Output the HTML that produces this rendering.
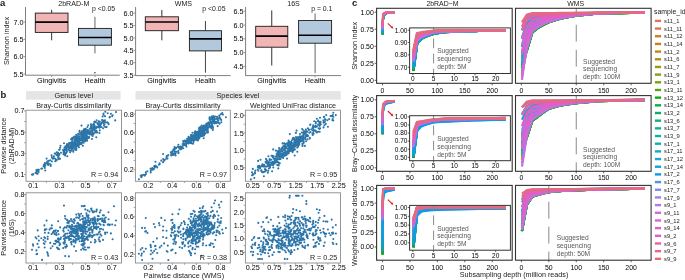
<!DOCTYPE html>
<html><head><meta charset="utf-8"><style>
html,body{margin:0;padding:0;background:#fff;}
.cv{filter:saturate(0.9) brightness(0.94);}
svg{display:block;will-change:transform;font-family:"Liberation Sans", sans-serif;font-size:7.2px;}
</style></head><body>
<svg width="685" height="280" viewBox="0 0 685 280">
<rect width="685" height="280" fill="#fff"/>
<text x="0.00" y="5.60" font-weight="bold" font-size="9.5" fill="#1A1A1A">a</text>
<text x="0" y="0" text-anchor="middle" fill="#1A1A1A" transform="translate(6.70,41.00) rotate(-90)" dominant-baseline="central">Shannon index</text>
<line x1="25.50" y1="7.00" x2="25.50" y2="75.20" stroke="#7F7F7F" stroke-width="1"/>
<line x1="25.00" y1="75.20" x2="119.80" y2="75.20" stroke="#7F7F7F" stroke-width="1"/>
<line x1="23.50" y1="22.00" x2="25.50" y2="22.00" stroke="#7F7F7F" stroke-width="0.8"/>
<text x="23.50" y="24.58" text-anchor="end">7.0</text>
<line x1="23.50" y1="39.33" x2="25.50" y2="39.33" stroke="#7F7F7F" stroke-width="0.8"/>
<text x="23.50" y="41.91" text-anchor="end">6.5</text>
<line x1="23.50" y1="56.67" x2="25.50" y2="56.67" stroke="#7F7F7F" stroke-width="0.8"/>
<text x="23.50" y="59.24" text-anchor="end">6.0</text>
<line x1="23.50" y1="74.00" x2="25.50" y2="74.00" stroke="#7F7F7F" stroke-width="0.8"/>
<text x="23.50" y="76.58" text-anchor="end">5.5</text>
<text x="73.80" y="6.20" text-anchor="middle" font-size="7.1" fill="#1A1A1A">2bRAD-M</text>
<text x="92.00" y="10.98" font-size="6.9" fill="#1A1A1A">p &lt;0.05</text>
<line x1="51.65" y1="9.90" x2="51.65" y2="13.10" stroke="#333" stroke-width="1"/>
<line x1="51.65" y1="32.40" x2="51.65" y2="40.30" stroke="#333" stroke-width="1"/>
<rect x="35.30" y="13.10" width="32.70" height="19.30" fill="#F0B5B4" stroke="#1A1A1A" stroke-width="0.9"/>
<line x1="35.30" y1="22.10" x2="68.00" y2="22.10" stroke="#000" stroke-width="1.6"/>
<line x1="94.95" y1="16.80" x2="94.95" y2="28.40" stroke="#666" stroke-width="1"/>
<line x1="94.95" y1="45.20" x2="94.95" y2="53.40" stroke="#666" stroke-width="1"/>
<rect x="78.50" y="28.40" width="32.90" height="16.80" fill="#B2C8DD" stroke="#1A1A1A" stroke-width="0.9"/>
<line x1="78.50" y1="37.50" x2="111.40" y2="37.50" stroke="#000" stroke-width="1.6"/>
<circle cx="94.95" cy="72.70" r="0.75" fill="#333"/>
<line x1="51.60" y1="75.20" x2="51.60" y2="77.00" stroke="#7F7F7F" stroke-width="0.8"/>
<text x="51.60" y="83.22" text-anchor="middle">Gingivitis</text>
<line x1="95.00" y1="75.20" x2="95.00" y2="77.00" stroke="#7F7F7F" stroke-width="0.8"/>
<text x="95.00" y="83.22" text-anchor="middle">Health</text>
<line x1="135.60" y1="7.00" x2="135.60" y2="75.60" stroke="#7F7F7F" stroke-width="1"/>
<line x1="135.10" y1="75.60" x2="230.70" y2="75.60" stroke="#7F7F7F" stroke-width="1"/>
<line x1="133.60" y1="13.10" x2="135.60" y2="13.10" stroke="#7F7F7F" stroke-width="0.8"/>
<text x="133.60" y="15.68" text-anchor="end">6.0</text>
<line x1="133.60" y1="25.52" x2="135.60" y2="25.52" stroke="#7F7F7F" stroke-width="0.8"/>
<text x="133.60" y="28.10" text-anchor="end">5.5</text>
<line x1="133.60" y1="37.94" x2="135.60" y2="37.94" stroke="#7F7F7F" stroke-width="0.8"/>
<text x="133.60" y="40.52" text-anchor="end">5.0</text>
<line x1="133.60" y1="50.36" x2="135.60" y2="50.36" stroke="#7F7F7F" stroke-width="0.8"/>
<text x="133.60" y="52.94" text-anchor="end">4.5</text>
<line x1="133.60" y1="62.78" x2="135.60" y2="62.78" stroke="#7F7F7F" stroke-width="0.8"/>
<text x="133.60" y="65.36" text-anchor="end">4.0</text>
<line x1="133.60" y1="75.20" x2="135.60" y2="75.20" stroke="#7F7F7F" stroke-width="0.8"/>
<text x="133.60" y="77.78" text-anchor="end">3.5</text>
<text x="183.40" y="6.20" text-anchor="middle" font-size="7.1" fill="#1A1A1A">WMS</text>
<text x="202.30" y="10.98" font-size="6.9" fill="#1A1A1A">p &lt;0.05</text>
<line x1="161.85" y1="10.00" x2="161.85" y2="16.80" stroke="#333" stroke-width="1"/>
<line x1="161.85" y1="30.70" x2="161.85" y2="40.30" stroke="#333" stroke-width="1"/>
<rect x="145.30" y="16.80" width="33.10" height="13.90" fill="#F0B5B4" stroke="#1A1A1A" stroke-width="0.9"/>
<line x1="145.30" y1="22.00" x2="178.40" y2="22.00" stroke="#000" stroke-width="1.6"/>
<line x1="205.45" y1="21.00" x2="205.45" y2="30.70" stroke="#444" stroke-width="1"/>
<line x1="205.45" y1="50.90" x2="205.45" y2="72.70" stroke="#444" stroke-width="1"/>
<rect x="189.40" y="30.70" width="32.10" height="20.20" fill="#B2C8DD" stroke="#1A1A1A" stroke-width="0.9"/>
<line x1="189.40" y1="38.90" x2="221.50" y2="38.90" stroke="#000" stroke-width="1.6"/>
<line x1="161.80" y1="75.60" x2="161.80" y2="77.40" stroke="#7F7F7F" stroke-width="0.8"/>
<text x="161.80" y="83.22" text-anchor="middle">Gingivitis</text>
<line x1="205.40" y1="75.60" x2="205.40" y2="77.40" stroke="#7F7F7F" stroke-width="0.8"/>
<text x="205.40" y="83.22" text-anchor="middle">Health</text>
<line x1="245.60" y1="7.00" x2="245.60" y2="75.60" stroke="#7F7F7F" stroke-width="1"/>
<line x1="245.10" y1="75.60" x2="341.00" y2="75.60" stroke="#7F7F7F" stroke-width="1"/>
<line x1="243.60" y1="11.20" x2="245.60" y2="11.20" stroke="#7F7F7F" stroke-width="0.8"/>
<text x="243.60" y="13.78" text-anchor="end">6.5</text>
<line x1="243.60" y1="25.02" x2="245.60" y2="25.02" stroke="#7F7F7F" stroke-width="0.8"/>
<text x="243.60" y="27.60" text-anchor="end">6.0</text>
<line x1="243.60" y1="38.85" x2="245.60" y2="38.85" stroke="#7F7F7F" stroke-width="0.8"/>
<text x="243.60" y="41.43" text-anchor="end">5.5</text>
<line x1="243.60" y1="52.67" x2="245.60" y2="52.67" stroke="#7F7F7F" stroke-width="0.8"/>
<text x="243.60" y="55.25" text-anchor="end">5.0</text>
<line x1="243.60" y1="66.50" x2="245.60" y2="66.50" stroke="#7F7F7F" stroke-width="0.8"/>
<text x="243.60" y="69.08" text-anchor="end">4.5</text>
<text x="293.50" y="6.20" text-anchor="middle" font-size="7.1" fill="#1A1A1A">16S</text>
<text x="311.20" y="10.68" font-size="6.9" fill="#1A1A1A">p = 0.1</text>
<line x1="271.75" y1="10.40" x2="271.75" y2="26.30" stroke="#333" stroke-width="1"/>
<line x1="271.75" y1="47.20" x2="271.75" y2="65.50" stroke="#333" stroke-width="1"/>
<rect x="255.70" y="26.30" width="32.10" height="20.90" fill="#F0B5B4" stroke="#1A1A1A" stroke-width="0.9"/>
<line x1="255.70" y1="36.10" x2="287.80" y2="36.10" stroke="#000" stroke-width="1.6"/>
<line x1="315.10" y1="13.40" x2="315.10" y2="20.50" stroke="#666" stroke-width="1"/>
<line x1="315.10" y1="43.20" x2="315.10" y2="73.20" stroke="#666" stroke-width="1"/>
<rect x="298.60" y="20.50" width="33.00" height="22.70" fill="#B2C8DD" stroke="#1A1A1A" stroke-width="0.9"/>
<line x1="298.60" y1="35.20" x2="331.60" y2="35.20" stroke="#000" stroke-width="1.6"/>
<line x1="271.80" y1="75.60" x2="271.80" y2="77.40" stroke="#7F7F7F" stroke-width="0.8"/>
<text x="271.80" y="83.22" text-anchor="middle">Gingivitis</text>
<line x1="315.10" y1="75.60" x2="315.10" y2="77.40" stroke="#7F7F7F" stroke-width="0.8"/>
<text x="315.10" y="83.22" text-anchor="middle">Health</text>
<text x="0.50" y="98.00" font-weight="bold" font-size="9.5" fill="#1A1A1A">b</text>
<rect x="26.00" y="91.10" width="94.60" height="8.60" fill="#E4E5E7" stroke="none" stroke-width="1"/>
<rect x="135.50" y="91.10" width="205.20" height="8.60" fill="#E4E5E7" stroke="none" stroke-width="1"/>
<text x="73.80" y="97.98" text-anchor="middle" font-size="7.3" fill="#1A1A1A">Genus level</text>
<text x="238.00" y="97.98" text-anchor="middle" font-size="7.3" fill="#1A1A1A">Species level</text>
<text x="73.80" y="107.92" text-anchor="middle" fill="#1A1A1A">Bray-Curtis dissimilarity</text>
<text x="183.00" y="107.92" text-anchor="middle" fill="#1A1A1A">Bray-Curtis dissimilarity</text>
<text x="293.00" y="107.92" text-anchor="middle" fill="#1A1A1A">Weighted UniFrac distance</text>
<path d="M94.4 126.4h0M99.4 132.9h0M78.2 133.7h0M85.5 129.4h0M76.4 136.0h0M84.0 129.3h0M85.2 135.2h0M74.8 141.8h0M100.3 126.7h0M75.3 138.1h0M33.2 174.0h0M79.6 130.8h0M89.8 134.2h0M85.5 131.1h0M73.0 138.7h0M68.5 146.4h0M95.2 128.2h0M87.8 137.3h0M103.5 114.6h0M67.5 144.4h0M73.2 137.5h0M78.1 141.4h0M71.0 139.2h0M98.8 121.3h0M64.5 147.5h0M37.2 169.7h0M82.0 138.7h0M73.0 144.5h0M69.1 143.0h0M59.4 154.6h0M72.6 143.5h0M103.0 120.5h0M54.0 156.8h0M56.7 152.3h0M89.5 134.4h0M75.1 140.7h0M75.8 143.4h0M61.0 152.8h0M80.1 140.8h0M78.8 145.2h0M85.5 135.9h0M85.2 140.4h0M81.9 131.2h0M96.6 132.3h0M63.6 152.6h0M87.6 131.7h0M89.6 133.1h0M72.5 139.4h0M109.9 116.9h0M56.5 160.5h0M82.9 132.3h0M92.5 130.8h0M81.5 125.6h0M83.0 140.1h0M47.7 164.1h0M66.6 148.6h0M65.0 153.6h0M66.4 146.6h0M87.4 127.1h0M51.6 155.4h0M76.0 139.8h0M85.8 134.7h0M91.0 124.4h0M85.9 129.0h0M82.0 138.0h0M81.8 139.4h0M79.4 142.2h0M84.2 134.7h0M88.5 132.6h0M90.9 127.2h0M102.6 116.5h0M56.3 159.8h0M102.0 120.0h0M92.7 127.5h0M89.9 132.9h0M83.4 135.5h0M59.7 149.7h0M84.4 135.3h0M99.8 124.1h0M78.1 141.5h0M84.8 133.8h0M75.6 143.9h0M88.4 130.2h0M84.1 140.6h0M68.4 149.8h0M110.9 113.7h0M78.9 134.5h0M81.0 140.3h0M70.9 145.4h0M85.2 132.2h0M82.3 138.4h0M68.4 146.7h0M46.4 163.1h0M84.9 140.7h0M50.7 164.8h0M83.1 135.8h0M91.5 134.8h0M105.0 120.3h0M64.8 149.8h0M83.6 139.5h0M75.6 146.0h0M73.6 146.8h0M72.3 140.5h0M82.9 145.7h0M94.2 124.6h0M43.6 166.3h0M104.4 124.4h0M73.7 142.7h0M100.6 124.4h0M108.2 123.1h0M101.1 124.1h0M44.3 165.5h0M74.1 142.1h0M79.2 139.4h0M66.3 149.6h0M96.3 137.3h0M75.2 145.3h0M84.4 133.9h0M92.8 127.0h0M71.7 148.4h0M75.6 145.0h0M93.5 134.1h0M74.1 148.5h0M94.6 126.2h0M58.2 152.9h0M72.8 144.7h0M97.7 124.3h0M83.5 130.8h0M84.5 140.2h0M72.8 144.3h0M69.1 147.4h0M77.0 137.6h0M83.2 142.1h0M74.7 148.8h0M77.3 139.6h0M107.1 122.2h0M83.7 135.3h0M48.5 160.9h0M63.7 149.7h0M81.0 134.6h0M64.9 149.5h0M69.1 147.1h0M78.1 146.3h0M44.9 163.0h0M108.6 124.3h0M71.6 145.6h0M76.2 137.0h0M83.7 142.8h0M68.9 144.8h0M58.6 157.2h0M77.0 141.6h0M60.1 158.7h0M92.0 139.0h0M52.5 158.2h0M79.5 131.4h0M76.4 138.7h0M65.2 149.7h0M89.2 131.4h0M71.6 139.3h0M103.5 113.6h0M79.0 141.9h0M82.7 140.8h0M76.2 134.9h0M74.0 144.7h0M36.4 170.1h0M81.2 133.3h0M83.8 139.2h0M69.9 148.2h0M105.2 127.1h0M67.0 144.9h0M98.7 125.6h0M72.1 141.8h0M103.1 128.2h0M89.8 128.7h0M101.4 127.0h0M73.6 144.4h0M85.1 140.4h0M77.3 141.9h0M71.5 142.9h0M45.4 165.4h0M97.8 126.9h0M82.2 135.4h0M88.9 133.6h0M85.5 132.8h0M94.0 128.1h0M77.3 137.8h0M98.8 126.8h0M93.0 128.5h0M82.9 135.9h0M72.4 139.2h0M78.6 138.4h0M36.5 173.4h0M65.7 153.4h0M88.9 132.4h0M58.7 155.9h0M49.5 163.7h0M80.7 140.4h0M71.6 142.5h0M70.1 152.2h0M85.6 133.5h0M85.8 135.5h0M84.9 129.0h0M87.0 140.6h0M75.8 140.4h0M70.9 146.3h0M73.1 143.5h0M83.9 134.1h0M72.1 138.0h0M83.0 135.0h0M81.2 135.8h0M82.2 142.6h0M71.6 142.9h0M81.5 142.8h0M81.1 138.5h0M88.1 130.9h0M94.3 121.9h0M83.4 132.4h0M57.0 155.3h0M77.1 137.9h0M92.5 130.4h0M71.4 145.0h0M38.9 169.7h0M78.9 136.6h0M78.1 141.1h0M64.6 153.4h0M64.1 154.4h0M64.0 143.3h0M79.0 147.3h0M90.8 131.0h0M64.0 151.4h0M77.9 141.2h0M71.5 148.5h0M77.1 138.9h0M87.1 133.1h0M67.0 151.7h0M66.5 150.2h0M108.5 123.8h0M82.2 135.6h0M60.1 147.8h0M76.8 135.4h0M81.6 133.7h0M87.6 133.2h0M88.5 132.4h0M57.8 154.0h0M105.3 111.8h0M71.3 145.1h0M58.2 155.2h0M89.1 137.1h0M85.6 134.4h0M75.1 141.9h0M100.0 126.9h0M79.0 143.2h0M103.9 120.9h0M77.0 139.7h0M99.2 127.8h0M105.0 116.3h0M103.2 123.0h0M82.1 136.0h0M54.7 153.5h0M55.4 158.7h0M88.7 132.4h0M91.4 131.6h0M78.2 141.5h0M44.9 164.2h0M76.1 147.5h0M50.3 160.2h0M79.9 144.3h0M95.5 130.2h0M71.3 142.6h0M65.2 155.4h0M82.5 131.8h0M74.4 136.5h0M92.5 124.7h0M81.8 134.9h0M52.9 158.8h0M69.8 147.1h0M46.6 158.6h0M38.6 171.9h0M116.0 112.1h0M70.8 143.8h0M86.9 135.8h0M87.9 138.1h0M44.4 164.8h0M71.0 145.4h0M87.0 140.8h0M79.2 141.7h0M95.1 131.0h0M112.2 116.3h0M63.2 149.8h0M104.9 116.2h0M89.1 137.4h0M74.1 143.5h0M71.9 147.1h0M37.7 173.8h0M74.6 140.5h0M92.2 131.9h0M45.0 165.6h0M75.6 149.7h0M99.9 121.7h0M87.1 133.4h0M58.0 153.4h0M90.4 133.4h0M85.4 128.7h0M87.9 131.6h0M89.2 134.1h0M91.0 128.8h0M87.7 130.5h0M100.6 126.2h0M65.4 146.3h0M67.2 146.9h0M79.4 136.4h0M74.9 139.0h0M60.5 145.7h0M81.2 138.3h0M80.2 140.6h0M92.9 127.2h0M109.6 117.4h0M73.3 151.7h0M86.4 132.2h0M81.4 144.1h0M81.5 140.2h0M76.0 140.9h0M92.8 130.7h0M79.7 140.6h0M59.1 153.7h0M70.3 142.8h0M78.5 136.2h0M63.3 150.7h0M86.7 132.3h0M85.3 141.1h0M115.2 120.4h0M89.6 131.8h0M89.9 133.9h0M86.0 133.9h0M85.4 138.3h0M73.5 146.0h0M88.6 133.1h0M76.3 149.9h0M66.1 153.2h0M97.5 123.2h0M82.7 136.9h0M69.4 150.5h0M92.9 128.3h0M59.1 149.7h0M81.9 132.4h0M64.7 154.2h0M51.9 161.5h0M73.4 150.6h0M95.0 130.5h0M88.8 137.9h0M58.1 157.7h0M94.4 127.0h0M79.2 140.7h0M86.2 135.7h0M106.6 126.9h0M57.9 152.9h0M84.3 137.1h0M97.0 132.6h0M38.7 169.7h0M91.0 126.0h0M86.7 139.6h0M83.3 134.8h0M99.8 130.2h0M81.8 134.3h0M65.3 148.0h0M104.5 121.9h0M71.9 148.5h0M71.1 150.6h0M91.7 134.1h0M93.8 125.2h0M81.9 136.4h0M37.5 170.7h0M42.1 168.5h0M93.8 129.3h0M56.5 155.1h0M67.3 156.2h0M41.3 168.8h0M84.1 136.1h0M96.8 131.6h0M84.6 137.8h0M85.5 135.8h0M82.7 141.7h0M44.8 168.0h0M92.6 136.0h0M73.5 147.5h0M64.5 150.9h0M78.9 137.2h0M68.8 148.0h0M82.8 138.4h0M48.2 165.0h0M32.0 174.6h0M44.4 166.6h0M51.9 157.4h0M87.5 133.7h0M47.2 161.5h0M83.1 135.5h0M79.6 139.7h0M53.8 158.2h0M75.5 145.7h0M93.3 126.7h0M90.4 132.4h0M86.4 137.9h0M85.3 135.3h0M83.2 133.6h0M112.6 115.3h0M45.2 170.5h0M77.8 143.2h0M58.0 155.7h0M81.9 136.2h0M63.5 154.2h0M92.1 129.3h0M94.4 125.8h0M63.4 150.3h0M76.4 148.4h0M100.4 127.3h0M85.2 138.5h0M92.4 132.6h0M96.4 127.9h0M68.5 144.4h0M99.5 125.4h0M80.8 143.0h0M55.3 161.3h0M43.8 164.9h0M93.8 133.3h0M32.9 174.7h0M55.5 153.7h0M96.6 120.2h0M94.8 121.7h0M75.5 146.7h0M80.0 132.8h0M36.5 171.6h0M107.7 113.3h0M84.6 135.6h0M95.8 122.2h0M81.0 138.0h0M102.0 122.2h0M95.0 128.4h0M82.6 140.2h0M77.8 140.5h0M91.0 126.9h0M88.1 137.4h0M84.3 135.1h0M77.4 144.5h0M76.6 145.7h0M71.3 150.7h0M88.2 125.2h0M47.8 162.4h0M71.9 145.9h0M93.8 123.9h0M50.7 165.9h0M80.3 138.3h0M71.6 147.1h0M53.9 156.4h0M55.8 160.5h0M98.9 124.0h0M100.6 123.5h0M83.4 130.6h0M35.6 172.9h0M69.4 146.8h0M94.6 125.9h0M47.7 161.9h0M77.1 138.9h0M94.9 127.1h0M44.7 167.4h0M67.3 144.2h0M92.9 128.5h0M64.7 152.2h0M95.7 122.2h0M103.9 125.4h0M97.7 124.3h0M58.4 159.3h0M67.0 144.0h0M92.3 134.6h0M82.1 135.9h0M105.8 122.5h0M58.3 156.4h0M72.0 149.0h0M96.7 126.7h0M95.3 132.4h0M76.2 138.2h0M96.4 130.7h0M72.8 144.5h0M67.9 145.5h0M68.9 144.6h0M69.8 143.4h0M84.8 131.0h0M65.3 148.6h0M87.8 130.0h0M86.6 130.1h0M64.9 154.3h0M88.0 132.8h0M102.9 121.4h0M93.7 129.1h0M98.4 122.3h0" stroke="#2C75A9" stroke-width="2.1" stroke-linecap="round" fill="none"/>
<rect x="26.00" y="110.20" width="95.50" height="71.10" fill="none" stroke="#8C8C8C" stroke-width="0.9"/>
<line x1="24.00" y1="174.50" x2="26.00" y2="174.50" stroke="#8C8C8C" stroke-width="0.8"/>
<text x="24.40" y="177.08" text-anchor="end">0.1</text>
<line x1="24.00" y1="153.30" x2="26.00" y2="153.30" stroke="#8C8C8C" stroke-width="0.8"/>
<text x="24.40" y="155.88" text-anchor="end">0.3</text>
<line x1="24.00" y1="132.10" x2="26.00" y2="132.10" stroke="#8C8C8C" stroke-width="0.8"/>
<text x="24.40" y="134.68" text-anchor="end">0.5</text>
<line x1="24.00" y1="110.90" x2="26.00" y2="110.90" stroke="#8C8C8C" stroke-width="0.8"/>
<text x="24.40" y="113.48" text-anchor="end">0.7</text>
<line x1="24.20" y1="163.90" x2="26.00" y2="163.90" stroke="#8C8C8C" stroke-width="0.8"/>
<line x1="24.20" y1="142.70" x2="26.00" y2="142.70" stroke="#8C8C8C" stroke-width="0.8"/>
<line x1="24.20" y1="121.50" x2="26.00" y2="121.50" stroke="#8C8C8C" stroke-width="0.8"/>
<line x1="46.37" y1="181.30" x2="46.37" y2="183.10" stroke="#8C8C8C" stroke-width="0.8"/>
<line x1="72.50" y1="181.30" x2="72.50" y2="183.10" stroke="#8C8C8C" stroke-width="0.8"/>
<line x1="98.63" y1="181.30" x2="98.63" y2="183.10" stroke="#8C8C8C" stroke-width="0.8"/>
<line x1="33.30" y1="181.30" x2="33.30" y2="183.30" stroke="#8C8C8C" stroke-width="0.8"/>
<text x="33.30" y="188.08" text-anchor="middle">0.1</text>
<line x1="59.43" y1="181.30" x2="59.43" y2="183.30" stroke="#8C8C8C" stroke-width="0.8"/>
<text x="59.43" y="188.08" text-anchor="middle">0.3</text>
<line x1="85.57" y1="181.30" x2="85.57" y2="183.30" stroke="#8C8C8C" stroke-width="0.8"/>
<text x="85.57" y="188.08" text-anchor="middle">0.5</text>
<line x1="111.70" y1="181.30" x2="111.70" y2="183.30" stroke="#8C8C8C" stroke-width="0.8"/>
<text x="111.70" y="188.08" text-anchor="middle">0.7</text>
<text x="118.30" y="176.88" text-anchor="end" fill="#1A1A1A">R = 0.94</text>
<path d="M198.8 134.8h0M183.5 145.4h0M175.2 153.2h0M189.8 141.4h0M140.7 175.8h0M197.2 132.2h0M215.1 121.9h0M212.3 125.8h0M191.9 137.0h0M174.5 147.0h0M209.6 117.4h0M195.5 132.5h0M194.5 136.7h0M168.3 155.0h0M185.8 144.1h0M201.6 133.5h0M205.0 130.7h0M205.5 128.5h0M199.0 131.6h0M203.5 126.1h0M173.9 149.5h0M194.6 135.5h0M193.0 143.3h0M184.6 140.8h0M194.4 135.6h0M199.2 135.0h0M206.5 124.2h0M197.4 136.8h0M198.0 134.9h0M152.5 168.1h0M190.0 140.2h0M155.7 165.8h0M199.3 138.4h0M218.9 122.7h0M207.8 127.1h0M190.0 138.4h0M206.4 128.0h0M203.1 133.5h0M225.9 117.2h0M193.6 140.3h0M207.5 124.0h0M210.7 127.5h0M182.6 144.0h0M198.1 137.1h0M180.6 149.4h0M192.7 139.7h0M175.6 148.2h0M138.9 179.2h0M187.9 142.1h0M171.7 155.0h0M192.3 139.7h0M209.2 123.1h0M188.2 142.9h0M182.1 146.5h0M203.4 133.4h0M188.8 142.7h0M195.2 136.0h0M206.3 123.9h0M188.5 136.9h0M196.8 138.2h0M204.6 129.9h0M219.6 123.7h0M211.6 124.9h0M187.1 142.2h0M150.5 168.7h0M200.2 131.2h0M198.0 136.8h0M174.5 154.2h0M199.2 137.1h0M211.9 119.1h0M198.7 136.9h0M191.0 137.1h0M205.4 127.9h0M214.2 119.3h0M193.6 141.5h0M191.1 138.3h0M206.6 126.6h0M219.2 118.3h0M179.7 146.8h0M173.3 154.9h0M173.4 149.6h0M201.5 134.5h0M192.8 138.4h0M186.4 140.8h0M216.5 118.7h0M213.5 117.9h0M195.9 135.8h0M163.0 162.3h0M195.6 135.0h0M211.4 122.7h0M205.1 133.3h0M212.8 120.5h0M214.2 118.4h0M198.2 136.1h0M201.0 129.5h0M189.8 140.1h0M191.9 136.4h0M218.4 120.5h0M203.0 128.1h0M210.8 122.6h0M190.8 139.4h0M171.9 154.3h0M188.2 141.8h0M208.9 124.0h0M214.1 117.8h0M205.1 129.2h0M174.1 150.2h0M142.3 175.7h0M210.4 119.4h0M191.3 136.2h0M214.2 119.7h0M198.3 132.8h0M172.3 154.4h0M203.8 134.2h0M196.1 133.4h0M172.3 154.8h0M164.1 160.7h0M201.2 128.9h0M222.9 114.6h0M156.9 166.7h0M185.8 140.5h0M205.7 129.2h0M211.1 121.5h0M152.7 169.7h0M195.7 139.7h0M200.5 133.9h0M166.7 156.1h0M208.0 132.4h0M203.6 133.0h0M207.9 124.0h0M155.5 161.8h0M208.9 126.7h0M207.7 129.6h0M203.9 131.0h0M159.0 164.7h0M201.1 127.8h0M197.2 132.9h0M206.6 130.2h0M195.4 133.9h0M204.1 135.5h0M196.3 135.3h0M219.2 118.3h0M208.9 126.6h0M182.1 148.2h0M197.0 136.5h0M150.7 172.4h0M167.8 155.8h0M188.5 143.6h0M210.4 123.2h0M211.3 121.8h0M172.6 154.5h0M199.2 136.4h0M213.7 122.3h0M145.8 172.2h0M190.5 143.0h0M196.6 135.4h0M191.1 141.8h0M187.1 138.8h0M204.6 128.1h0M157.2 167.4h0M202.3 132.5h0M189.4 140.5h0M194.9 137.7h0M207.4 126.9h0M202.6 129.6h0M197.0 134.4h0M190.2 141.0h0M183.4 141.8h0M188.4 139.2h0M198.4 134.7h0M201.5 131.9h0M192.2 140.1h0M207.8 130.9h0M199.0 134.3h0M219.8 117.7h0M201.1 132.9h0M181.1 149.0h0M203.7 138.3h0M205.1 133.8h0M200.4 130.1h0M196.6 140.0h0M200.9 130.5h0M207.7 124.9h0M217.6 119.9h0M198.5 133.8h0M210.4 122.6h0M219.4 118.4h0M199.0 133.6h0M219.3 115.5h0M204.5 129.5h0M199.0 128.1h0M204.1 132.7h0M214.3 123.2h0M189.6 141.1h0M184.7 143.7h0M154.9 167.4h0M210.0 119.7h0M163.2 159.0h0M178.6 152.7h0M206.2 128.1h0M185.5 141.9h0M195.2 133.2h0M188.0 140.7h0M146.0 174.1h0M215.1 119.0h0M153.8 169.3h0M203.4 129.9h0M175.5 153.5h0M198.8 130.0h0M202.6 128.8h0M201.6 125.6h0M207.7 127.7h0M195.0 136.7h0M191.8 140.0h0M175.0 149.0h0M207.4 130.2h0M203.3 128.3h0M194.9 137.4h0M204.3 127.5h0M186.3 142.3h0M191.5 141.0h0M186.2 144.0h0M201.4 136.3h0M194.2 139.4h0M199.9 134.4h0M202.5 128.1h0M195.3 137.3h0M187.6 141.4h0M188.8 141.6h0M200.9 135.5h0M201.1 130.3h0M213.7 116.7h0M171.2 152.9h0M207.5 123.6h0M192.4 136.9h0M201.7 128.8h0M212.5 117.3h0M191.3 143.3h0M176.4 151.7h0M199.0 137.4h0M204.8 129.1h0M203.7 131.0h0M191.2 141.1h0M212.8 121.7h0M178.4 144.7h0M207.5 123.2h0M183.2 141.1h0M203.2 130.0h0M190.4 138.8h0M184.9 140.6h0M213.8 119.4h0M184.9 141.6h0M179.4 148.7h0M193.3 138.8h0M192.6 139.8h0M203.9 126.3h0M206.5 130.2h0M196.4 134.9h0M192.9 137.3h0M143.9 174.7h0M192.3 139.1h0M201.5 130.4h0M210.3 127.0h0M180.9 146.6h0M195.5 132.6h0M214.4 123.5h0M192.7 135.2h0M208.7 122.6h0M190.9 135.0h0M195.5 138.2h0M210.1 120.2h0M200.4 129.6h0M203.1 126.3h0M222.2 113.0h0M195.0 136.8h0M174.5 149.7h0M142.1 175.6h0M194.6 137.9h0M194.7 138.0h0M166.4 158.5h0M212.3 123.8h0M186.4 146.6h0M217.6 118.4h0M193.7 140.8h0M188.2 139.9h0M188.9 137.5h0M209.1 122.3h0M188.8 137.0h0M194.5 132.7h0M209.4 118.8h0M190.1 140.2h0M153.3 168.8h0M190.7 139.9h0M197.3 137.2h0M200.9 128.3h0M212.8 129.9h0M195.1 136.2h0M196.5 132.8h0M178.8 147.1h0M206.9 125.0h0M199.1 136.1h0M180.4 148.3h0M193.5 137.8h0M161.3 160.7h0M212.3 121.6h0M195.4 132.2h0M199.5 136.3h0M195.2 135.4h0M213.3 116.0h0M200.2 128.9h0M195.8 135.1h0M174.6 149.8h0M171.2 154.6h0M189.0 137.6h0M187.8 142.9h0M188.8 138.9h0M214.3 121.2h0M145.8 174.2h0M196.7 134.5h0M172.6 153.2h0M194.9 138.1h0M195.8 135.3h0M145.2 174.8h0M177.7 146.8h0M203.0 129.0h0M172.3 151.3h0M209.9 123.2h0M213.8 121.4h0M211.3 128.1h0M194.7 137.2h0M214.8 121.4h0M208.4 127.7h0M189.3 140.7h0M193.5 138.4h0M195.4 137.2h0M204.0 131.9h0M184.9 145.0h0M207.1 130.3h0M217.1 116.7h0M192.6 137.4h0M161.4 160.6h0M174.0 150.4h0M199.8 133.7h0M203.7 126.9h0M221.3 122.2h0M203.8 131.4h0M207.8 126.6h0M191.1 135.1h0M205.4 125.4h0M197.7 132.1h0M200.7 130.0h0M141.3 177.2h0M194.7 136.9h0M191.2 140.7h0M197.8 134.0h0M212.8 126.5h0M196.0 136.3h0M181.6 147.4h0M183.4 143.9h0M191.9 140.1h0M193.1 136.9h0M205.5 127.1h0M192.9 136.6h0M192.7 136.1h0M216.2 123.2h0M192.2 138.2h0M191.3 139.4h0M208.0 123.6h0M202.5 131.9h0M166.5 157.1h0M199.2 136.6h0M206.8 128.4h0M220.7 119.3h0M199.8 132.8h0M190.5 141.2h0M195.0 136.5h0M195.9 135.1h0M207.7 129.6h0M208.0 124.6h0M172.4 154.4h0M195.1 131.2h0M170.8 152.2h0M183.3 143.6h0M179.2 147.9h0M208.3 122.6h0M205.9 127.4h0M193.7 141.3h0M203.2 128.4h0M206.2 127.2h0M193.0 143.7h0M203.1 134.9h0M176.1 147.7h0M196.0 134.7h0M171.2 155.5h0M206.9 132.4h0M178.3 151.1h0M203.9 125.5h0M175.6 155.5h0M150.9 168.5h0M211.3 117.3h0M192.3 138.0h0M190.0 142.3h0M209.3 124.1h0M202.8 128.8h0M192.4 137.3h0M209.7 125.8h0M197.1 138.7h0M171.3 153.1h0M141.9 175.1h0M199.2 132.1h0M196.6 133.9h0M203.1 129.9h0M199.3 130.8h0M163.1 154.0h0M194.2 138.3h0M183.9 144.0h0M193.5 140.3h0M198.4 138.5h0M190.5 139.7h0M200.4 128.6h0M189.6 142.6h0M164.8 159.7h0M173.4 153.6h0M195.1 139.8h0M183.2 148.3h0M201.2 131.5h0M206.6 128.9h0M198.3 134.4h0M204.6 131.8h0M199.9 129.1h0M192.4 132.8h0M159.8 164.0h0M196.5 139.1h0M197.0 131.7h0M174.5 148.8h0M200.3 127.1h0M167.5 158.6h0M190.9 139.6h0M202.6 135.9h0M187.4 141.0h0M144.9 175.6h0M213.1 128.0h0M205.1 126.8h0M142.1 175.3h0M178.3 153.1h0M174.9 153.0h0M211.9 116.6h0M197.9 140.4h0M210.4 126.3h0M199.7 127.6h0M183.3 141.1h0M151.2 168.9h0M210.8 126.8h0M154.1 166.3h0M216.8 122.0h0M155.0 165.7h0M176.1 148.3h0M200.9 131.7h0M189.1 138.0h0M192.0 135.5h0M150.8 170.7h0M159.5 163.4h0M203.3 132.8h0M196.1 134.6h0M193.6 141.8h0M221.2 119.9h0M217.7 126.1h0M147.4 171.3h0M204.2 132.0h0M202.6 127.3h0M185.9 141.4h0M219.4 116.7h0M195.3 138.2h0M200.7 136.4h0M217.9 122.6h0M191.0 139.3h0M198.6 133.9h0M203.0 130.9h0M202.8 130.5h0M195.0 132.8h0M192.7 135.2h0M201.8 134.6h0M197.9 132.5h0M186.1 145.1h0M174.6 151.2h0M199.4 132.5h0M220.8 114.2h0M194.3 134.9h0M202.6 133.9h0M206.5 128.2h0M187.8 140.8h0M198.2 134.5h0M215.3 116.5h0M199.9 136.4h0M183.0 144.1h0M189.2 140.3h0" stroke="#2C75A9" stroke-width="2.1" stroke-linecap="round" fill="none"/>
<rect x="135.40" y="110.20" width="94.90" height="71.10" fill="none" stroke="#8C8C8C" stroke-width="0.9"/>
<line x1="133.40" y1="169.80" x2="135.40" y2="169.80" stroke="#8C8C8C" stroke-width="0.8"/>
<text x="133.80" y="172.38" text-anchor="end">0.2</text>
<line x1="133.40" y1="151.27" x2="135.40" y2="151.27" stroke="#8C8C8C" stroke-width="0.8"/>
<text x="133.80" y="153.84" text-anchor="end">0.4</text>
<line x1="133.40" y1="132.73" x2="135.40" y2="132.73" stroke="#8C8C8C" stroke-width="0.8"/>
<text x="133.80" y="135.31" text-anchor="end">0.6</text>
<line x1="133.40" y1="114.20" x2="135.40" y2="114.20" stroke="#8C8C8C" stroke-width="0.8"/>
<text x="133.80" y="116.78" text-anchor="end">0.8</text>
<line x1="133.60" y1="160.53" x2="135.40" y2="160.53" stroke="#8C8C8C" stroke-width="0.8"/>
<line x1="133.60" y1="142.00" x2="135.40" y2="142.00" stroke="#8C8C8C" stroke-width="0.8"/>
<line x1="133.60" y1="123.47" x2="135.40" y2="123.47" stroke="#8C8C8C" stroke-width="0.8"/>
<line x1="160.33" y1="181.30" x2="160.33" y2="183.10" stroke="#8C8C8C" stroke-width="0.8"/>
<line x1="184.40" y1="181.30" x2="184.40" y2="183.10" stroke="#8C8C8C" stroke-width="0.8"/>
<line x1="208.47" y1="181.30" x2="208.47" y2="183.10" stroke="#8C8C8C" stroke-width="0.8"/>
<line x1="148.30" y1="181.30" x2="148.30" y2="183.30" stroke="#8C8C8C" stroke-width="0.8"/>
<text x="148.30" y="188.08" text-anchor="middle">0.2</text>
<line x1="172.37" y1="181.30" x2="172.37" y2="183.30" stroke="#8C8C8C" stroke-width="0.8"/>
<text x="172.37" y="188.08" text-anchor="middle">0.4</text>
<line x1="196.43" y1="181.30" x2="196.43" y2="183.30" stroke="#8C8C8C" stroke-width="0.8"/>
<text x="196.43" y="188.08" text-anchor="middle">0.6</text>
<line x1="220.50" y1="181.30" x2="220.50" y2="183.30" stroke="#8C8C8C" stroke-width="0.8"/>
<text x="220.50" y="188.08" text-anchor="middle">0.8</text>
<text x="227.10" y="176.88" text-anchor="end" fill="#1A1A1A">R = 0.97</text>
<path d="M277.5 158.4h0M287.7 150.8h0M279.4 154.6h0M266.0 158.9h0M284.7 155.2h0M285.6 153.4h0M309.9 138.6h0M258.3 170.7h0M281.0 149.4h0M323.8 117.0h0M278.7 165.4h0M266.2 163.0h0M298.7 141.8h0M289.5 149.8h0M276.9 162.0h0M285.2 153.0h0M278.8 154.3h0M305.9 132.2h0M277.0 153.5h0M270.9 164.9h0M294.8 143.5h0M291.6 149.6h0M294.3 140.1h0M295.5 142.7h0M309.7 138.0h0M290.5 142.3h0M279.1 148.1h0M268.2 170.8h0M302.8 129.8h0M320.6 121.9h0M310.5 132.0h0M270.0 167.7h0M319.6 128.9h0M288.9 144.6h0M291.5 146.5h0M264.1 165.8h0M268.7 162.7h0M276.8 155.2h0M327.4 120.3h0M315.9 122.0h0M278.7 165.1h0M284.3 155.5h0M294.4 145.5h0M281.8 157.1h0M282.4 147.4h0M292.2 147.5h0M277.2 165.0h0M298.7 142.9h0M275.1 160.4h0M297.2 145.3h0M291.0 149.3h0M299.8 142.0h0M273.7 156.4h0M306.8 135.2h0M254.9 172.2h0M295.4 143.4h0M279.0 150.2h0M302.8 137.3h0M301.3 137.4h0M303.0 132.6h0M301.8 132.5h0M281.6 148.2h0M292.3 148.6h0M296.6 130.6h0M293.9 150.1h0M315.8 130.7h0M333.3 120.5h0M260.0 168.5h0M295.7 143.0h0M304.9 145.9h0M318.0 121.3h0M285.7 152.6h0M326.2 115.0h0M305.3 131.4h0M297.3 141.5h0M281.2 149.3h0M276.0 161.0h0M292.0 145.5h0M313.0 130.5h0M290.9 145.8h0M262.9 165.2h0M294.2 143.1h0M267.0 166.3h0M289.4 144.7h0M302.3 139.4h0M252.0 172.2h0M282.2 156.6h0M266.2 170.1h0M260.5 159.7h0M268.9 168.5h0M306.4 131.3h0M293.2 137.7h0M289.1 144.7h0M285.1 148.9h0M267.6 164.4h0M300.5 139.4h0M285.5 154.0h0M307.3 131.8h0M304.0 133.5h0M283.2 157.9h0M267.9 172.7h0M289.8 134.1h0M303.2 137.8h0M285.8 154.8h0M287.5 153.4h0M286.2 146.6h0M289.4 142.0h0M289.0 151.8h0M269.1 164.2h0M295.2 140.7h0M289.7 149.3h0M263.4 165.8h0M297.5 139.7h0M259.5 166.9h0M272.6 155.9h0M300.0 138.9h0M308.1 136.0h0M307.6 139.4h0M332.8 115.0h0M273.7 163.5h0M285.6 152.2h0M295.8 143.6h0M285.3 151.0h0M278.9 151.5h0M286.7 148.2h0M330.6 116.0h0M320.0 117.7h0M281.1 153.5h0M288.6 140.5h0M264.1 166.7h0M333.3 112.8h0M274.1 163.3h0M306.2 134.4h0M276.5 161.1h0M288.8 142.0h0M301.2 137.7h0M286.4 143.8h0M283.5 149.8h0M265.2 169.9h0M293.6 144.7h0M283.3 154.4h0M266.4 166.6h0M318.1 124.5h0M252.0 175.2h0M306.6 135.6h0M323.3 120.6h0M280.9 156.7h0M273.9 162.9h0M307.9 135.6h0M291.2 141.7h0M300.4 136.5h0M300.2 140.8h0M301.8 136.3h0M255.3 170.5h0M269.9 166.5h0M284.3 143.4h0M272.4 161.7h0M313.6 133.7h0M292.0 145.1h0M316.4 126.3h0M305.8 129.5h0M282.7 147.1h0M299.8 141.3h0M287.0 151.5h0M288.2 149.7h0M319.6 126.0h0M325.8 124.0h0M290.2 147.3h0M291.9 140.3h0M288.4 144.3h0M295.4 144.2h0M288.8 153.1h0M287.9 145.8h0M277.6 151.2h0M318.0 131.8h0M263.3 164.9h0M314.3 121.3h0M282.0 148.4h0M304.6 133.3h0M295.7 142.9h0M291.6 148.3h0M271.3 159.7h0M271.5 155.8h0M313.2 126.4h0M278.7 152.0h0M298.7 140.8h0M289.8 148.0h0M283.6 145.9h0M274.2 158.5h0M297.8 137.2h0M261.1 170.7h0M298.5 145.0h0M318.6 124.8h0M313.2 128.5h0M278.3 168.4h0M271.2 164.8h0M282.5 151.3h0M285.4 151.7h0M288.3 153.4h0M306.4 135.0h0M315.0 126.3h0M294.3 138.2h0M273.3 167.5h0M270.0 162.2h0M268.1 166.3h0M282.6 143.4h0M278.4 154.1h0M293.3 149.1h0M258.9 167.7h0M318.9 121.8h0M278.8 151.3h0M313.2 125.2h0M293.6 146.3h0M292.0 150.9h0M319.7 123.6h0M275.3 158.5h0M303.4 138.7h0M302.5 145.2h0M285.0 148.2h0M269.6 160.2h0M303.9 131.6h0M296.1 140.8h0M283.6 152.7h0M279.2 159.2h0M282.7 154.1h0M262.0 172.1h0M323.5 122.8h0M272.5 163.7h0M266.9 160.2h0M295.6 143.6h0M324.8 119.2h0M285.0 151.0h0M279.2 156.7h0M279.8 163.2h0M291.5 147.7h0M271.9 162.8h0M324.2 116.9h0M312.7 134.9h0M290.2 144.0h0M280.5 151.7h0M299.6 140.2h0M265.1 166.4h0M306.5 131.0h0M276.0 156.8h0M295.9 132.9h0M297.3 151.7h0M287.8 152.7h0M316.8 118.7h0M267.0 162.7h0M302.5 146.0h0M263.9 176.3h0M294.9 149.4h0M303.5 143.3h0M327.9 126.7h0M279.7 157.6h0M288.7 149.4h0M263.3 172.1h0M278.2 156.7h0M307.6 136.1h0M283.5 148.7h0M298.1 146.7h0M324.8 121.4h0M316.9 126.4h0M291.1 143.1h0M332.4 120.2h0M306.8 134.7h0M264.6 171.8h0M278.5 152.9h0M300.1 137.6h0M294.4 139.2h0M324.7 122.2h0M310.1 125.0h0M271.4 163.4h0M319.7 131.8h0M313.2 132.9h0M294.1 144.5h0M277.7 152.0h0M293.9 146.6h0M281.9 155.9h0M295.7 140.5h0M323.5 127.4h0M262.5 164.2h0M314.6 126.7h0M275.7 162.4h0M320.8 124.4h0M299.1 143.3h0M274.1 163.0h0M325.4 119.4h0M313.4 131.0h0M289.3 144.1h0M296.8 142.0h0M292.6 152.1h0M278.0 155.5h0M288.6 145.3h0M278.4 154.7h0M302.4 143.9h0M250.9 179.4h0M303.8 142.2h0M313.7 130.6h0M277.9 159.5h0M299.9 136.2h0M263.1 166.1h0M273.2 149.4h0M260.1 167.6h0M306.1 141.2h0M279.2 156.4h0M310.4 124.5h0M301.1 140.5h0M253.6 174.3h0M265.6 161.9h0M300.0 134.0h0M259.3 165.7h0M281.2 154.3h0M284.8 156.0h0M292.9 147.3h0M278.4 162.6h0M279.9 154.4h0M252.8 168.9h0M276.6 162.3h0M312.6 127.2h0M265.0 169.5h0M289.2 151.1h0M292.2 143.0h0M298.0 141.7h0M279.3 153.5h0M281.7 150.7h0M268.4 156.3h0M254.3 178.0h0M332.7 119.1h0M288.7 141.1h0M298.7 137.3h0M269.2 165.7h0M267.6 161.6h0M288.5 141.7h0M302.4 139.4h0M282.2 151.6h0M290.7 143.1h0M283.6 154.6h0M262.7 172.3h0M279.2 152.1h0M288.2 148.7h0M267.9 163.1h0M284.3 154.7h0M262.5 165.4h0M284.8 147.1h0M255.1 173.3h0M288.6 148.0h0M320.1 128.3h0M296.4 144.9h0M265.7 170.9h0M252.7 175.1h0M290.5 146.1h0M277.1 159.6h0M270.1 167.4h0M301.4 139.4h0M290.6 144.1h0M296.0 137.1h0M278.8 162.9h0M289.0 147.5h0M307.8 128.3h0M291.1 149.7h0M286.1 151.9h0M295.4 139.6h0M297.1 141.1h0M305.5 139.1h0M285.8 154.9h0M274.3 161.2h0M309.3 132.8h0M303.3 136.4h0M273.2 156.4h0M313.2 133.2h0M264.1 164.8h0M262.5 166.3h0M283.1 153.7h0M309.1 129.8h0M297.9 141.5h0M286.4 148.0h0M318.6 128.2h0M282.7 156.3h0M297.8 143.5h0M275.9 150.6h0M315.4 126.4h0M252.9 174.0h0M312.4 133.5h0M273.7 158.7h0M280.6 159.0h0M289.7 146.1h0M305.5 135.7h0M281.2 156.1h0M303.3 135.2h0M273.0 165.2h0M277.4 161.9h0M296.9 139.2h0M299.3 144.7h0M293.4 150.4h0M280.6 149.5h0M291.3 143.7h0M263.2 165.5h0M294.6 143.7h0M286.9 154.1h0M315.7 126.0h0M332.0 115.7h0M295.5 145.9h0M287.9 148.2h0M285.9 148.5h0M299.4 140.1h0M276.7 153.9h0M315.4 126.0h0M293.8 149.0h0M288.6 146.3h0M314.7 130.3h0M292.8 138.9h0M294.7 155.5h0M298.0 142.4h0M304.4 133.9h0M287.9 144.5h0M286.3 154.1h0M294.1 144.0h0M311.3 129.4h0M333.3 116.8h0M298.0 138.4h0M301.7 141.2h0M265.0 169.1h0M284.6 146.4h0M294.7 146.9h0M268.6 164.8h0M302.2 129.0h0M258.2 166.0h0M329.2 119.1h0M313.1 128.4h0M296.5 145.2h0M303.6 141.3h0M298.5 142.6h0M262.1 165.0h0M294.3 141.9h0M273.1 163.1h0M287.0 158.6h0M303.5 139.8h0M272.7 157.1h0M285.1 147.7h0M318.3 120.6h0M335.8 115.1h0M324.4 125.3h0M289.9 149.9h0M276.5 155.7h0M301.1 137.7h0M274.5 163.4h0M257.7 169.6h0M315.6 131.4h0M290.7 146.8h0M301.0 140.0h0M268.0 161.9h0M258.1 160.9h0M299.7 142.5h0M297.2 147.6h0M288.5 153.1h0M288.2 148.6h0M315.7 127.1h0M263.1 165.1h0M290.3 151.0h0M286.5 155.0h0M331.7 116.2h0M287.3 143.3h0M304.7 132.4h0M315.8 123.5h0M300.1 137.3h0M291.2 141.9h0M276.7 159.3h0M304.4 131.5h0M308.7 129.9h0M297.1 138.3h0M305.0 137.6h0M306.3 136.5h0M290.9 148.8h0M285.3 144.9h0M309.8 137.9h0M261.5 170.4h0M263.7 166.1h0M294.3 149.4h0M298.8 139.8h0M285.0 146.6h0M260.9 166.6h0M274.5 163.7h0M289.2 147.8h0M291.3 150.3h0M272.1 171.3h0M269.6 159.1h0M303.3 134.6h0M316.9 132.5h0M257.8 167.0h0" stroke="#2C75A9" stroke-width="2.1" stroke-linecap="round" fill="none"/>
<rect x="245.40" y="110.20" width="95.10" height="71.10" fill="none" stroke="#8C8C8C" stroke-width="0.9"/>
<line x1="243.40" y1="167.80" x2="245.40" y2="167.80" stroke="#8C8C8C" stroke-width="0.8"/>
<text x="243.80" y="170.38" text-anchor="end">0.5</text>
<line x1="243.40" y1="150.37" x2="245.40" y2="150.37" stroke="#8C8C8C" stroke-width="0.8"/>
<text x="243.80" y="152.94" text-anchor="end">1.0</text>
<line x1="243.40" y1="132.93" x2="245.40" y2="132.93" stroke="#8C8C8C" stroke-width="0.8"/>
<text x="243.80" y="135.51" text-anchor="end">1.5</text>
<line x1="243.40" y1="115.50" x2="245.40" y2="115.50" stroke="#8C8C8C" stroke-width="0.8"/>
<text x="243.80" y="118.08" text-anchor="end">2.0</text>
<line x1="243.60" y1="159.08" x2="245.40" y2="159.08" stroke="#8C8C8C" stroke-width="0.8"/>
<line x1="243.60" y1="141.65" x2="245.40" y2="141.65" stroke="#8C8C8C" stroke-width="0.8"/>
<line x1="243.60" y1="124.22" x2="245.40" y2="124.22" stroke="#8C8C8C" stroke-width="0.8"/>
<line x1="263.45" y1="181.30" x2="263.45" y2="183.10" stroke="#8C8C8C" stroke-width="0.8"/>
<line x1="284.95" y1="181.30" x2="284.95" y2="183.10" stroke="#8C8C8C" stroke-width="0.8"/>
<line x1="306.45" y1="181.30" x2="306.45" y2="183.10" stroke="#8C8C8C" stroke-width="0.8"/>
<line x1="327.95" y1="181.30" x2="327.95" y2="183.10" stroke="#8C8C8C" stroke-width="0.8"/>
<line x1="252.70" y1="181.30" x2="252.70" y2="183.30" stroke="#8C8C8C" stroke-width="0.8"/>
<text x="252.70" y="188.08" text-anchor="middle">0.25</text>
<line x1="274.20" y1="181.30" x2="274.20" y2="183.30" stroke="#8C8C8C" stroke-width="0.8"/>
<text x="274.20" y="188.08" text-anchor="middle">0.75</text>
<line x1="295.70" y1="181.30" x2="295.70" y2="183.30" stroke="#8C8C8C" stroke-width="0.8"/>
<text x="295.70" y="188.08" text-anchor="middle">1.25</text>
<line x1="317.20" y1="181.30" x2="317.20" y2="183.30" stroke="#8C8C8C" stroke-width="0.8"/>
<text x="317.20" y="188.08" text-anchor="middle">1.75</text>
<line x1="338.70" y1="181.30" x2="338.70" y2="183.30" stroke="#8C8C8C" stroke-width="0.8"/>
<text x="338.70" y="188.08" text-anchor="middle">2.25</text>
<text x="337.30" y="176.88" text-anchor="end" fill="#1A1A1A">R = 0.95</text>
<path d="M94.4 235.0h0M99.4 237.3h0M78.2 236.3h0M85.5 224.3h0M76.4 239.0h0M84.0 249.5h0M85.2 217.9h0M74.8 220.7h0M100.3 218.9h0M75.3 233.4h0M33.2 245.8h0M79.6 241.3h0M89.8 236.5h0M85.5 221.7h0M73.0 236.0h0M68.5 223.3h0M95.2 227.4h0M87.8 247.5h0M103.5 222.0h0M67.5 220.3h0M73.2 229.6h0M78.1 237.0h0M71.0 239.1h0M98.8 219.6h0M64.5 241.7h0M37.2 253.9h0M82.0 228.3h0M73.0 231.9h0M69.1 240.0h0M59.4 245.3h0M72.6 229.0h0M103.0 239.9h0M54.0 243.8h0M56.7 241.9h0M89.5 211.6h0M75.1 240.8h0M75.8 225.8h0M61.0 237.6h0M80.1 220.0h0M78.8 218.0h0M85.5 231.1h0M85.2 227.0h0M81.9 237.9h0M96.6 228.9h0M63.6 228.5h0M87.6 239.4h0M89.6 234.5h0M72.5 232.3h0M109.9 224.5h0M56.5 240.7h0M82.9 248.3h0M92.5 229.8h0M81.5 231.0h0M83.0 230.1h0M47.7 239.1h0M66.6 227.0h0M65.0 216.1h0M66.4 244.8h0M87.4 236.8h0M51.6 234.1h0M76.0 251.0h0M85.8 238.5h0M91.0 235.5h0M85.9 238.7h0M82.0 240.0h0M81.8 241.3h0M79.4 238.6h0M84.2 226.3h0M88.5 215.2h0M90.9 242.2h0M102.6 220.1h0M56.3 232.9h0M102.0 220.9h0M92.7 211.8h0M89.9 224.2h0M83.4 218.4h0M59.7 243.3h0M84.4 240.7h0M99.8 212.6h0M78.1 228.6h0M84.8 240.5h0M75.6 232.3h0M88.4 220.6h0M84.1 236.4h0M68.4 230.3h0M110.9 233.4h0M78.9 225.5h0M81.0 227.6h0M70.9 234.5h0M85.2 231.5h0M82.3 231.0h0M68.4 222.0h0M46.4 229.2h0M84.9 247.2h0M50.7 248.3h0M83.1 231.2h0M91.5 226.8h0M105.0 232.5h0M64.8 227.2h0M83.6 206.2h0M75.6 241.6h0M73.6 241.7h0M72.3 231.4h0M82.9 219.4h0M94.2 218.8h0M43.6 240.0h0M104.4 218.5h0M73.7 231.6h0M100.6 224.6h0M108.2 224.3h0M101.1 228.7h0M44.3 237.2h0M74.1 233.2h0M79.2 227.6h0M66.3 238.1h0M96.3 211.6h0M75.2 230.4h0M84.4 228.6h0M92.8 212.3h0M71.7 231.9h0M75.6 229.2h0M93.5 224.6h0M74.1 246.4h0M94.6 217.4h0M58.2 248.4h0M72.8 221.8h0M97.7 219.1h0M83.5 232.1h0M84.5 239.0h0M72.8 226.4h0M69.1 236.6h0M77.0 217.5h0M83.2 232.9h0M74.7 230.6h0M77.3 231.3h0M107.1 232.5h0M83.7 243.0h0M48.5 232.9h0M63.7 231.6h0M81.0 231.0h0M64.9 240.4h0M69.1 227.1h0M78.1 239.2h0M44.9 232.8h0M108.6 219.2h0M71.6 241.7h0M76.2 236.1h0M83.7 231.8h0M68.9 238.4h0M58.6 234.3h0M77.0 239.7h0M60.1 244.2h0M92.0 237.2h0M52.5 246.3h0M79.5 226.4h0M76.4 226.8h0M65.2 256.1h0M89.2 225.5h0M71.6 244.5h0M103.5 224.7h0M79.0 227.9h0M82.7 216.0h0M76.2 234.0h0M74.0 228.6h0M36.4 250.4h0M81.2 249.8h0M83.8 244.8h0M69.9 227.6h0M105.2 234.0h0M67.0 237.8h0M98.7 216.3h0M72.1 226.2h0M103.1 229.6h0M89.8 232.7h0M101.4 235.6h0M73.6 219.5h0M85.1 239.1h0M77.3 231.5h0M71.5 232.6h0M45.4 241.5h0M97.8 216.1h0M82.2 244.2h0M88.9 236.6h0M85.5 227.0h0M94.0 228.3h0M77.3 223.2h0M98.8 239.4h0M93.0 219.0h0M82.9 238.5h0M72.4 235.5h0M78.6 213.7h0M36.5 238.5h0M65.7 247.6h0M88.9 220.9h0M58.7 241.1h0M49.5 229.6h0M80.7 224.6h0M71.6 231.3h0M70.1 239.3h0M85.6 229.0h0M85.8 249.8h0M84.9 228.0h0M87.0 216.3h0M75.8 236.3h0M70.9 242.3h0M73.1 230.8h0M83.9 222.9h0M72.1 232.8h0M83.0 245.7h0M81.2 234.0h0M82.2 229.0h0M71.6 227.7h0M81.5 244.7h0M81.1 229.1h0M88.1 216.5h0M94.3 211.5h0M83.4 240.9h0M57.0 247.5h0M77.1 232.9h0M92.5 232.0h0M71.4 236.2h0M38.9 240.6h0M78.9 225.7h0M78.1 233.8h0M64.6 243.3h0M64.1 243.7h0M64.0 238.9h0M79.0 236.0h0M90.8 228.0h0M64.0 205.6h0M77.9 222.7h0M71.5 236.1h0M77.1 228.4h0M87.1 239.2h0M67.0 246.2h0M66.5 227.8h0M108.5 212.3h0M82.2 236.1h0M60.1 227.4h0M76.8 229.2h0M81.6 229.9h0M87.6 210.4h0M88.5 229.3h0M57.8 248.7h0M105.3 222.3h0M71.3 234.3h0M58.2 221.3h0M89.1 247.5h0M85.6 219.2h0M75.1 230.3h0M100.0 241.4h0M79.0 224.2h0M103.9 225.3h0M77.0 225.6h0M99.2 223.6h0M105.0 221.8h0M103.2 220.5h0M82.1 219.1h0M54.7 234.3h0M55.4 230.9h0M88.7 235.3h0M91.4 208.6h0M78.2 237.6h0M44.9 229.6h0M76.1 227.0h0M50.3 242.9h0M79.9 227.9h0M95.5 219.4h0M71.3 234.9h0M65.2 246.8h0M82.5 235.0h0M74.4 219.4h0M92.5 230.6h0M81.8 237.8h0M52.9 232.4h0M69.8 221.0h0M46.6 220.6h0M38.6 236.3h0M116.0 220.5h0M70.8 226.6h0M86.9 227.0h0M87.9 240.0h0M44.4 225.4h0M71.0 219.1h0M87.0 238.3h0M79.2 215.7h0M95.1 221.6h0M112.2 224.5h0M63.2 248.1h0M104.9 220.4h0M89.1 228.3h0M74.1 223.1h0M71.9 221.1h0M37.7 230.4h0M74.6 237.2h0M92.2 230.7h0M45.0 229.3h0M75.6 231.7h0M99.9 229.1h0M87.1 231.7h0M58.0 230.8h0M90.4 220.3h0M85.4 221.8h0M87.9 225.1h0M89.2 222.2h0M91.0 219.0h0M87.7 217.8h0M100.6 210.4h0M65.4 233.7h0M67.2 233.5h0M79.4 228.5h0M74.9 226.4h0M60.5 239.1h0M81.2 213.7h0M80.2 237.9h0M92.9 223.1h0M109.6 225.2h0M73.3 236.4h0M104.8 222.1h0M86.4 213.2h0M81.4 237.7h0M81.5 237.0h0M76.0 238.9h0M92.8 235.9h0M79.7 216.6h0M59.1 249.2h0M70.3 231.7h0M78.5 227.1h0M63.3 230.5h0M86.7 215.3h0M85.3 224.1h0M115.2 225.2h0M89.6 229.5h0M89.9 222.9h0M86.0 234.0h0M85.4 233.5h0M73.5 229.8h0M88.6 230.4h0M76.3 214.6h0M66.1 237.4h0M97.5 220.9h0M82.7 237.7h0M69.4 233.3h0M92.9 223.2h0M59.1 239.2h0M81.9 227.0h0M64.7 235.5h0M51.9 228.2h0M73.4 240.8h0M95.0 223.8h0M88.8 218.1h0M58.1 238.6h0M94.4 219.7h0M79.2 228.3h0M86.2 220.7h0M57.9 238.9h0M84.3 225.8h0M97.0 227.5h0M38.7 247.3h0M91.0 208.8h0M86.7 215.1h0M83.3 224.5h0M99.8 231.6h0M81.8 206.1h0M65.3 218.6h0M104.5 221.9h0M71.9 235.7h0M71.1 229.0h0M91.7 210.2h0M93.8 226.4h0M81.9 235.8h0M37.5 243.9h0M42.1 259.9h0M93.8 218.8h0M56.5 235.1h0M67.3 222.8h0M41.3 238.2h0M84.1 225.1h0M96.8 223.9h0M84.6 243.4h0M85.5 227.8h0M82.7 226.4h0M44.8 230.3h0M92.6 220.5h0M73.5 239.7h0M64.5 234.9h0M78.9 227.6h0M68.8 221.9h0M82.8 234.1h0M48.2 255.8h0M32.0 249.8h0M44.4 244.0h0M51.9 225.4h0M87.5 222.6h0M47.2 252.2h0M83.1 221.9h0M79.6 215.3h0M53.8 232.6h0M75.5 240.8h0M93.3 211.9h0M90.4 220.7h0M86.4 236.7h0M85.3 209.4h0M83.2 227.8h0M112.6 239.3h0M45.2 238.1h0M77.8 231.9h0M58.0 231.3h0M81.9 225.9h0M63.5 242.9h0M92.1 222.6h0M94.4 219.0h0M63.4 236.2h0M76.4 232.2h0M100.4 234.4h0M85.2 230.3h0M92.4 231.6h0M96.4 226.3h0M68.5 237.6h0M99.5 241.2h0M80.8 225.1h0M55.3 243.7h0M43.8 243.3h0M93.8 235.2h0M32.9 244.3h0M55.5 240.9h0M96.6 210.2h0M94.8 242.4h0M75.5 242.8h0M80.0 230.3h0M36.5 254.2h0M107.7 224.7h0M84.6 205.9h0M95.8 223.0h0M81.0 229.4h0M102.0 218.6h0M95.0 220.8h0M82.6 225.8h0M77.8 230.4h0M91.0 229.5h0M88.1 216.8h0M84.3 221.4h0M77.4 230.8h0M76.6 230.0h0M71.3 242.7h0M88.2 235.2h0M47.8 253.9h0M71.9 235.0h0M93.8 212.1h0M50.7 228.2h0M80.3 231.1h0M71.6 235.8h0M53.9 230.7h0M55.8 230.3h0M98.9 232.4h0M100.6 224.7h0M83.4 223.0h0M35.6 237.2h0M69.4 225.9h0M94.6 217.3h0M47.7 236.7h0M77.1 235.4h0M94.9 239.7h0M44.7 247.5h0M67.3 225.7h0M114.0 206.3h0M92.9 218.6h0M64.7 238.5h0M95.7 241.2h0M103.9 215.4h0M97.7 234.4h0M58.4 238.3h0M67.0 219.9h0M92.3 232.7h0M82.1 233.6h0M105.8 217.5h0M58.3 241.9h0M72.0 224.7h0M96.7 209.6h0M95.3 228.1h0M76.2 217.6h0M96.4 234.5h0M72.8 231.0h0M67.9 236.6h0M68.9 256.4h0M69.8 236.1h0M84.8 223.0h0M65.3 237.6h0M87.8 239.6h0M86.6 222.7h0M64.9 242.3h0M88.0 220.0h0M102.9 215.3h0M93.7 222.6h0M98.4 227.1h0" stroke="#2C75A9" stroke-width="2.1" stroke-linecap="round" fill="none"/>
<rect x="26.00" y="192.80" width="95.50" height="70.20" fill="none" stroke="#8C8C8C" stroke-width="0.9"/>
<line x1="24.00" y1="251.40" x2="26.00" y2="251.40" stroke="#8C8C8C" stroke-width="0.8"/>
<text x="24.40" y="253.98" text-anchor="end">0.2</text>
<line x1="24.00" y1="232.43" x2="26.00" y2="232.43" stroke="#8C8C8C" stroke-width="0.8"/>
<text x="24.40" y="235.01" text-anchor="end">0.4</text>
<line x1="24.00" y1="213.47" x2="26.00" y2="213.47" stroke="#8C8C8C" stroke-width="0.8"/>
<text x="24.40" y="216.04" text-anchor="end">0.6</text>
<line x1="24.00" y1="194.50" x2="26.00" y2="194.50" stroke="#8C8C8C" stroke-width="0.8"/>
<text x="24.40" y="197.08" text-anchor="end">0.8</text>
<line x1="24.20" y1="241.92" x2="26.00" y2="241.92" stroke="#8C8C8C" stroke-width="0.8"/>
<line x1="24.20" y1="222.95" x2="26.00" y2="222.95" stroke="#8C8C8C" stroke-width="0.8"/>
<line x1="24.20" y1="203.98" x2="26.00" y2="203.98" stroke="#8C8C8C" stroke-width="0.8"/>
<line x1="46.37" y1="263.00" x2="46.37" y2="264.80" stroke="#8C8C8C" stroke-width="0.8"/>
<line x1="72.50" y1="263.00" x2="72.50" y2="264.80" stroke="#8C8C8C" stroke-width="0.8"/>
<line x1="98.63" y1="263.00" x2="98.63" y2="264.80" stroke="#8C8C8C" stroke-width="0.8"/>
<line x1="33.30" y1="263.00" x2="33.30" y2="265.00" stroke="#8C8C8C" stroke-width="0.8"/>
<text x="33.30" y="270.18" text-anchor="middle">0.1</text>
<line x1="59.43" y1="263.00" x2="59.43" y2="265.00" stroke="#8C8C8C" stroke-width="0.8"/>
<text x="59.43" y="270.18" text-anchor="middle">0.3</text>
<line x1="85.57" y1="263.00" x2="85.57" y2="265.00" stroke="#8C8C8C" stroke-width="0.8"/>
<text x="85.57" y="270.18" text-anchor="middle">0.5</text>
<line x1="111.70" y1="263.00" x2="111.70" y2="265.00" stroke="#8C8C8C" stroke-width="0.8"/>
<text x="111.70" y="270.18" text-anchor="middle">0.7</text>
<text x="118.30" y="260.28" text-anchor="end" fill="#1A1A1A">R = 0.43</text>
<path d="M198.8 232.8h0M183.5 233.7h0M175.2 237.3h0M189.8 228.2h0M140.7 249.6h0M197.2 232.0h0M215.1 200.5h0M212.3 229.0h0M191.9 225.2h0M174.5 225.1h0M209.6 233.7h0M195.5 221.9h0M194.5 235.4h0M168.3 260.0h0M185.8 231.9h0M201.6 255.7h0M205.0 227.9h0M205.5 220.0h0M199.0 211.9h0M203.5 221.1h0M173.9 225.4h0M194.6 223.7h0M193.0 230.0h0M184.6 222.5h0M194.4 233.1h0M199.2 225.7h0M206.5 232.9h0M197.4 231.4h0M198.0 225.1h0M152.5 258.7h0M190.0 236.9h0M155.7 249.3h0M199.3 229.0h0M218.9 204.9h0M207.8 234.6h0M190.0 232.7h0M206.4 229.5h0M203.1 234.4h0M225.9 228.1h0M193.6 221.2h0M207.5 228.3h0M210.7 232.2h0M182.6 244.1h0M198.1 236.7h0M180.6 225.3h0M192.7 239.2h0M175.6 253.1h0M138.9 253.7h0M187.9 231.2h0M171.7 232.6h0M192.3 230.6h0M209.2 218.3h0M188.2 243.5h0M182.1 242.5h0M203.4 230.7h0M188.8 231.0h0M195.2 249.2h0M206.3 228.4h0M188.5 246.7h0M196.8 220.8h0M204.6 225.0h0M219.6 207.5h0M211.6 207.2h0M187.1 227.5h0M150.5 244.9h0M200.2 238.5h0M198.0 235.0h0M174.5 226.0h0M199.2 225.5h0M211.9 225.0h0M198.7 241.9h0M191.0 233.6h0M205.4 210.9h0M214.2 227.2h0M193.6 218.4h0M191.1 253.3h0M206.6 213.8h0M219.2 232.9h0M179.7 247.3h0M173.3 239.5h0M173.4 243.6h0M201.5 213.2h0M192.8 233.4h0M186.4 234.5h0M216.5 230.6h0M213.5 217.9h0M195.9 218.7h0M163.0 230.5h0M195.6 244.1h0M211.4 227.9h0M205.1 222.4h0M212.8 243.7h0M214.2 226.1h0M198.2 220.5h0M201.0 214.7h0M189.8 226.9h0M191.9 223.1h0M218.4 215.5h0M203.0 224.6h0M210.8 243.3h0M190.8 214.1h0M171.9 229.9h0M188.2 232.7h0M208.9 233.8h0M214.1 203.2h0M205.1 224.0h0M174.1 227.3h0M142.3 248.0h0M210.4 223.5h0M191.3 231.0h0M214.2 214.8h0M198.3 246.7h0M172.3 219.7h0M203.8 227.7h0M196.1 222.8h0M172.3 227.0h0M164.1 243.4h0M201.2 220.7h0M222.9 233.2h0M156.9 238.4h0M185.8 240.0h0M205.7 217.4h0M211.1 212.1h0M152.7 252.8h0M195.7 227.0h0M200.5 235.4h0M166.7 251.0h0M208.0 227.3h0M203.6 218.3h0M207.9 215.9h0M155.5 245.9h0M208.9 228.8h0M207.7 213.1h0M203.9 228.0h0M159.0 223.1h0M201.1 210.7h0M197.2 224.3h0M206.6 234.3h0M195.4 232.9h0M204.1 220.0h0M196.3 231.8h0M219.2 222.6h0M208.9 222.0h0M182.1 248.0h0M197.0 233.6h0M150.7 245.8h0M167.8 245.6h0M188.5 229.6h0M210.4 229.5h0M211.3 229.7h0M172.6 222.9h0M199.2 215.2h0M213.7 227.0h0M145.8 248.7h0M190.5 245.8h0M196.6 246.6h0M191.1 216.7h0M187.1 232.0h0M204.6 235.4h0M157.2 253.0h0M202.3 216.8h0M189.4 234.5h0M194.9 224.5h0M207.4 218.0h0M202.6 235.7h0M197.0 242.7h0M190.2 232.6h0M183.4 228.5h0M188.4 234.1h0M198.4 230.3h0M201.5 224.7h0M192.2 239.7h0M207.8 220.1h0M199.0 220.0h0M219.8 233.8h0M201.1 236.2h0M181.1 237.7h0M203.7 233.8h0M205.1 230.0h0M200.4 218.6h0M196.6 242.7h0M200.9 225.0h0M207.7 230.5h0M217.6 230.7h0M198.5 242.3h0M210.4 245.3h0M219.4 222.8h0M199.0 215.9h0M219.3 232.0h0M204.5 220.9h0M199.0 240.6h0M204.1 223.3h0M214.3 227.6h0M189.6 235.1h0M184.7 246.3h0M154.9 246.1h0M210.0 230.2h0M163.2 226.5h0M178.6 228.6h0M206.2 223.0h0M185.5 238.7h0M195.2 227.8h0M188.0 224.8h0M146.0 231.1h0M215.1 216.1h0M153.8 224.0h0M203.4 229.8h0M175.5 244.0h0M198.8 217.1h0M202.6 211.2h0M201.6 219.7h0M207.7 226.3h0M195.0 228.7h0M191.8 233.8h0M175.0 238.6h0M207.4 226.5h0M203.3 223.9h0M194.9 240.7h0M204.3 222.9h0M186.3 230.8h0M191.5 232.9h0M186.2 229.7h0M201.4 231.7h0M194.2 227.5h0M199.9 215.0h0M202.5 231.9h0M195.3 222.2h0M187.6 237.4h0M188.8 233.9h0M200.9 226.1h0M201.1 233.9h0M213.7 215.2h0M171.2 250.4h0M207.5 228.3h0M192.4 230.7h0M201.7 227.2h0M212.5 226.9h0M191.3 240.3h0M176.4 234.8h0M199.0 216.1h0M204.8 221.6h0M203.7 229.0h0M191.2 242.8h0M212.8 233.6h0M178.4 227.3h0M207.5 231.7h0M183.2 236.2h0M203.2 206.3h0M190.4 253.6h0M184.9 224.2h0M213.8 246.9h0M184.9 245.3h0M179.4 209.5h0M193.3 220.2h0M192.6 225.4h0M203.9 220.1h0M206.5 218.6h0M196.4 235.1h0M192.9 243.5h0M143.9 251.6h0M192.3 227.7h0M201.5 224.1h0M210.3 216.3h0M180.9 234.5h0M195.5 223.2h0M214.4 225.1h0M192.7 241.3h0M208.7 231.4h0M190.9 228.2h0M195.5 231.1h0M210.1 231.3h0M200.4 229.1h0M203.1 215.2h0M222.2 229.6h0M195.0 253.5h0M174.5 235.4h0M142.1 260.0h0M194.6 216.3h0M194.7 236.7h0M166.4 237.9h0M212.3 228.0h0M186.4 231.4h0M217.6 221.8h0M193.7 219.9h0M188.2 242.6h0M188.9 236.1h0M209.1 230.9h0M188.8 234.5h0M194.5 225.1h0M209.4 245.1h0M190.1 252.2h0M153.3 241.8h0M190.7 227.9h0M197.3 224.8h0M200.9 219.9h0M212.8 210.9h0M195.1 239.5h0M196.5 233.2h0M178.8 232.6h0M206.9 221.9h0M199.1 224.9h0M180.4 231.6h0M193.5 240.3h0M161.3 217.9h0M212.3 225.9h0M195.4 226.3h0M199.5 238.5h0M195.2 227.2h0M213.3 228.8h0M200.2 218.6h0M195.8 221.5h0M174.6 241.4h0M171.2 236.2h0M189.0 231.1h0M187.8 229.4h0M188.8 218.7h0M214.3 232.2h0M145.8 218.0h0M196.7 237.8h0M172.6 249.6h0M194.9 223.5h0M195.8 242.0h0M145.2 231.6h0M177.7 231.4h0M203.0 231.5h0M172.3 229.1h0M209.9 224.8h0M213.8 232.2h0M211.3 229.6h0M194.7 211.8h0M214.8 223.0h0M208.4 223.4h0M189.3 241.2h0M193.5 210.8h0M195.4 224.0h0M204.0 230.5h0M184.9 232.9h0M207.1 232.0h0M217.1 211.6h0M192.6 221.9h0M161.4 245.7h0M174.0 239.2h0M199.8 233.0h0M203.7 226.2h0M221.3 201.8h0M203.8 230.3h0M207.8 222.9h0M191.1 234.6h0M205.4 229.2h0M197.7 225.5h0M200.7 218.0h0M141.3 255.6h0M194.7 236.3h0M191.2 233.1h0M197.8 238.4h0M212.8 210.8h0M196.0 222.9h0M181.6 223.1h0M183.4 229.1h0M191.9 241.6h0M193.1 221.7h0M205.5 228.1h0M192.9 236.8h0M192.7 238.5h0M216.2 235.3h0M192.2 235.3h0M191.3 229.5h0M208.0 215.2h0M202.5 234.2h0M166.5 230.8h0M199.2 225.6h0M206.8 219.4h0M220.7 222.9h0M199.8 241.0h0M190.5 220.3h0M195.0 223.5h0M195.9 241.1h0M207.7 226.1h0M208.0 228.5h0M172.4 214.2h0M195.1 215.1h0M170.8 235.2h0M183.3 235.1h0M179.2 227.1h0M208.3 223.7h0M205.9 220.4h0M193.7 232.6h0M203.2 237.4h0M206.2 245.5h0M193.0 243.5h0M203.1 243.3h0M176.1 235.0h0M196.0 223.7h0M171.2 220.2h0M206.9 224.3h0M178.3 213.9h0M203.9 211.6h0M175.6 236.2h0M150.9 247.3h0M211.3 223.0h0M192.3 235.4h0M190.0 235.2h0M209.3 225.8h0M202.8 222.7h0M192.4 249.3h0M209.7 224.8h0M197.1 229.2h0M171.3 228.8h0M141.9 253.6h0M199.2 223.4h0M196.6 239.0h0M203.1 236.4h0M199.3 236.9h0M163.1 237.0h0M194.2 233.2h0M183.9 221.3h0M193.5 225.9h0M198.4 230.9h0M190.5 221.5h0M200.4 212.4h0M189.6 230.1h0M164.8 220.2h0M173.4 232.7h0M195.1 225.5h0M183.2 242.3h0M201.2 217.9h0M206.6 216.8h0M198.3 225.9h0M204.6 217.2h0M199.9 208.3h0M192.4 213.7h0M159.8 247.4h0M196.5 231.5h0M197.0 216.2h0M174.5 226.5h0M200.3 217.3h0M167.5 251.7h0M190.9 223.3h0M202.6 222.0h0M187.4 236.7h0M144.9 228.0h0M213.1 216.8h0M205.1 216.4h0M142.1 227.9h0M178.3 236.1h0M174.9 231.2h0M211.9 224.6h0M197.9 217.7h0M210.4 215.8h0M199.7 237.4h0M183.3 239.2h0M151.2 250.6h0M210.8 222.4h0M154.1 251.0h0M216.8 232.2h0M155.0 227.1h0M176.1 242.2h0M200.9 221.8h0M189.1 250.9h0M192.0 222.5h0M150.8 254.2h0M159.5 225.2h0M203.3 224.4h0M196.1 223.2h0M193.6 237.9h0M221.2 218.0h0M217.7 227.3h0M147.4 232.9h0M204.2 230.5h0M202.6 229.3h0M185.9 238.8h0M219.4 225.5h0M195.3 221.1h0M200.7 229.7h0M217.9 219.4h0M191.0 255.3h0M198.6 219.1h0M203.0 239.6h0M202.8 245.2h0M195.0 228.0h0M192.7 247.9h0M201.8 211.9h0M197.9 229.2h0M186.1 232.9h0M174.6 227.9h0M199.4 229.9h0M220.8 221.3h0M194.3 227.2h0M202.6 207.9h0M206.5 218.9h0M187.8 235.4h0M198.2 226.5h0M215.3 240.0h0M199.9 215.2h0M183.0 243.4h0M189.2 235.3h0" stroke="#2C75A9" stroke-width="2.1" stroke-linecap="round" fill="none"/>
<rect x="135.40" y="192.80" width="94.90" height="70.20" fill="none" stroke="#8C8C8C" stroke-width="0.9"/>
<line x1="133.40" y1="254.40" x2="135.40" y2="254.40" stroke="#8C8C8C" stroke-width="0.8"/>
<text x="133.80" y="256.98" text-anchor="end">0.2</text>
<line x1="133.40" y1="235.60" x2="135.40" y2="235.60" stroke="#8C8C8C" stroke-width="0.8"/>
<text x="133.80" y="238.18" text-anchor="end">0.4</text>
<line x1="133.40" y1="216.80" x2="135.40" y2="216.80" stroke="#8C8C8C" stroke-width="0.8"/>
<text x="133.80" y="219.38" text-anchor="end">0.6</text>
<line x1="133.40" y1="198.00" x2="135.40" y2="198.00" stroke="#8C8C8C" stroke-width="0.8"/>
<text x="133.80" y="200.58" text-anchor="end">0.8</text>
<line x1="133.60" y1="245.00" x2="135.40" y2="245.00" stroke="#8C8C8C" stroke-width="0.8"/>
<line x1="133.60" y1="226.20" x2="135.40" y2="226.20" stroke="#8C8C8C" stroke-width="0.8"/>
<line x1="133.60" y1="207.40" x2="135.40" y2="207.40" stroke="#8C8C8C" stroke-width="0.8"/>
<line x1="160.33" y1="263.00" x2="160.33" y2="264.80" stroke="#8C8C8C" stroke-width="0.8"/>
<line x1="184.40" y1="263.00" x2="184.40" y2="264.80" stroke="#8C8C8C" stroke-width="0.8"/>
<line x1="208.47" y1="263.00" x2="208.47" y2="264.80" stroke="#8C8C8C" stroke-width="0.8"/>
<line x1="148.30" y1="263.00" x2="148.30" y2="265.00" stroke="#8C8C8C" stroke-width="0.8"/>
<text x="148.30" y="270.18" text-anchor="middle">0.2</text>
<line x1="172.37" y1="263.00" x2="172.37" y2="265.00" stroke="#8C8C8C" stroke-width="0.8"/>
<text x="172.37" y="270.18" text-anchor="middle">0.4</text>
<line x1="196.43" y1="263.00" x2="196.43" y2="265.00" stroke="#8C8C8C" stroke-width="0.8"/>
<text x="196.43" y="270.18" text-anchor="middle">0.6</text>
<line x1="220.50" y1="263.00" x2="220.50" y2="265.00" stroke="#8C8C8C" stroke-width="0.8"/>
<text x="220.50" y="270.18" text-anchor="middle">0.8</text>
<text x="227.10" y="260.28" text-anchor="end" fill="#1A1A1A">R = 0.38</text>
<path d="M277.5 230.6h0M287.7 216.3h0M279.4 233.6h0M266.0 241.1h0M284.7 244.0h0M285.6 229.5h0M309.9 217.8h0M258.3 222.9h0M281.0 235.8h0M323.8 245.9h0M278.7 231.9h0M266.2 244.3h0M298.7 244.8h0M289.5 197.6h0M276.9 230.4h0M285.2 215.3h0M278.8 232.6h0M305.9 223.1h0M277.0 241.9h0M270.9 219.7h0M294.8 220.4h0M291.6 245.9h0M294.3 233.3h0M295.5 242.1h0M309.7 233.5h0M290.5 224.1h0M279.1 243.1h0M268.2 253.2h0M302.8 239.8h0M320.6 240.4h0M310.5 230.4h0M253.2 251.9h0M270.0 232.2h0M319.6 210.1h0M288.9 239.2h0M291.5 216.0h0M264.1 248.9h0M268.7 238.7h0M276.8 232.2h0M327.4 221.6h0M315.9 234.2h0M278.7 248.5h0M284.3 237.1h0M294.4 250.0h0M281.8 241.3h0M282.4 232.6h0M292.2 244.0h0M277.2 226.5h0M298.7 232.7h0M275.1 229.9h0M297.2 239.8h0M291.0 234.6h0M299.8 240.2h0M273.7 237.4h0M306.8 236.9h0M254.9 244.1h0M295.4 222.8h0M279.0 246.3h0M302.8 224.9h0M301.3 234.0h0M303.0 234.3h0M301.8 217.4h0M281.6 240.8h0M292.3 239.0h0M251.6 247.2h0M296.6 217.9h0M293.9 242.6h0M315.8 246.4h0M333.3 239.0h0M260.0 259.0h0M295.7 233.6h0M304.9 229.8h0M318.0 227.7h0M285.7 231.8h0M326.2 233.8h0M305.3 221.0h0M297.3 237.6h0M281.2 246.9h0M276.0 240.7h0M292.0 252.0h0M313.0 226.9h0M290.9 236.2h0M262.9 252.2h0M294.2 241.4h0M267.0 241.5h0M289.4 216.8h0M302.3 245.6h0M252.0 248.2h0M282.2 240.7h0M266.2 239.7h0M260.5 249.5h0M268.9 250.3h0M306.4 226.9h0M293.2 209.1h0M289.1 251.4h0M285.1 217.2h0M267.6 234.6h0M300.5 234.4h0M285.5 229.4h0M307.3 229.8h0M304.0 247.2h0M283.2 216.7h0M267.9 231.2h0M289.8 195.8h0M303.2 219.3h0M285.8 233.4h0M287.5 233.8h0M286.2 226.7h0M289.4 239.6h0M289.0 234.3h0M269.1 256.3h0M295.2 231.3h0M289.7 228.0h0M263.4 246.6h0M297.5 244.5h0M259.5 247.2h0M272.6 242.1h0M300.0 239.6h0M308.1 245.5h0M307.6 219.7h0M332.8 227.4h0M273.7 239.1h0M285.6 245.6h0M295.8 244.1h0M285.3 231.8h0M278.9 232.5h0M286.7 237.5h0M330.6 235.2h0M320.0 238.2h0M281.1 248.4h0M288.6 224.5h0M264.1 247.1h0M333.3 233.4h0M274.1 229.6h0M306.2 220.4h0M276.5 245.7h0M288.8 243.4h0M301.2 234.6h0M286.4 237.5h0M283.5 230.6h0M265.2 233.9h0M251.4 246.5h0M293.6 233.2h0M283.3 244.4h0M266.4 218.0h0M318.1 237.2h0M252.0 240.0h0M306.6 225.6h0M323.3 232.0h0M280.9 247.8h0M273.9 252.2h0M307.9 244.8h0M291.2 223.0h0M300.4 232.7h0M300.2 230.2h0M301.8 238.4h0M255.3 242.8h0M269.9 234.5h0M284.3 246.4h0M272.4 240.2h0M313.6 226.9h0M292.0 239.7h0M316.4 233.7h0M305.8 232.3h0M282.7 230.8h0M299.8 238.3h0M287.0 237.4h0M288.2 231.4h0M319.6 217.8h0M325.8 221.5h0M290.2 232.2h0M291.9 234.4h0M288.4 226.1h0M295.4 217.9h0M288.8 242.9h0M287.9 219.2h0M277.6 242.2h0M318.0 222.8h0M263.3 243.7h0M314.3 246.5h0M282.0 247.7h0M304.6 231.0h0M295.7 233.2h0M291.6 237.1h0M271.3 246.3h0M271.5 235.5h0M313.2 223.4h0M278.7 240.3h0M298.7 219.5h0M289.8 217.6h0M283.6 232.6h0M274.2 231.8h0M297.8 248.9h0M261.1 241.3h0M298.5 232.8h0M318.6 212.7h0M313.2 234.4h0M278.3 216.9h0M271.2 240.6h0M282.5 238.1h0M285.4 220.6h0M288.3 227.6h0M306.4 203.9h0M315.0 235.3h0M294.3 236.7h0M273.3 235.8h0M270.0 233.4h0M268.1 244.1h0M282.6 241.3h0M278.4 251.7h0M293.3 228.2h0M258.9 244.9h0M318.9 243.9h0M278.8 236.0h0M313.2 233.2h0M293.6 222.4h0M292.0 238.0h0M319.7 240.8h0M275.3 228.9h0M303.4 234.6h0M302.5 246.8h0M285.0 242.7h0M269.6 240.1h0M303.9 218.8h0M296.1 238.4h0M283.6 233.7h0M279.2 243.5h0M282.7 241.9h0M262.0 259.0h0M323.5 221.3h0M272.5 254.9h0M266.9 241.7h0M295.6 219.6h0M324.8 233.5h0M285.0 229.1h0M279.2 228.5h0M279.8 252.1h0M291.5 229.9h0M271.9 244.8h0M324.2 232.9h0M312.7 234.4h0M290.2 230.2h0M280.5 243.9h0M299.6 229.9h0M265.1 246.8h0M306.5 235.6h0M276.0 231.9h0M295.9 236.2h0M297.3 234.0h0M287.8 218.9h0M316.8 230.2h0M267.0 217.4h0M302.5 233.9h0M263.9 238.5h0M294.9 224.0h0M303.5 225.7h0M327.9 229.5h0M279.7 230.6h0M288.7 227.9h0M263.3 242.2h0M278.2 234.6h0M307.6 236.1h0M283.5 236.2h0M298.1 236.2h0M324.8 234.0h0M316.9 242.1h0M291.1 234.0h0M332.4 233.7h0M306.8 234.2h0M264.6 231.5h0M278.5 233.0h0M300.1 221.4h0M294.4 233.1h0M324.7 242.5h0M310.1 218.4h0M271.4 246.9h0M319.7 238.3h0M313.2 235.4h0M294.1 220.9h0M277.7 245.1h0M293.9 223.4h0M281.9 245.5h0M295.7 245.5h0M323.5 228.8h0M262.5 250.2h0M314.6 246.5h0M275.7 235.0h0M320.8 232.7h0M299.1 230.7h0M274.1 236.4h0M325.4 236.4h0M313.4 239.7h0M289.3 241.0h0M296.8 195.8h0M292.6 245.0h0M278.0 234.8h0M288.6 238.6h0M278.4 239.0h0M302.4 217.2h0M250.9 251.8h0M303.8 232.7h0M313.7 246.9h0M277.9 229.2h0M299.9 211.2h0M263.1 244.2h0M273.2 229.2h0M260.1 251.3h0M306.1 225.6h0M279.2 243.3h0M310.4 221.8h0M301.1 228.0h0M253.6 238.3h0M265.6 239.9h0M300.0 225.7h0M259.3 238.1h0M281.2 245.0h0M284.8 258.9h0M292.9 234.7h0M335.9 233.5h0M278.4 233.5h0M279.9 240.2h0M252.8 244.6h0M276.6 246.7h0M312.6 234.6h0M265.0 249.4h0M289.2 232.4h0M336.5 244.1h0M292.2 239.3h0M298.0 237.3h0M279.3 223.0h0M281.7 238.8h0M268.4 222.3h0M254.3 237.0h0M332.7 232.5h0M288.7 242.5h0M298.7 195.8h0M269.2 247.3h0M267.6 243.9h0M288.5 240.6h0M302.4 195.8h0M282.2 242.9h0M290.7 253.9h0M283.6 245.2h0M262.7 231.0h0M279.2 236.2h0M288.2 250.0h0M267.9 244.5h0M284.3 244.3h0M262.5 247.8h0M284.8 250.5h0M255.1 244.9h0M288.6 228.6h0M320.1 230.3h0M296.4 210.0h0M265.7 249.7h0M252.7 255.2h0M290.5 219.6h0M277.1 241.4h0M270.1 249.9h0M301.4 240.4h0M290.6 240.9h0M296.0 195.8h0M278.8 246.7h0M289.0 233.9h0M307.8 238.3h0M291.1 250.2h0M286.1 239.8h0M295.4 224.9h0M297.1 226.1h0M305.5 218.9h0M285.8 231.3h0M274.3 236.1h0M309.3 228.9h0M303.3 238.4h0M273.2 225.9h0M313.2 220.7h0M264.1 229.4h0M262.5 245.7h0M283.1 237.5h0M309.1 230.2h0M297.9 240.4h0M286.4 223.5h0M318.6 220.1h0M282.7 249.6h0M297.8 222.4h0M275.9 229.8h0M315.4 243.0h0M252.9 254.9h0M312.4 224.5h0M273.7 239.6h0M280.6 227.6h0M289.7 243.5h0M305.5 245.8h0M281.2 244.1h0M303.3 228.4h0M273.0 240.3h0M277.4 226.4h0M296.9 241.5h0M299.3 242.2h0M293.4 239.7h0M280.6 233.5h0M291.3 234.6h0M263.2 250.5h0M294.6 226.6h0M286.9 226.2h0M315.7 231.7h0M332.0 232.9h0M295.5 231.2h0M287.9 245.8h0M285.9 252.3h0M299.4 223.7h0M276.7 235.0h0M315.4 245.5h0M293.8 233.1h0M288.6 236.9h0M314.7 227.1h0M292.8 212.7h0M294.7 238.6h0M298.0 228.3h0M304.4 242.3h0M287.9 235.4h0M286.3 247.6h0M294.1 231.4h0M311.3 228.4h0M333.3 244.0h0M298.0 195.8h0M301.7 223.0h0M265.0 252.9h0M284.6 225.6h0M294.7 238.6h0M268.6 236.5h0M302.2 235.3h0M258.2 259.0h0M329.2 233.3h0M313.1 222.2h0M296.5 237.3h0M303.6 224.4h0M298.5 217.8h0M262.1 252.1h0M294.3 230.7h0M273.1 240.0h0M287.0 248.1h0M332.7 242.8h0M303.5 231.8h0M272.7 239.2h0M285.1 233.3h0M318.3 239.1h0M335.8 225.0h0M324.4 215.9h0M289.9 241.8h0M276.5 233.9h0M301.1 236.6h0M274.5 239.6h0M257.7 248.1h0M315.6 225.3h0M290.7 252.5h0M301.0 242.9h0M268.0 242.6h0M258.1 238.3h0M299.7 224.7h0M297.2 230.4h0M288.5 227.2h0M288.2 237.4h0M315.7 221.9h0M263.1 222.1h0M290.3 245.4h0M286.5 235.2h0M331.7 219.6h0M287.3 259.0h0M304.7 216.5h0M315.8 230.0h0M300.1 243.2h0M291.2 219.8h0M276.7 247.8h0M304.4 239.7h0M308.7 220.9h0M297.1 229.6h0M305.0 248.1h0M306.3 201.1h0M290.9 231.4h0M285.3 236.5h0M309.8 230.1h0M261.5 226.8h0M263.7 237.5h0M294.3 240.5h0M298.8 235.7h0M285.0 231.8h0M260.9 254.5h0M274.5 234.7h0M289.2 245.5h0M291.3 222.7h0M272.1 248.1h0M269.6 232.4h0M303.3 225.1h0M316.9 209.3h0M257.8 254.0h0" stroke="#2C75A9" stroke-width="2.1" stroke-linecap="round" fill="none"/>
<rect x="245.40" y="192.80" width="95.10" height="70.20" fill="none" stroke="#8C8C8C" stroke-width="0.9"/>
<line x1="243.40" y1="252.30" x2="245.40" y2="252.30" stroke="#8C8C8C" stroke-width="0.8"/>
<text x="243.80" y="254.88" text-anchor="end">0.5</text>
<line x1="243.40" y1="238.85" x2="245.40" y2="238.85" stroke="#8C8C8C" stroke-width="0.8"/>
<text x="243.80" y="241.43" text-anchor="end">1.0</text>
<line x1="243.40" y1="225.40" x2="245.40" y2="225.40" stroke="#8C8C8C" stroke-width="0.8"/>
<text x="243.80" y="227.98" text-anchor="end">1.5</text>
<line x1="243.40" y1="211.95" x2="245.40" y2="211.95" stroke="#8C8C8C" stroke-width="0.8"/>
<text x="243.80" y="214.53" text-anchor="end">2.0</text>
<line x1="243.40" y1="198.50" x2="245.40" y2="198.50" stroke="#8C8C8C" stroke-width="0.8"/>
<text x="243.80" y="201.08" text-anchor="end">2.5</text>
<line x1="243.60" y1="245.58" x2="245.40" y2="245.58" stroke="#8C8C8C" stroke-width="0.8"/>
<line x1="243.60" y1="232.12" x2="245.40" y2="232.12" stroke="#8C8C8C" stroke-width="0.8"/>
<line x1="243.60" y1="218.68" x2="245.40" y2="218.68" stroke="#8C8C8C" stroke-width="0.8"/>
<line x1="243.60" y1="205.22" x2="245.40" y2="205.22" stroke="#8C8C8C" stroke-width="0.8"/>
<line x1="263.45" y1="263.00" x2="263.45" y2="264.80" stroke="#8C8C8C" stroke-width="0.8"/>
<line x1="284.95" y1="263.00" x2="284.95" y2="264.80" stroke="#8C8C8C" stroke-width="0.8"/>
<line x1="306.45" y1="263.00" x2="306.45" y2="264.80" stroke="#8C8C8C" stroke-width="0.8"/>
<line x1="327.95" y1="263.00" x2="327.95" y2="264.80" stroke="#8C8C8C" stroke-width="0.8"/>
<line x1="252.70" y1="263.00" x2="252.70" y2="265.00" stroke="#8C8C8C" stroke-width="0.8"/>
<text x="252.70" y="270.18" text-anchor="middle">0.25</text>
<line x1="274.20" y1="263.00" x2="274.20" y2="265.00" stroke="#8C8C8C" stroke-width="0.8"/>
<text x="274.20" y="270.18" text-anchor="middle">0.75</text>
<line x1="295.70" y1="263.00" x2="295.70" y2="265.00" stroke="#8C8C8C" stroke-width="0.8"/>
<text x="295.70" y="270.18" text-anchor="middle">1.25</text>
<line x1="317.20" y1="263.00" x2="317.20" y2="265.00" stroke="#8C8C8C" stroke-width="0.8"/>
<text x="317.20" y="270.18" text-anchor="middle">1.75</text>
<line x1="338.70" y1="263.00" x2="338.70" y2="265.00" stroke="#8C8C8C" stroke-width="0.8"/>
<text x="338.70" y="270.18" text-anchor="middle">2.25</text>
<text x="337.30" y="260.28" text-anchor="end" fill="#1A1A1A">R = 0.25</text>
<text x="0" y="0" text-anchor="middle" fill="#1A1A1A" transform="translate(3.60,145.75) rotate(-90)" dominant-baseline="central">Pairwise distance</text>
<text x="0" y="0" text-anchor="middle" fill="#1A1A1A" transform="translate(11.00,145.75) rotate(-90)" dominant-baseline="central">(2bRAD-M)</text>
<text x="0" y="0" text-anchor="middle" fill="#1A1A1A" transform="translate(3.60,227.90) rotate(-90)" dominant-baseline="central">Pairwise distance</text>
<text x="0" y="0" text-anchor="middle" fill="#1A1A1A" transform="translate(11.00,227.90) rotate(-90)" dominant-baseline="central">(16S)</text>
<text x="183.90" y="277.72" text-anchor="middle" fill="#1A1A1A">Pairwise distance (WMS)</text>
<text x="352.00" y="6.00" font-weight="bold" font-size="9.5" fill="#1A1A1A">c</text>
<text x="442.40" y="5.70" text-anchor="middle" font-size="6.9" fill="#1A1A1A">2bRAD&#8722;M</text>
<text x="575.60" y="5.70" text-anchor="middle" font-size="6.9" fill="#1A1A1A">WMS</text>
<text x="0" y="0" text-anchor="middle" fill="#1A1A1A" transform="translate(354.50,45.80) rotate(-90)" dominant-baseline="central">Shannon index</text>
<g class="cv" fill="none" stroke-width="2.0" stroke-linejoin="round" stroke-linecap="butt">
<polyline points="382.55,32.62 383.05,18.94 383.60,16.57 384.15,15.51 384.69,14.63 385.24,13.87 385.79,13.49 386.89,13.01 387.99,12.80 389.08,12.65 390.18,12.57 391.28,12.49 392.37,12.42 393.47,12.34 394.79,12.25" stroke="#F8766D"/>
<polyline points="382.55,31.98 383.05,18.75 383.60,16.44 384.15,15.42 384.69,14.55 385.24,13.77 385.79,13.42 386.89,12.98 387.99,12.79 389.08,12.65 390.18,12.57 391.28,12.49 392.37,12.41 393.47,12.33 394.79,12.24" stroke="#F07E4C"/>
<polyline points="382.55,31.35 383.05,18.56 383.60,16.32 384.15,15.34 384.69,14.46 385.24,13.68 385.79,13.35 386.89,12.94 387.99,12.78 389.08,12.65 390.18,12.57 391.28,12.49 392.37,12.41 393.47,12.33 394.79,12.23" stroke="#E68613"/>
<polyline points="382.55,30.71 383.05,18.37 383.60,16.19 384.15,15.25 384.69,14.38 385.24,13.59 385.79,13.28 386.89,12.91 387.99,12.77 389.08,12.66 390.18,12.57 391.28,12.49 392.37,12.40 393.47,12.32 394.79,12.22" stroke="#DA8E00"/>
<polyline points="382.55,30.07 383.05,18.18 383.60,16.07 384.15,15.16 384.69,14.29 385.24,13.49 385.79,13.21 386.89,12.87 387.99,12.76 389.08,12.66 390.18,12.57 391.28,12.49 392.37,12.40 393.47,12.31 394.79,12.21" stroke="#CD9600"/>
<polyline points="382.55,29.43 383.05,17.99 383.60,15.95 384.15,15.08 384.69,14.21 385.24,13.40 385.79,13.14 386.89,12.84 387.99,12.75 389.08,12.66 390.18,12.57 391.28,12.48 392.37,12.39 393.47,12.31 394.79,12.20" stroke="#BD9D00"/>
<polyline points="382.55,28.60 383.05,17.42 383.60,15.59 384.15,14.80 384.69,14.01 385.24,13.28 385.79,13.02 386.89,12.75 387.99,12.67 389.08,12.60 390.18,12.52 391.28,12.44 392.37,12.37 393.47,12.29 394.79,12.20" stroke="#ABA300"/>
<polyline points="382.55,27.77 383.05,16.84 383.60,15.24 384.15,14.51 384.69,13.82 385.24,13.16 385.79,12.91 386.89,12.66 387.99,12.59 389.08,12.53 390.18,12.47 391.28,12.40 392.37,12.34 393.47,12.28 394.79,12.20" stroke="#96A900"/>
<polyline points="382.55,34.08 383.05,19.38 383.60,16.85 384.15,15.71 384.69,14.83 385.24,14.08 385.79,13.65 386.89,13.09 387.99,12.82 389.08,12.64 390.18,12.57 391.28,12.50 392.37,12.43 393.47,12.36 394.79,12.27" stroke="#00C0B0"/>
<polyline points="382.55,34.13 383.05,19.39 383.60,16.86 384.15,15.71 384.69,14.84 385.24,14.08 385.79,13.66 386.89,13.10 387.99,12.83 389.08,12.64 390.18,12.57 391.28,12.50 392.37,12.43 393.47,12.36 394.79,12.27" stroke="#00C19A"/>
<polyline points="382.55,34.17 383.05,19.40 383.60,16.87 384.15,15.72 384.69,14.84 385.24,14.09 385.79,13.66 386.89,13.10 387.99,12.83 389.08,12.64 390.18,12.57 391.28,12.50 392.37,12.43 393.47,12.36 394.79,12.27" stroke="#00C082"/>
<polyline points="382.55,34.22 383.05,19.42 383.60,16.88 384.15,15.73 384.69,14.85 385.24,14.10 385.79,13.67 386.89,13.10 387.99,12.83 389.08,12.64 390.18,12.57 391.28,12.50 392.37,12.43 393.47,12.36 394.79,12.27" stroke="#00BE67"/>
<polyline points="382.55,34.36 383.05,19.46 383.60,16.90 384.15,15.75 384.69,14.87 385.24,14.12 385.79,13.68 386.89,13.11 387.99,12.83 389.08,12.64 390.18,12.57 391.28,12.50 392.37,12.43 393.47,12.36 394.79,12.27" stroke="#7CAE00"/>
<polyline points="382.55,34.45 383.05,19.49 383.60,16.92 384.15,15.76 384.69,14.88 385.24,14.13 385.79,13.69 386.89,13.11 387.99,12.83 389.08,12.64 390.18,12.57 391.28,12.50 392.37,12.43 393.47,12.36 394.79,12.27" stroke="#59B300"/>
<polyline points="382.55,34.63 383.05,19.54 383.60,16.95 384.15,15.78 384.69,14.90 385.24,14.16 385.79,13.71 386.89,13.12 387.99,12.83 389.08,12.64 390.18,12.57 391.28,12.50 392.37,12.43 393.47,12.36 394.79,12.28" stroke="#00BB46"/>
<polyline points="382.55,34.81 383.05,19.60 383.60,16.99 384.15,15.81 384.69,14.93 385.24,14.18 385.79,13.73 386.89,13.13 387.99,12.84 389.08,12.64 390.18,12.57 391.28,12.50 392.37,12.43 393.47,12.36 394.79,12.28" stroke="#0CB702"/>
<polyline points="382.55,31.48 383.05,18.60 383.60,16.34 384.15,15.36 384.69,14.48 385.24,13.70 385.79,13.37 386.89,12.95 387.99,12.78 389.08,12.65 390.18,12.57 391.28,12.49 392.37,12.41 393.47,12.33 394.79,12.23" stroke="#00BFC4"/>
<polyline points="382.55,30.57 383.05,18.33 383.60,16.17 384.15,15.23 384.69,14.36 385.24,13.57 385.79,13.27 386.89,12.90 387.99,12.77 389.08,12.66 390.18,12.57 391.28,12.49 392.37,12.40 393.47,12.32 394.79,12.22" stroke="#00BCD7"/>
<polyline points="382.55,29.89 383.05,18.12 383.60,16.03 384.15,15.14 384.69,14.27 385.24,13.47 385.79,13.19 386.89,12.86 387.99,12.76 389.08,12.66 390.18,12.57 391.28,12.48 392.37,12.40 393.47,12.31 394.79,12.21" stroke="#8494FF"/>
<polyline points="382.55,29.57 383.05,18.03 383.60,15.97 384.15,15.10 384.69,14.23 385.24,13.42 385.79,13.16 386.89,12.84 387.99,12.75 389.08,12.66 390.18,12.57 391.28,12.48 392.37,12.40 393.47,12.31 394.79,12.20" stroke="#AA88FF"/>
<polyline points="382.55,32.40 383.05,18.87 383.60,16.52 384.15,15.48 384.69,14.60 385.24,13.83 385.79,13.47 386.89,13.00 387.99,12.80 389.08,12.65 390.18,12.57 391.28,12.49 392.37,12.42 393.47,12.34 394.79,12.24" stroke="#00B8E7"/>
<polyline points="382.55,31.25 383.05,18.53 383.60,16.30 384.15,15.32 384.69,14.45 385.24,13.67 385.79,13.34 386.89,12.94 387.99,12.78 389.08,12.65 390.18,12.57 391.28,12.49 392.37,12.41 393.47,12.33 394.79,12.23" stroke="#49A0FF"/>
<polyline points="382.55,32.85 383.05,19.01 383.60,16.61 384.15,15.54 384.69,14.66 385.24,13.90 385.79,13.52 386.89,13.03 387.99,12.80 389.08,12.65 390.18,12.57 391.28,12.50 392.37,12.42 393.47,12.34 394.79,12.25" stroke="#00B1F4"/>
<polyline points="382.55,33.63 383.05,19.24 383.60,16.76 384.15,15.65 384.69,14.77 385.24,14.01 385.79,13.60 386.89,13.07 387.99,12.82 389.08,12.65 390.18,12.57 391.28,12.50 392.37,12.42 393.47,12.35 394.79,12.26" stroke="#00A9FF"/>
<polyline points="382.55,29.43 383.05,17.99 383.60,15.95 384.15,15.08 384.69,14.21 385.24,13.40 385.79,13.14 386.89,12.84 387.99,12.75 389.08,12.66 390.18,12.57 391.28,12.48 392.37,12.39 393.47,12.31 394.79,12.20" stroke="#C77CFF"/>
<polyline points="382.55,28.58 383.05,17.40 383.60,15.58 384.15,14.79 384.69,14.01 385.24,13.28 385.79,13.02 386.89,12.75 387.99,12.67 389.08,12.59 390.18,12.52 391.28,12.44 392.37,12.37 393.47,12.29 394.79,12.20" stroke="#DD71FA"/>
<polyline points="382.55,27.74 383.05,16.82 383.60,15.22 384.15,14.50 384.69,13.81 385.24,13.16 385.79,12.90 386.89,12.65 387.99,12.59 389.08,12.53 390.18,12.47 391.28,12.40 392.37,12.34 393.47,12.28 394.79,12.20" stroke="#ED68ED"/>
<polyline points="382.55,26.89 383.05,16.24 383.60,14.86 384.15,14.22 384.69,13.61 385.24,13.04 385.79,12.78 386.89,12.56 387.99,12.51 389.08,12.46 390.18,12.41 391.28,12.36 392.37,12.31 393.47,12.26 394.79,12.20" stroke="#F862DE"/>
<polyline points="382.55,26.04 383.05,15.65 383.60,14.50 384.15,13.93 384.69,13.41 385.24,12.92 385.79,12.66 386.89,12.47 387.99,12.44 389.08,12.40 390.18,12.36 391.28,12.32 392.37,12.28 393.47,12.25 394.79,12.20" stroke="#FF61CC"/>
<polyline points="382.55,25.20 383.05,15.07 383.60,14.14 384.15,13.64 384.69,13.21 385.24,12.80 385.79,12.54 386.89,12.38 387.99,12.36 389.08,12.33 390.18,12.31 391.28,12.28 392.37,12.26 393.47,12.23 394.79,12.20" stroke="#FF63B8"/>
<polyline points="382.55,24.35 383.05,14.49 383.60,13.78 384.15,13.36 384.69,13.01 385.24,12.68 385.79,12.42 386.89,12.29 387.99,12.28 389.08,12.27 390.18,12.25 391.28,12.24 392.37,12.23 393.47,12.22 394.79,12.20" stroke="#FF68A1"/>
<polyline points="382.55,23.50 383.05,13.90 383.60,13.42 384.15,13.07 384.69,12.81 385.24,12.56 385.79,12.30 386.89,12.20 387.99,12.20 389.08,12.20 390.18,12.20 391.28,12.20 392.37,12.20 393.47,12.20 394.79,12.20" stroke="#FE6E88"/>
</g>
<rect x="376.60" y="8.30" width="135.60" height="75.00" fill="none" stroke="#333333" stroke-width="1.1"/>
<line x1="382.50" y1="83.30" x2="382.50" y2="85.30" stroke="#333333" stroke-width="0.8"/>
<text x="382.50" y="92.98" text-anchor="middle" font-size="6.9">0</text>
<line x1="409.93" y1="83.30" x2="409.93" y2="85.30" stroke="#333333" stroke-width="0.8"/>
<text x="409.93" y="92.98" text-anchor="middle" font-size="6.9">50</text>
<line x1="437.36" y1="83.30" x2="437.36" y2="85.30" stroke="#333333" stroke-width="0.8"/>
<text x="437.36" y="92.98" text-anchor="middle" font-size="6.9">100</text>
<line x1="464.79" y1="83.30" x2="464.79" y2="85.30" stroke="#333333" stroke-width="0.8"/>
<text x="464.79" y="92.98" text-anchor="middle" font-size="6.9">150</text>
<line x1="492.22" y1="83.30" x2="492.22" y2="85.30" stroke="#333333" stroke-width="0.8"/>
<text x="492.22" y="92.98" text-anchor="middle" font-size="6.9">200</text>
<line x1="374.60" y1="12.20" x2="376.60" y2="12.20" stroke="#333333" stroke-width="0.8"/>
<text x="373.80" y="14.67" text-anchor="end" font-size="6.9">1.00</text>
<line x1="374.60" y1="29.23" x2="376.60" y2="29.23" stroke="#333333" stroke-width="0.8"/>
<text x="373.80" y="31.70" text-anchor="end" font-size="6.9">0.75</text>
<line x1="374.60" y1="46.25" x2="376.60" y2="46.25" stroke="#333333" stroke-width="0.8"/>
<text x="373.80" y="48.72" text-anchor="end" font-size="6.9">0.50</text>
<line x1="374.60" y1="63.27" x2="376.60" y2="63.27" stroke="#333333" stroke-width="0.8"/>
<text x="373.80" y="65.75" text-anchor="end" font-size="6.9">0.25</text>
<line x1="374.60" y1="80.30" x2="376.60" y2="80.30" stroke="#333333" stroke-width="0.8"/>
<text x="373.80" y="82.77" text-anchor="end" font-size="6.9">0.00</text>
<g class="cv" fill="none" stroke-width="2.3" stroke-linejoin="round" stroke-linecap="butt">
<polyline points="521.95,73.08 526.89,44.57 532.37,29.07 537.86,25.57 543.34,22.93 548.83,20.74 554.32,19.19 559.80,17.85 565.29,16.93 570.77,16.00 576.26,15.18 587.23,14.24 598.20,13.32 609.18,13.12 620.15,12.91 631.12,12.71 644.83,12.45" stroke="#F8766D"/>
<polyline points="521.95,51.96 526.89,32.70 532.37,22.79 537.86,20.67 543.34,19.05 548.83,17.71 554.32,16.76 559.80,15.93 565.29,15.36 570.77,14.78 576.26,14.27 587.23,13.67 598.20,13.08 609.18,12.92 620.15,12.76 631.12,12.60 644.83,12.41" stroke="#F07E4C"/>
<polyline points="521.95,56.98 526.89,35.07 532.37,24.05 537.86,21.65 543.34,19.83 548.83,18.32 554.32,17.25 559.80,16.32 565.29,15.67 570.77,15.03 576.26,14.45 587.23,13.78 598.20,13.12 609.18,12.96 620.15,12.79 631.12,12.62 644.83,12.42" stroke="#E68613"/>
<polyline points="521.95,74.26 526.89,46.94 532.37,30.32 537.86,26.55 543.34,23.71 548.83,21.35 554.32,19.68 559.80,18.23 565.29,17.24 570.77,16.25 576.26,15.36 587.23,14.36 598.20,13.37 609.18,13.15 620.15,12.94 631.12,12.73 644.83,12.46" stroke="#DA8E00"/>
<polyline points="521.95,47.39 526.89,30.33 532.37,21.54 537.86,19.68 543.34,18.28 548.83,17.11 554.32,16.27 559.80,15.55 565.29,15.04 570.77,14.54 576.26,14.08 587.23,13.55 598.20,13.03 609.18,12.88 620.15,12.73 631.12,12.58 644.83,12.40" stroke="#CD9600"/>
<polyline points="521.95,68.02 526.89,42.19 532.37,27.81 537.86,24.59 543.34,22.16 548.83,20.14 554.32,18.71 559.80,17.47 565.29,16.61 570.77,15.76 576.26,14.99 587.23,14.13 598.20,13.27 609.18,13.08 620.15,12.88 631.12,12.69 644.83,12.44" stroke="#BD9D00"/>
<polyline points="521.95,57.89 526.89,37.45 532.37,25.30 537.86,22.63 543.34,20.61 548.83,18.93 554.32,17.73 559.80,16.70 565.29,15.99 570.77,15.27 576.26,14.63 587.23,13.90 598.20,13.17 609.18,13.00 620.15,12.82 631.12,12.65 644.83,12.43" stroke="#ABA300"/>
<polyline points="521.95,64.44 526.89,39.82 532.37,26.56 537.86,23.61 543.34,21.38 548.83,19.53 554.32,18.22 559.80,17.08 565.29,16.30 570.77,15.52 576.26,14.81 587.23,14.01 598.20,13.22 609.18,13.04 620.15,12.85 631.12,12.67 644.83,12.43" stroke="#96A900"/>
<polyline points="521.95,50.80 526.89,50.35 532.37,32.12 537.86,27.96 543.34,24.82 548.83,22.22 554.32,20.38 559.80,18.78 565.29,17.69 570.77,16.60 576.26,15.62 587.23,14.52 598.20,13.44 609.18,13.21 620.15,12.98 631.12,12.76 644.83,12.48" stroke="#00C0B0"/>
<polyline points="521.95,53.64 526.89,50.27 532.37,32.08 537.86,27.93 543.34,24.79 548.83,22.20 554.32,20.36 559.80,18.77 565.29,17.68 570.77,16.59 576.26,15.61 587.23,14.52 598.20,13.44 609.18,13.21 620.15,12.98 631.12,12.76 644.83,12.48" stroke="#00C19A"/>
<polyline points="521.95,56.48 526.89,50.18 532.37,32.03 537.86,27.89 543.34,24.77 548.83,22.17 554.32,20.34 559.80,18.76 565.29,17.67 570.77,16.58 576.26,15.61 587.23,14.51 598.20,13.43 609.18,13.21 620.15,12.98 631.12,12.76 644.83,12.47" stroke="#00C082"/>
<polyline points="521.95,59.32 526.89,50.09 532.37,31.99 537.86,27.85 543.34,24.74 548.83,22.15 554.32,20.32 559.80,18.74 565.29,17.66 570.77,16.57 576.26,15.60 587.23,14.51 598.20,13.43 609.18,13.21 620.15,12.98 631.12,12.76 644.83,12.47" stroke="#00BE67"/>
<polyline points="521.95,70.69 526.89,49.92 532.37,31.89 537.86,27.78 543.34,24.68 548.83,22.11 554.32,20.29 559.80,18.71 565.29,17.63 570.77,16.55 576.26,15.59 587.23,14.50 598.20,13.43 609.18,13.20 620.15,12.98 631.12,12.75 644.83,12.47" stroke="#7CAE00"/>
<polyline points="521.95,67.85 526.89,50.00 532.37,31.94 537.86,27.82 543.34,24.71 548.83,22.13 554.32,20.31 559.80,18.73 565.29,17.65 570.77,16.56 576.26,15.59 587.23,14.50 598.20,13.43 609.18,13.21 620.15,12.98 631.12,12.76 644.83,12.47" stroke="#59B300"/>
<polyline points="521.95,62.16 526.89,50.53 532.37,32.22 537.86,28.03 543.34,24.88 548.83,22.26 554.32,20.41 559.80,18.81 565.29,17.71 570.77,16.62 576.26,15.63 587.23,14.53 598.20,13.44 609.18,13.21 620.15,12.99 631.12,12.76 644.83,12.48" stroke="#00BB46"/>
<polyline points="521.95,65.01 526.89,50.62 532.37,32.26 537.86,28.07 543.34,24.91 548.83,22.28 554.32,20.43 559.80,18.83 565.29,17.73 570.77,16.63 576.26,15.64 587.23,14.53 598.20,13.44 609.18,13.22 620.15,12.99 631.12,12.76 644.83,12.48" stroke="#0CB702"/>
<polyline points="521.95,67.92 526.89,43.44 532.37,28.47 537.86,25.11 543.34,22.56 548.83,20.46 554.32,18.96 559.80,17.67 565.29,16.78 570.77,15.89 576.26,15.09 587.23,14.19 598.20,13.30 609.18,13.10 620.15,12.90 631.12,12.70 644.83,12.45" stroke="#00BFC4"/>
<polyline points="521.95,30.08 526.89,18.96 532.37,15.53 537.86,14.99 543.34,14.56 548.83,14.21 554.32,13.94 559.80,13.71 565.29,13.54 570.77,13.37 576.26,13.21 587.23,13.00 598.20,12.79 609.18,12.69 620.15,12.59 631.12,12.48 644.83,12.35" stroke="#00BCD7"/>
<polyline points="521.95,62.80 526.89,39.07 532.37,26.16 537.86,23.30 543.34,21.14 548.83,19.34 554.32,18.07 559.80,16.96 565.29,16.20 570.77,15.44 576.26,14.75 587.23,13.97 598.20,13.21 609.18,13.02 620.15,12.84 631.12,12.66 644.83,12.43" stroke="#00B8E7"/>
<polyline points="521.95,37.68 526.89,23.33 532.37,17.84 537.86,16.79 543.34,15.99 548.83,15.32 554.32,14.84 559.80,14.42 565.29,14.12 570.77,13.82 576.26,13.55 587.23,13.21 598.20,12.88 609.18,12.76 620.15,12.64 631.12,12.52 644.83,12.37" stroke="#00B1F4"/>
<polyline points="521.95,46.51 526.89,30.33 532.37,21.54 537.86,19.68 543.34,18.28 548.83,17.11 554.32,16.27 559.80,15.55 565.29,15.04 570.77,14.54 576.26,14.08 587.23,13.55 598.20,13.03 609.18,12.88 620.15,12.73 631.12,12.58 644.83,12.40" stroke="#00A9FF"/>
<polyline points="521.95,55.70 526.89,36.45 532.37,24.78 537.86,22.22 543.34,20.28 548.83,18.67 554.32,17.53 559.80,16.54 565.29,15.85 570.77,15.17 576.26,14.55 587.23,13.85 598.20,13.15 609.18,12.98 620.15,12.81 631.12,12.64 644.83,12.42" stroke="#49A0FF"/>
<polyline points="521.95,52.53 526.89,32.95 532.37,22.93 537.86,20.77 543.34,19.14 548.83,17.78 554.32,16.81 559.80,15.97 565.29,15.39 570.77,14.81 576.26,14.29 587.23,13.68 598.20,13.08 609.18,12.92 620.15,12.76 631.12,12.61 644.83,12.41" stroke="#8494FF"/>
<polyline points="521.95,44.71 526.89,27.70 532.37,20.15 537.86,18.60 543.34,17.42 548.83,16.44 554.32,15.74 559.80,15.12 565.29,14.70 570.77,14.27 576.26,13.88 587.23,13.42 598.20,12.97 609.18,12.83 620.15,12.70 631.12,12.56 644.83,12.39" stroke="#AA88FF"/>
<polyline points="521.95,76.59 526.89,48.69 532.37,31.25 537.86,27.28 543.34,24.28 548.83,21.79 554.32,20.04 559.80,18.52 565.29,17.47 570.77,16.43 576.26,15.49 587.23,14.44 598.20,13.40 609.18,13.18 620.15,12.96 631.12,12.74 644.83,12.47" stroke="#C77CFF"/>
<polyline points="521.95,75.38 526.89,46.94 532.37,30.32 537.86,26.55 543.34,23.71 548.83,21.35 554.32,19.68 559.80,18.23 565.29,17.24 570.77,16.25 576.26,15.36 587.23,14.36 598.20,13.37 609.18,13.15 620.15,12.94 631.12,12.73 644.83,12.46" stroke="#DD71FA"/>
<polyline points="521.95,79.78 526.89,40.82 532.37,27.09 537.86,24.02 543.34,21.71 548.83,19.79 554.32,18.42 559.80,17.24 565.29,16.43 570.77,15.62 576.26,14.89 587.23,14.06 598.20,13.24 609.18,13.05 620.15,12.86 631.12,12.67 644.83,12.44" stroke="#ED68ED"/>
<polyline points="521.95,53.57 526.89,34.70 532.37,23.85 537.86,21.49 543.34,19.71 548.83,18.22 554.32,17.17 559.80,16.26 565.29,15.62 570.77,14.99 576.26,14.42 587.23,13.76 598.20,13.12 609.18,12.95 620.15,12.79 631.12,12.62 644.83,12.41" stroke="#F862DE"/>
<polyline points="521.95,39.05 526.89,25.95 532.37,19.23 537.86,17.88 543.34,16.85 548.83,15.99 554.32,15.38 559.80,14.84 565.29,14.47 570.77,14.09 576.26,13.75 587.23,13.34 598.20,12.94 609.18,12.81 620.15,12.67 631.12,12.54 644.83,12.38" stroke="#FF61CC"/>
<polyline points="521.95,30.60 526.89,19.83 532.37,15.99 537.86,15.35 543.34,14.85 548.83,14.43 554.32,14.12 559.80,13.85 565.29,13.66 570.77,13.46 576.26,13.28 587.23,13.04 598.20,12.81 609.18,12.70 620.15,12.60 631.12,12.49 644.83,12.36" stroke="#FF63B8"/>
<polyline points="521.95,26.75 526.89,16.33 532.37,14.15 537.86,13.90 543.34,13.71 548.83,13.54 554.32,13.41 559.80,13.29 565.29,13.19 570.77,13.10 576.26,13.01 587.23,12.87 598.20,12.74 609.18,12.65 620.15,12.55 631.12,12.46 644.83,12.34" stroke="#FF68A1"/>
<polyline points="521.95,22.39 526.89,14.58 532.37,13.22 537.86,13.18 543.34,13.14 548.83,13.09 554.32,13.05 559.80,13.01 565.29,12.96 570.77,12.92 576.26,12.88 587.23,12.79 598.20,12.70 609.18,12.62 620.15,12.53 631.12,12.44 644.83,12.34" stroke="#FE6E88"/>
</g>
<line x1="576.26" y1="8.30" x2="576.26" y2="16.60" stroke="#8A8A8A" stroke-width="1.0"/>
<line x1="576.26" y1="24.80" x2="576.26" y2="41.60" stroke="#8A8A8A" stroke-width="1.0"/>
<line x1="576.26" y1="49.80" x2="576.26" y2="66.60" stroke="#8A8A8A" stroke-width="1.0"/>
<line x1="576.26" y1="74.80" x2="576.26" y2="83.30" stroke="#8A8A8A" stroke-width="1.0"/>
<text x="583.06" y="63.50" font-size="6.7" fill="#595959">Suggested</text>
<text x="583.06" y="71.35" font-size="6.7" fill="#595959">sequencing</text>
<text x="583.06" y="79.20" font-size="6.7" fill="#595959">depth: 100M</text>
<rect x="515.50" y="8.30" width="135.60" height="75.00" fill="none" stroke="#333333" stroke-width="1.1"/>
<line x1="521.40" y1="83.30" x2="521.40" y2="85.30" stroke="#333333" stroke-width="0.8"/>
<text x="521.40" y="92.98" text-anchor="middle" font-size="6.9">0</text>
<line x1="548.83" y1="83.30" x2="548.83" y2="85.30" stroke="#333333" stroke-width="0.8"/>
<text x="548.83" y="92.98" text-anchor="middle" font-size="6.9">50</text>
<line x1="576.26" y1="83.30" x2="576.26" y2="85.30" stroke="#333333" stroke-width="0.8"/>
<text x="576.26" y="92.98" text-anchor="middle" font-size="6.9">100</text>
<line x1="603.69" y1="83.30" x2="603.69" y2="85.30" stroke="#333333" stroke-width="0.8"/>
<text x="603.69" y="92.98" text-anchor="middle" font-size="6.9">150</text>
<line x1="631.12" y1="83.30" x2="631.12" y2="85.30" stroke="#333333" stroke-width="0.8"/>
<text x="631.12" y="92.98" text-anchor="middle" font-size="6.9">200</text>
<rect x="409.60" y="27.90" width="100.80" height="45.60" fill="white" stroke="none" stroke-width="1"/>
<clipPath id="ic0"><rect x="409.6" y="27.9" width="100.79999999999995" height="45.6"/></clipPath>
<g class="cv" fill="none" stroke-width="2.6" stroke-linejoin="round" stroke-linecap="butt" clip-path="url(#ic0)">
<polyline points="413.31,67.19 417.04,42.41 421.18,38.11 425.32,36.19 429.46,34.61 433.60,33.22 437.74,32.54 446.02,31.67 454.30,31.29 462.58,31.01 470.86,30.87 479.14,30.73 487.42,30.59 495.70,30.45 505.64,30.29" stroke="#F8766D"/>
<polyline points="413.31,66.03 417.04,42.06 421.18,37.88 425.32,36.04 429.46,34.45 433.60,33.05 437.74,32.41 446.02,31.61 454.30,31.27 462.58,31.02 470.86,30.87 479.14,30.73 487.42,30.59 495.70,30.44 505.64,30.27" stroke="#F07E4C"/>
<polyline points="413.31,64.87 417.04,41.72 421.18,37.66 425.32,35.88 429.46,34.30 433.60,32.88 437.74,32.29 446.02,31.54 454.30,31.25 462.58,31.02 470.86,30.87 479.14,30.73 487.42,30.58 495.70,30.43 505.64,30.25" stroke="#E68613"/>
<polyline points="413.31,63.72 417.04,41.37 421.18,37.43 425.32,35.72 429.46,34.15 433.60,32.71 437.74,32.16 446.02,31.48 454.30,31.23 462.58,31.02 470.86,30.87 479.14,30.72 487.42,30.57 495.70,30.42 505.64,30.23" stroke="#DA8E00"/>
<polyline points="413.31,62.56 417.04,41.03 421.18,37.21 425.32,35.57 429.46,33.99 433.60,32.54 437.74,32.03 446.02,31.42 454.30,31.21 462.58,31.03 470.86,30.87 479.14,30.72 487.42,30.56 495.70,30.40 505.64,30.22" stroke="#CD9600"/>
<polyline points="413.31,61.40 417.04,40.68 421.18,36.98 425.32,35.41 429.46,33.84 433.60,32.37 437.74,31.90 446.02,31.35 454.30,31.19 462.58,31.03 470.86,30.87 479.14,30.71 487.42,30.55 495.70,30.39 505.64,30.20" stroke="#BD9D00"/>
<polyline points="413.31,59.90 417.04,39.65 421.18,36.34 425.32,34.90 429.46,33.48 433.60,32.16 437.74,31.69 446.02,31.19 454.30,31.05 462.58,30.92 470.86,30.78 479.14,30.64 487.42,30.50 495.70,30.37 505.64,30.20" stroke="#ABA300"/>
<polyline points="413.31,58.40 417.04,38.61 421.18,35.70 425.32,34.39 429.46,33.13 433.60,31.95 437.74,31.48 446.02,31.03 454.30,30.92 462.58,30.80 470.86,30.68 479.14,30.57 487.42,30.45 495.70,30.34 505.64,30.20" stroke="#96A900"/>
<polyline points="413.31,69.83 417.04,43.20 421.18,38.62 425.32,36.55 429.46,34.96 433.60,33.60 437.74,32.83 446.02,31.82 454.30,31.33 462.58,31.00 470.86,30.87 479.14,30.74 487.42,30.61 495.70,30.48 505.64,30.33" stroke="#00C0B0"/>
<polyline points="413.31,69.91 417.04,43.22 421.18,38.63 425.32,36.56 429.46,34.97 433.60,33.61 437.74,32.84 446.02,31.82 454.30,31.33 462.58,31.00 470.86,30.87 479.14,30.74 487.42,30.61 495.70,30.48 505.64,30.33" stroke="#00C19A"/>
<polyline points="413.31,70.00 417.04,43.25 421.18,38.65 425.32,36.58 429.46,34.98 433.60,33.63 437.74,32.85 446.02,31.83 454.30,31.33 462.58,31.00 470.86,30.87 479.14,30.74 487.42,30.61 495.70,30.48 505.64,30.33" stroke="#00C082"/>
<polyline points="413.31,70.08 417.04,43.27 421.18,38.67 425.32,36.59 429.46,34.99 433.60,33.64 437.74,32.86 446.02,31.83 454.30,31.33 462.58,31.00 470.86,30.87 479.14,30.74 487.42,30.61 495.70,30.48 505.64,30.33" stroke="#00BE67"/>
<polyline points="413.31,70.33 417.04,43.35 421.18,38.71 425.32,36.62 429.46,35.03 433.60,33.67 437.74,32.89 446.02,31.85 454.30,31.34 462.58,31.00 470.86,30.87 479.14,30.74 487.42,30.62 495.70,30.49 505.64,30.33" stroke="#7CAE00"/>
<polyline points="413.31,70.49 417.04,43.40 421.18,38.75 425.32,36.64 429.46,35.05 433.60,33.70 437.74,32.90 446.02,31.85 454.30,31.34 462.58,31.00 470.86,30.87 479.14,30.75 487.42,30.62 495.70,30.49 505.64,30.34" stroke="#59B300"/>
<polyline points="413.31,70.82 417.04,43.50 421.18,38.81 425.32,36.69 429.46,35.09 433.60,33.75 437.74,32.94 446.02,31.87 454.30,31.35 462.58,31.00 470.86,30.87 479.14,30.75 487.42,30.62 495.70,30.49 505.64,30.34" stroke="#00BB46"/>
<polyline points="413.31,71.15 417.04,43.59 421.18,38.88 425.32,36.73 429.46,35.14 433.60,33.79 437.74,32.98 446.02,31.89 454.30,31.35 462.58,31.00 470.86,30.87 479.14,30.75 487.42,30.62 495.70,30.50 505.64,30.35" stroke="#0CB702"/>
<polyline points="413.31,65.12 417.04,41.79 421.18,37.70 425.32,35.91 429.46,34.33 433.60,32.91 437.74,32.31 446.02,31.56 454.30,31.25 462.58,31.02 470.86,30.87 479.14,30.73 487.42,30.58 495.70,30.43 505.64,30.26" stroke="#00BFC4"/>
<polyline points="413.31,63.47 417.04,41.30 421.18,37.38 425.32,35.69 429.46,34.11 433.60,32.67 437.74,32.13 446.02,31.47 454.30,31.23 462.58,31.03 470.86,30.87 479.14,30.72 487.42,30.57 495.70,30.41 505.64,30.23" stroke="#00BCD7"/>
<polyline points="413.31,62.23 417.04,40.93 421.18,37.14 425.32,35.52 429.46,33.95 433.60,32.49 437.74,31.99 446.02,31.40 454.30,31.21 462.58,31.03 470.86,30.87 479.14,30.72 487.42,30.56 495.70,30.40 505.64,30.21" stroke="#8494FF"/>
<polyline points="413.31,61.65 417.04,40.76 421.18,37.03 425.32,35.44 429.46,33.87 433.60,32.41 437.74,31.93 446.02,31.37 454.30,31.20 462.58,31.03 470.86,30.87 479.14,30.71 487.42,30.55 495.70,30.39 505.64,30.20" stroke="#AA88FF"/>
<polyline points="413.31,66.77 417.04,42.29 421.18,38.03 425.32,36.14 429.46,34.55 433.60,33.16 437.74,32.49 446.02,31.65 454.30,31.28 462.58,31.01 470.86,30.87 479.14,30.73 487.42,30.59 495.70,30.45 505.64,30.28" stroke="#00B8E7"/>
<polyline points="413.31,64.71 417.04,41.67 421.18,37.62 425.32,35.86 429.46,34.28 433.60,32.85 437.74,32.27 446.02,31.54 454.30,31.25 462.58,31.02 470.86,30.87 479.14,30.72 487.42,30.58 495.70,30.43 505.64,30.25" stroke="#49A0FF"/>
<polyline points="413.31,67.60 417.04,42.53 421.18,38.19 425.32,36.25 429.46,34.66 433.60,33.28 437.74,32.59 446.02,31.70 454.30,31.29 462.58,31.01 470.86,30.87 479.14,30.73 487.42,30.60 495.70,30.46 505.64,30.29" stroke="#00B1F4"/>
<polyline points="413.31,69.01 417.04,42.95 421.18,38.46 425.32,36.44 429.46,34.85 433.60,33.48 437.74,32.74 446.02,31.77 454.30,31.32 462.58,31.01 470.86,30.87 479.14,30.74 487.42,30.61 495.70,30.47 505.64,30.31" stroke="#00A9FF"/>
<polyline points="413.31,61.40 417.04,40.68 421.18,36.98 425.32,35.41 429.46,33.84 433.60,32.37 437.74,31.90 446.02,31.35 454.30,31.19 462.58,31.03 470.86,30.87 479.14,30.71 487.42,30.55 495.70,30.39 505.64,30.20" stroke="#C77CFF"/>
<polyline points="413.31,59.87 417.04,39.63 421.18,36.33 425.32,34.89 429.46,33.48 433.60,32.16 437.74,31.69 446.02,31.19 454.30,31.05 462.58,30.91 470.86,30.78 479.14,30.64 487.42,30.50 495.70,30.36 505.64,30.20" stroke="#DD71FA"/>
<polyline points="413.31,58.34 417.04,38.57 421.18,35.67 425.32,34.37 429.46,33.11 433.60,31.94 437.74,31.47 446.02,31.02 454.30,30.91 462.58,30.79 470.86,30.68 479.14,30.57 487.42,30.45 495.70,30.34 505.64,30.20" stroke="#ED68ED"/>
<polyline points="413.31,56.80 417.04,37.51 421.18,35.02 425.32,33.85 429.46,32.75 433.60,31.72 437.74,31.25 446.02,30.86 454.30,30.77 462.58,30.68 470.86,30.58 479.14,30.49 487.42,30.40 495.70,30.31 505.64,30.20" stroke="#F862DE"/>
<polyline points="413.31,55.27 417.04,36.45 421.18,34.37 425.32,33.33 429.46,32.39 433.60,31.50 437.74,31.04 446.02,30.69 454.30,30.63 462.58,30.56 470.86,30.49 479.14,30.42 487.42,30.35 495.70,30.28 505.64,30.20" stroke="#FF61CC"/>
<polyline points="413.31,53.74 417.04,35.40 421.18,33.71 425.32,32.81 429.46,32.03 433.60,31.28 437.74,30.82 446.02,30.53 454.30,30.48 462.58,30.44 470.86,30.39 479.14,30.35 487.42,30.30 495.70,30.25 505.64,30.20" stroke="#FF63B8"/>
<polyline points="413.31,52.21 417.04,34.34 421.18,33.06 425.32,32.29 429.46,31.67 433.60,31.07 437.74,30.60 446.02,30.36 454.30,30.34 462.58,30.32 470.86,30.30 479.14,30.27 487.42,30.25 495.70,30.23 505.64,30.20" stroke="#FF68A1"/>
<polyline points="413.31,50.67 417.04,33.28 421.18,32.40 425.32,31.77 429.46,31.31 433.60,30.85 437.74,30.39 446.02,30.20 454.30,30.20 462.58,30.20 470.86,30.20 479.14,30.20 487.42,30.20 495.70,30.20 505.64,30.20" stroke="#FE6E88"/>
</g>
<line x1="433.60" y1="27.90" x2="433.60" y2="33.00" stroke="#8A8A8A" stroke-width="1.0"/>
<line x1="433.60" y1="38.40" x2="433.60" y2="48.20" stroke="#8A8A8A" stroke-width="1.0"/>
<line x1="433.60" y1="53.60" x2="433.60" y2="63.40" stroke="#8A8A8A" stroke-width="1.0"/>
<line x1="433.60" y1="68.80" x2="433.60" y2="73.50" stroke="#8A8A8A" stroke-width="1.0"/>
<text x="437.20" y="53.07" font-size="6.6" fill="#595959">Suggested</text>
<text x="437.20" y="60.92" font-size="6.6" fill="#595959">sequencing</text>
<text x="437.20" y="68.77" font-size="6.6" fill="#595959">depth: 5M</text>
<rect x="409.60" y="27.90" width="100.80" height="45.60" fill="none" stroke="#333333" stroke-width="1.0"/>
<line x1="407.80" y1="30.20" x2="409.60" y2="30.20" stroke="#333333" stroke-width="0.8"/>
<text x="407.40" y="32.53" text-anchor="end" font-size="6.5">1.00</text>
<line x1="407.80" y1="42.53" x2="409.60" y2="42.53" stroke="#333333" stroke-width="0.8"/>
<text x="407.40" y="44.86" text-anchor="end" font-size="6.5">0.90</text>
<line x1="407.80" y1="54.87" x2="409.60" y2="54.87" stroke="#333333" stroke-width="0.8"/>
<text x="407.40" y="57.19" text-anchor="end" font-size="6.5">0.80</text>
<line x1="407.80" y1="67.20" x2="409.60" y2="67.20" stroke="#333333" stroke-width="0.8"/>
<text x="407.40" y="69.53" text-anchor="end" font-size="6.5">0.70</text>
<line x1="412.90" y1="73.50" x2="412.90" y2="75.30" stroke="#333333" stroke-width="0.8"/>
<text x="412.90" y="81.03" text-anchor="middle" font-size="6.5">0</text>
<line x1="433.60" y1="73.50" x2="433.60" y2="75.30" stroke="#333333" stroke-width="0.8"/>
<text x="433.60" y="81.03" text-anchor="middle" font-size="6.5">5</text>
<line x1="454.30" y1="73.50" x2="454.30" y2="75.30" stroke="#333333" stroke-width="0.8"/>
<text x="454.30" y="81.03" text-anchor="middle" font-size="6.5">10</text>
<line x1="475.00" y1="73.50" x2="475.00" y2="75.30" stroke="#333333" stroke-width="0.8"/>
<text x="475.00" y="81.03" text-anchor="middle" font-size="6.5">15</text>
<line x1="495.70" y1="73.50" x2="495.70" y2="75.30" stroke="#333333" stroke-width="0.8"/>
<text x="495.70" y="81.03" text-anchor="middle" font-size="6.5">20</text>
<line x1="387.8" y1="23.40" x2="392.0" y2="27.40" stroke="#E41A1C" stroke-width="1.1"/>
<path d="M393.4 28.80 L390.6 27.80 L392.4 26.00 Z" fill="#E41A1C"/>
<text x="0" y="0" text-anchor="middle" fill="#1A1A1A" transform="translate(354.50,133.45) rotate(-90)" dominant-baseline="central">Bray&#8722;Curtis dissimilarity</text>
<g class="cv" fill="none" stroke-width="2.0" stroke-linejoin="round" stroke-linecap="butt">
<polyline points="382.55,131.42 383.05,110.61 383.60,107.16 384.15,105.92 384.69,104.87 385.24,103.96 385.79,103.72 386.89,103.26 387.99,102.97 389.08,102.67 390.18,102.41 391.28,102.23 392.37,102.05 393.47,101.86 394.79,101.64" stroke="#F8766D"/>
<polyline points="382.55,130.18 383.05,109.95 383.60,106.85 384.15,105.66 384.69,104.63 385.24,103.72 385.79,103.47 386.89,103.00 387.99,102.74 389.08,102.47 390.18,102.25 391.28,102.07 392.37,101.90 393.47,101.73 394.79,101.52" stroke="#F07E4C"/>
<polyline points="382.55,128.94 383.05,109.28 383.60,106.53 384.15,105.41 384.69,104.39 385.24,103.48 385.79,103.22 386.89,102.74 387.99,102.51 389.08,102.28 390.18,102.08 391.28,101.91 392.37,101.75 393.47,101.59 394.79,101.40" stroke="#E68613"/>
<polyline points="382.55,127.71 383.05,108.61 383.60,106.22 384.15,105.15 384.69,104.15 385.24,103.24 385.79,102.97 386.89,102.48 387.99,102.28 389.08,102.09 390.18,101.91 391.28,101.76 392.37,101.60 393.47,101.45 394.79,101.27" stroke="#DA8E00"/>
<polyline points="382.55,126.47 383.05,107.95 383.60,105.91 384.15,104.89 384.69,103.91 385.24,103.00 385.79,102.72 386.89,102.22 387.99,102.05 389.08,101.89 390.18,101.74 391.28,101.60 392.37,101.46 393.47,101.32 394.79,101.15" stroke="#CD9600"/>
<polyline points="382.55,125.23 383.05,107.28 383.60,105.60 384.15,104.63 384.69,103.66 385.24,102.76 385.79,102.47 386.89,101.96 387.99,101.83 389.08,101.70 390.18,101.57 391.28,101.44 392.37,101.31 393.47,101.18 394.79,101.02" stroke="#BD9D00"/>
<polyline points="382.55,123.51 383.05,106.84 383.60,105.32 384.15,104.41 384.69,103.51 385.24,102.66 385.79,102.37 386.89,101.86 387.99,101.74 389.08,101.62 390.18,101.50 391.28,101.38 392.37,101.26 393.47,101.14 394.79,101.00" stroke="#ABA300"/>
<polyline points="382.55,121.79 383.05,106.41 383.60,105.05 384.15,104.20 384.69,103.35 385.24,102.55 385.79,102.27 386.89,101.77 387.99,101.66 389.08,101.55 390.18,101.43 391.28,101.32 392.37,101.21 393.47,101.10 394.79,100.97" stroke="#96A900"/>
<polyline points="382.55,134.09 383.05,109.66 383.60,106.71 384.15,105.55 384.69,104.53 385.24,103.62 385.79,103.36 386.89,102.89 387.99,102.64 389.08,102.39 390.18,102.17 391.28,102.00 392.37,101.84 393.47,101.67 394.79,101.47" stroke="#00C0B0"/>
<polyline points="382.55,134.10 383.05,109.66 383.60,106.71 384.15,105.55 384.69,104.53 385.24,103.62 385.79,103.36 386.89,102.89 387.99,102.64 389.08,102.39 390.18,102.17 391.28,102.00 392.37,101.84 393.47,101.67 394.79,101.47" stroke="#00C19A"/>
<polyline points="382.55,134.11 383.05,109.66 383.60,106.71 384.15,105.55 384.69,104.53 385.24,103.62 385.79,103.36 386.89,102.89 387.99,102.64 389.08,102.39 390.18,102.17 391.28,102.00 392.37,101.84 393.47,101.67 394.79,101.47" stroke="#00C082"/>
<polyline points="382.55,134.13 383.05,109.66 383.60,106.71 384.15,105.55 384.69,104.53 385.24,103.62 385.79,103.36 386.89,102.89 387.99,102.64 389.08,102.39 390.18,102.17 391.28,102.00 392.37,101.84 393.47,101.67 394.79,101.47" stroke="#00BE67"/>
<polyline points="382.55,134.16 383.05,109.66 383.60,106.71 384.15,105.55 384.69,104.53 385.24,103.62 385.79,103.36 386.89,102.89 387.99,102.64 389.08,102.39 390.18,102.17 391.28,102.00 392.37,101.84 393.47,101.67 394.79,101.47" stroke="#7CAE00"/>
<polyline points="382.55,134.18 383.05,109.66 383.60,106.71 384.15,105.55 384.69,104.53 385.24,103.62 385.79,103.36 386.89,102.89 387.99,102.64 389.08,102.39 390.18,102.17 391.28,102.00 392.37,101.84 393.47,101.67 394.79,101.47" stroke="#59B300"/>
<polyline points="382.55,134.22 383.05,109.66 383.60,106.71 384.15,105.55 384.69,104.53 385.24,103.62 385.79,103.36 386.89,102.89 387.99,102.64 389.08,102.39 390.18,102.17 391.28,102.00 392.37,101.84 393.47,101.67 394.79,101.47" stroke="#00BB46"/>
<polyline points="382.55,134.26 383.05,109.66 383.60,106.71 384.15,105.55 384.69,104.53 385.24,103.62 385.79,103.36 386.89,102.89 387.99,102.64 389.08,102.39 390.18,102.17 391.28,102.00 392.37,101.84 393.47,101.67 394.79,101.47" stroke="#0CB702"/>
<polyline points="382.55,129.21 383.05,109.42 383.60,106.60 384.15,105.46 384.69,104.44 385.24,103.53 385.79,103.27 386.89,102.80 387.99,102.56 389.08,102.32 390.18,102.11 391.28,101.95 392.37,101.78 393.47,101.62 394.79,101.42" stroke="#00BFC4"/>
<polyline points="382.55,127.44 383.05,108.47 383.60,106.16 384.15,105.09 384.69,104.09 385.24,103.19 385.79,102.92 386.89,102.42 387.99,102.23 389.08,102.04 390.18,101.87 391.28,101.72 392.37,101.57 393.47,101.42 394.79,101.24" stroke="#00BCD7"/>
<polyline points="382.55,126.12 383.05,107.76 383.60,105.82 384.15,104.82 384.69,103.84 385.24,102.93 385.79,102.65 386.89,102.14 387.99,101.99 389.08,101.84 390.18,101.69 391.28,101.55 392.37,101.41 393.47,101.28 394.79,101.11" stroke="#8494FF"/>
<polyline points="382.55,125.50 383.05,107.42 383.60,105.67 384.15,104.69 384.69,103.72 385.24,102.81 385.79,102.52 386.89,102.01 387.99,101.88 389.08,101.74 390.18,101.60 391.28,101.47 392.37,101.34 393.47,101.21 394.79,101.05" stroke="#AA88FF"/>
<polyline points="382.55,130.98 383.05,110.37 383.60,107.05 384.15,105.83 384.69,104.78 385.24,103.87 385.79,103.63 386.89,103.17 387.99,102.88 389.08,102.60 390.18,102.35 391.28,102.17 392.37,101.99 393.47,101.81 394.79,101.60" stroke="#00B8E7"/>
<polyline points="382.55,128.77 383.05,109.18 383.60,106.49 384.15,105.37 384.69,104.35 385.24,103.45 385.79,103.18 386.89,102.70 387.99,102.48 389.08,102.25 390.18,102.05 391.28,101.89 392.37,101.73 393.47,101.57 394.79,101.38" stroke="#49A0FF"/>
<polyline points="382.55,131.86 383.05,110.85 383.60,107.27 384.15,106.01 384.69,104.96 385.24,104.04 385.79,103.81 386.89,103.36 387.99,103.05 389.08,102.74 390.18,102.47 391.28,102.29 392.37,102.10 393.47,101.91 394.79,101.69" stroke="#00B1F4"/>
<polyline points="382.55,133.36 383.05,111.66 383.60,107.65 384.15,106.33 384.69,105.25 385.24,104.33 385.79,104.11 386.89,103.67 387.99,103.32 389.08,102.97 390.18,102.68 391.28,102.48 392.37,102.28 393.47,102.08 394.79,101.84" stroke="#00A9FF"/>
<polyline points="382.55,125.23 383.05,107.28 383.60,105.60 384.15,104.63 384.69,103.66 385.24,102.76 385.79,102.47 386.89,101.96 387.99,101.83 389.08,101.70 390.18,101.57 391.28,101.44 392.37,101.31 393.47,101.18 394.79,101.02" stroke="#C77CFF"/>
<polyline points="382.55,123.47 383.05,106.83 383.60,105.32 384.15,104.41 384.69,103.50 385.24,102.66 385.79,102.37 386.89,101.86 387.99,101.74 389.08,101.62 390.18,101.50 391.28,101.38 392.37,101.26 393.47,101.14 394.79,100.99" stroke="#DD71FA"/>
<polyline points="382.55,121.72 383.05,106.39 383.60,105.04 384.15,104.19 384.69,103.34 385.24,102.55 385.79,102.27 386.89,101.77 387.99,101.65 389.08,101.54 390.18,101.43 391.28,101.32 392.37,101.21 393.47,101.10 394.79,100.97" stroke="#ED68ED"/>
<polyline points="382.55,119.96 383.05,105.94 383.60,104.75 384.15,103.97 384.69,103.18 385.24,102.44 385.79,102.16 386.89,101.67 387.99,101.57 389.08,101.47 390.18,101.36 391.28,101.26 392.37,101.16 393.47,101.06 394.79,100.94" stroke="#F862DE"/>
<polyline points="382.55,118.20 383.05,105.50 383.60,104.47 384.15,103.74 384.69,103.02 385.24,102.34 385.79,102.06 386.89,101.57 387.99,101.48 389.08,101.39 390.18,101.30 391.28,101.20 392.37,101.11 393.47,101.02 394.79,100.91" stroke="#FF61CC"/>
<polyline points="382.55,116.44 383.05,105.05 383.60,104.19 384.15,103.52 384.69,102.86 385.24,102.23 385.79,101.96 386.89,101.48 387.99,101.39 389.08,101.31 390.18,101.23 391.28,101.14 392.37,101.06 393.47,100.98 394.79,100.88" stroke="#FF63B8"/>
<polyline points="382.55,114.68 383.05,104.61 383.60,103.90 384.15,103.30 384.69,102.69 385.24,102.12 385.79,101.85 386.89,101.38 387.99,101.31 389.08,101.23 390.18,101.16 391.28,101.09 392.37,101.01 393.47,100.94 394.79,100.85" stroke="#FF68A1"/>
<polyline points="382.55,112.92 383.05,104.16 383.60,103.62 384.15,103.08 384.69,102.53 385.24,102.02 385.79,101.75 386.89,101.29 387.99,101.22 389.08,101.16 390.18,101.09 391.28,101.03 392.37,100.96 393.47,100.90 394.79,100.82" stroke="#FE6E88"/>
</g>
<rect x="376.60" y="95.60" width="135.60" height="75.70" fill="none" stroke="#333333" stroke-width="1.1"/>
<line x1="382.50" y1="171.30" x2="382.50" y2="173.30" stroke="#333333" stroke-width="0.8"/>
<text x="382.50" y="179.88" text-anchor="middle" font-size="6.9">0</text>
<line x1="409.93" y1="171.30" x2="409.93" y2="173.30" stroke="#333333" stroke-width="0.8"/>
<text x="409.93" y="179.88" text-anchor="middle" font-size="6.9">50</text>
<line x1="437.36" y1="171.30" x2="437.36" y2="173.30" stroke="#333333" stroke-width="0.8"/>
<text x="437.36" y="179.88" text-anchor="middle" font-size="6.9">100</text>
<line x1="464.79" y1="171.30" x2="464.79" y2="173.30" stroke="#333333" stroke-width="0.8"/>
<text x="464.79" y="179.88" text-anchor="middle" font-size="6.9">150</text>
<line x1="492.22" y1="171.30" x2="492.22" y2="173.30" stroke="#333333" stroke-width="0.8"/>
<text x="492.22" y="179.88" text-anchor="middle" font-size="6.9">200</text>
<line x1="374.60" y1="99.80" x2="376.60" y2="99.80" stroke="#333333" stroke-width="0.8"/>
<text x="373.80" y="102.27" text-anchor="end" font-size="6.9">1.00</text>
<line x1="374.60" y1="116.80" x2="376.60" y2="116.80" stroke="#333333" stroke-width="0.8"/>
<text x="373.80" y="119.27" text-anchor="end" font-size="6.9">0.75</text>
<line x1="374.60" y1="133.80" x2="376.60" y2="133.80" stroke="#333333" stroke-width="0.8"/>
<text x="373.80" y="136.27" text-anchor="end" font-size="6.9">0.50</text>
<line x1="374.60" y1="150.80" x2="376.60" y2="150.80" stroke="#333333" stroke-width="0.8"/>
<text x="373.80" y="153.27" text-anchor="end" font-size="6.9">0.25</text>
<line x1="374.60" y1="167.80" x2="376.60" y2="167.80" stroke="#333333" stroke-width="0.8"/>
<text x="373.80" y="170.27" text-anchor="end" font-size="6.9">0.00</text>
<g class="cv" fill="none" stroke-width="2.3" stroke-linejoin="round" stroke-linecap="butt">
<polyline points="521.95,137.81 526.89,119.62 532.37,110.65 537.86,108.63 543.34,106.54 548.83,104.61 554.32,103.81 559.80,103.00 565.29,102.49 570.77,102.05 576.26,101.65 587.23,101.11 598.20,100.59 609.18,100.43 620.15,100.28 631.12,100.13 644.83,99.94" stroke="#F8766D"/>
<polyline points="521.95,159.81 526.89,133.82 532.37,118.65 537.86,115.07 543.34,111.35 548.83,107.93 554.32,106.51 559.80,105.09 565.29,104.20 570.77,103.45 576.26,102.76 587.23,101.85 598.20,100.95 609.18,100.73 620.15,100.50 631.12,100.28 644.83,99.99" stroke="#F07E4C"/>
<polyline points="521.95,144.20 526.89,124.35 532.37,113.32 537.86,110.78 543.34,108.14 548.83,105.72 554.32,104.71 559.80,103.70 565.29,103.06 570.77,102.52 576.26,102.02 587.23,101.36 598.20,100.71 609.18,100.53 620.15,100.35 631.12,100.18 644.83,99.96" stroke="#E68613"/>
<polyline points="521.95,143.27 526.89,121.99 532.37,111.98 537.86,109.71 543.34,107.34 548.83,105.17 554.32,104.26 559.80,103.35 565.29,102.77 570.77,102.28 576.26,101.83 587.23,101.24 598.20,100.65 609.18,100.48 620.15,100.32 631.12,100.15 644.83,99.95" stroke="#DA8E00"/>
<polyline points="521.95,159.45 526.89,131.45 532.37,117.32 537.86,113.99 543.34,110.55 548.83,107.38 554.32,106.06 559.80,104.74 565.29,103.92 570.77,103.22 576.26,102.57 587.23,101.73 598.20,100.89 609.18,100.68 620.15,100.46 631.12,100.25 644.83,99.98" stroke="#CD9600"/>
<polyline points="521.95,133.53 526.89,117.26 532.37,109.32 537.86,107.56 543.34,105.74 548.83,104.06 554.32,103.35 559.80,102.65 565.29,102.20 570.77,101.82 576.26,101.47 587.23,100.99 598.20,100.53 609.18,100.39 620.15,100.24 631.12,100.10 644.83,99.93" stroke="#BD9D00"/>
<polyline points="521.95,154.86 526.89,129.09 532.37,115.98 537.86,112.92 543.34,109.75 548.83,106.83 554.32,105.61 559.80,104.39 565.29,103.63 570.77,102.98 576.26,102.39 587.23,101.60 598.20,100.83 609.18,100.63 620.15,100.43 631.12,100.23 644.83,99.98" stroke="#ABA300"/>
<polyline points="521.95,150.72 526.89,126.72 532.37,114.65 537.86,111.85 543.34,108.94 548.83,106.27 554.32,105.16 559.80,104.04 565.29,103.35 570.77,102.75 576.26,102.20 587.23,101.48 598.20,100.77 609.18,100.58 620.15,100.39 631.12,100.20 644.83,99.97" stroke="#96A900"/>
<polyline points="521.95,136.31 526.89,137.22 532.37,120.56 537.86,116.61 543.34,112.50 548.83,108.73 554.32,107.16 559.80,105.59 565.29,104.62 570.77,103.78 576.26,103.02 587.23,102.02 598.20,101.04 609.18,100.80 620.15,100.55 631.12,100.31 644.83,100.01" stroke="#00C0B0"/>
<polyline points="521.95,139.28 526.89,137.13 532.37,120.52 537.86,116.57 543.34,112.47 548.83,108.71 554.32,107.15 559.80,105.58 565.29,104.61 570.77,103.78 576.26,103.02 587.23,102.02 598.20,101.04 609.18,100.79 620.15,100.55 631.12,100.31 644.83,100.01" stroke="#00C19A"/>
<polyline points="521.95,142.26 526.89,137.04 532.37,120.47 537.86,116.53 543.34,112.44 548.83,108.69 554.32,107.13 559.80,105.57 565.29,104.59 570.77,103.77 576.26,103.01 587.23,102.01 598.20,101.03 609.18,100.79 620.15,100.55 631.12,100.31 644.83,100.01" stroke="#00C082"/>
<polyline points="521.95,145.23 526.89,136.95 532.37,120.42 537.86,116.49 543.34,112.41 548.83,108.67 554.32,107.11 559.80,105.56 565.29,104.58 570.77,103.76 576.26,103.00 587.23,102.01 598.20,101.03 609.18,100.79 620.15,100.55 631.12,100.31 644.83,100.01" stroke="#00BE67"/>
<polyline points="521.95,157.12 526.89,136.78 532.37,120.32 537.86,116.41 543.34,112.35 548.83,108.63 554.32,107.08 559.80,105.53 565.29,104.56 570.77,103.74 576.26,102.99 587.23,102.00 598.20,101.03 609.18,100.79 620.15,100.55 631.12,100.31 644.83,100.01" stroke="#7CAE00"/>
<polyline points="521.95,154.14 526.89,136.87 532.37,120.37 537.86,116.45 543.34,112.38 548.83,108.65 554.32,107.10 559.80,105.54 565.29,104.57 570.77,103.75 576.26,103.00 587.23,102.01 598.20,101.03 609.18,100.79 620.15,100.55 631.12,100.31 644.83,100.01" stroke="#59B300"/>
<polyline points="521.95,148.20 526.89,137.39 532.37,120.66 537.86,116.69 543.34,112.56 548.83,108.77 554.32,107.20 559.80,105.62 565.29,104.64 570.77,103.80 576.26,103.04 587.23,102.03 598.20,101.04 609.18,100.80 620.15,100.56 631.12,100.31 644.83,100.01" stroke="#00BB46"/>
<polyline points="521.95,151.17 526.89,137.48 532.37,120.71 537.86,116.73 543.34,112.59 548.83,108.79 554.32,107.21 559.80,105.63 565.29,104.65 570.77,103.81 576.26,103.04 587.23,102.04 598.20,101.05 609.18,100.80 620.15,100.56 631.12,100.31 644.83,100.01" stroke="#0CB702"/>
<polyline points="521.95,154.49 526.89,130.33 532.37,116.69 537.86,113.49 543.34,110.17 548.83,107.12 554.32,105.85 559.80,104.58 565.29,103.78 570.77,103.11 576.26,102.49 587.23,101.67 598.20,100.86 609.18,100.65 620.15,100.45 631.12,100.24 644.83,99.98" stroke="#00BFC4"/>
<polyline points="521.95,114.10 526.89,105.93 532.37,102.94 537.86,102.43 543.34,101.90 548.83,101.41 554.32,101.19 559.80,100.97 565.29,100.83 570.77,100.70 576.26,100.58 587.23,100.41 598.20,100.23 609.18,100.15 620.15,100.07 631.12,99.99 644.83,99.88" stroke="#00BCD7"/>
<polyline points="521.95,148.25 526.89,125.97 532.37,114.23 537.86,111.51 543.34,108.69 548.83,106.10 554.32,105.02 559.80,103.93 565.29,103.25 570.77,102.68 576.26,102.15 587.23,101.44 598.20,100.75 609.18,100.56 620.15,100.38 631.12,100.19 644.83,99.96" stroke="#00B8E7"/>
<polyline points="521.95,119.76 526.89,110.28 532.37,105.39 537.86,104.40 543.34,103.37 548.83,102.43 554.32,102.02 559.80,101.62 565.29,101.36 570.77,101.13 576.26,100.92 587.23,100.63 598.20,100.35 609.18,100.24 620.15,100.14 631.12,100.03 644.83,99.90" stroke="#00B1F4"/>
<polyline points="521.95,135.21 526.89,117.26 532.37,109.32 537.86,107.56 543.34,105.74 548.83,104.06 554.32,103.35 559.80,102.65 565.29,102.20 570.77,101.82 576.26,101.47 587.23,100.99 598.20,100.53 609.18,100.39 620.15,100.24 631.12,100.10 644.83,99.93" stroke="#00A9FF"/>
<polyline points="521.95,142.88 526.89,123.36 532.37,112.76 537.86,110.33 543.34,107.81 548.83,105.49 554.32,104.52 559.80,103.55 565.29,102.94 570.77,102.42 576.26,101.94 587.23,101.31 598.20,100.68 609.18,100.51 620.15,100.34 631.12,100.17 644.83,99.95" stroke="#49A0FF"/>
<polyline points="521.95,136.75 526.89,119.87 532.37,110.79 537.86,108.75 543.34,106.62 548.83,104.67 554.32,103.85 559.80,103.03 565.29,102.52 570.77,102.07 576.26,101.67 587.23,101.13 598.20,100.59 609.18,100.44 620.15,100.29 631.12,100.13 644.83,99.94" stroke="#8494FF"/>
<polyline points="521.95,130.52 526.89,114.64 532.37,107.85 537.86,106.38 543.34,104.85 548.83,103.45 554.32,102.85 559.80,102.26 565.29,101.88 570.77,101.56 576.26,101.26 587.23,100.86 598.20,100.46 609.18,100.33 620.15,100.20 631.12,100.08 644.83,99.92" stroke="#AA88FF"/>
<polyline points="521.95,166.63 526.89,135.56 532.37,119.63 537.86,115.86 543.34,111.94 548.83,108.34 554.32,106.85 559.80,105.35 565.29,104.42 570.77,103.62 576.26,102.89 587.23,101.94 598.20,101.00 609.18,100.76 620.15,100.53 631.12,100.29 644.83,100.00" stroke="#C77CFF"/>
<polyline points="521.95,163.15 526.89,133.82 532.37,118.65 537.86,115.07 543.34,111.35 548.83,107.93 554.32,106.51 559.80,105.09 565.29,104.20 570.77,103.45 576.26,102.76 587.23,101.85 598.20,100.95 609.18,100.73 620.15,100.50 631.12,100.28 644.83,99.99" stroke="#DD71FA"/>
<polyline points="521.95,148.95 526.89,127.72 532.37,115.21 537.86,112.30 543.34,109.28 548.83,106.51 554.32,105.35 559.80,104.19 565.29,103.47 570.77,102.85 576.26,102.28 587.23,101.53 598.20,100.79 609.18,100.60 620.15,100.41 631.12,100.21 644.83,99.97" stroke="#ED68ED"/>
<polyline points="521.95,139.52 526.89,121.61 532.37,111.77 537.86,109.54 543.34,107.21 548.83,105.08 554.32,104.19 559.80,103.29 565.29,102.73 570.77,102.25 576.26,101.81 587.23,101.22 598.20,100.64 609.18,100.48 620.15,100.31 631.12,100.15 644.83,99.95" stroke="#F862DE"/>
<polyline points="521.95,126.12 526.89,112.90 532.37,106.86 537.86,105.59 543.34,104.26 548.83,103.04 554.32,102.52 559.80,102.00 565.29,101.67 570.77,101.39 576.26,101.13 587.23,100.77 598.20,100.41 609.18,100.30 620.15,100.18 631.12,100.06 644.83,99.91" stroke="#FF61CC"/>
<polyline points="521.95,115.11 526.89,106.80 532.37,103.43 537.86,102.82 543.34,102.19 548.83,101.61 554.32,101.36 559.80,101.10 565.29,100.93 570.77,100.79 576.26,100.65 587.23,100.45 598.20,100.26 609.18,100.17 620.15,100.08 631.12,100.00 644.83,99.89" stroke="#FF63B8"/>
<polyline points="521.95,107.31 526.89,103.31 532.37,101.46 537.86,101.24 543.34,101.01 548.83,100.80 554.32,100.69 559.80,100.59 565.29,100.51 570.77,100.44 576.26,100.38 587.23,100.27 598.20,100.17 609.18,100.10 620.15,100.03 631.12,99.96 644.83,99.87" stroke="#FF68A1"/>
<polyline points="521.95,107.23 526.89,101.57 532.37,100.48 537.86,100.45 543.34,100.42 548.83,100.39 554.32,100.36 559.80,100.33 565.29,100.30 570.77,100.27 576.26,100.24 587.23,100.18 598.20,100.12 609.18,100.06 620.15,100.00 631.12,99.94 644.83,99.87" stroke="#FE6E88"/>
</g>
<line x1="576.26" y1="95.70" x2="576.26" y2="104.10" stroke="#8A8A8A" stroke-width="1.0"/>
<line x1="576.26" y1="112.30" x2="576.26" y2="129.40" stroke="#8A8A8A" stroke-width="1.0"/>
<line x1="576.26" y1="137.30" x2="576.26" y2="154.30" stroke="#8A8A8A" stroke-width="1.0"/>
<line x1="576.26" y1="162.30" x2="576.26" y2="171.30" stroke="#8A8A8A" stroke-width="1.0"/>
<text x="583.06" y="151.50" font-size="6.7" fill="#595959">Suggested</text>
<text x="583.06" y="159.35" font-size="6.7" fill="#595959">sequencing</text>
<text x="583.06" y="167.20" font-size="6.7" fill="#595959">depth: 100M</text>
<rect x="515.50" y="95.60" width="135.60" height="75.70" fill="none" stroke="#333333" stroke-width="1.1"/>
<line x1="521.40" y1="171.30" x2="521.40" y2="173.30" stroke="#333333" stroke-width="0.8"/>
<text x="521.40" y="179.88" text-anchor="middle" font-size="6.9">0</text>
<line x1="548.83" y1="171.30" x2="548.83" y2="173.30" stroke="#333333" stroke-width="0.8"/>
<text x="548.83" y="179.88" text-anchor="middle" font-size="6.9">50</text>
<line x1="576.26" y1="171.30" x2="576.26" y2="173.30" stroke="#333333" stroke-width="0.8"/>
<text x="576.26" y="179.88" text-anchor="middle" font-size="6.9">100</text>
<line x1="603.69" y1="171.30" x2="603.69" y2="173.30" stroke="#333333" stroke-width="0.8"/>
<text x="603.69" y="179.88" text-anchor="middle" font-size="6.9">150</text>
<line x1="631.12" y1="171.30" x2="631.12" y2="173.30" stroke="#333333" stroke-width="0.8"/>
<text x="631.12" y="179.88" text-anchor="middle" font-size="6.9">200</text>
<rect x="409.60" y="115.70" width="100.80" height="45.00" fill="white" stroke="none" stroke-width="1"/>
<clipPath id="ic1"><rect x="409.6" y="115.7" width="100.79999999999995" height="44.999999999999986"/></clipPath>
<g class="cv" fill="none" stroke-width="2.6" stroke-linejoin="round" stroke-linecap="butt" clip-path="url(#ic1)">
<polyline points="413.31,154.47 417.04,129.75 421.18,125.64 425.32,124.17 429.46,122.92 433.60,121.84 437.74,121.55 446.02,121.02 454.30,120.66 462.58,120.31 470.86,120.01 479.14,119.79 487.42,119.57 495.70,119.35 505.64,119.09" stroke="#F8766D"/>
<polyline points="413.31,153.00 417.04,128.96 421.18,125.27 425.32,123.87 429.46,122.64 433.60,121.56 437.74,121.26 446.02,120.71 454.30,120.39 462.58,120.08 470.86,119.81 479.14,119.60 487.42,119.39 495.70,119.19 505.64,118.94" stroke="#F07E4C"/>
<polyline points="413.31,151.53 417.04,128.16 421.18,124.90 425.32,123.56 429.46,122.35 433.60,121.27 437.74,120.96 446.02,120.39 454.30,120.12 462.58,119.85 470.86,119.60 479.14,119.41 487.42,119.22 495.70,119.03 505.64,118.80" stroke="#E68613"/>
<polyline points="413.31,150.06 417.04,127.37 421.18,124.53 425.32,123.26 429.46,122.06 433.60,120.99 437.74,120.67 446.02,120.08 454.30,119.85 462.58,119.62 470.86,119.40 479.14,119.22 487.42,119.04 495.70,118.86 505.64,118.65" stroke="#DA8E00"/>
<polyline points="413.31,148.59 417.04,126.58 421.18,124.16 425.32,122.95 429.46,121.78 433.60,120.70 437.74,120.37 446.02,119.77 454.30,119.58 462.58,119.39 470.86,119.20 479.14,119.04 487.42,118.87 495.70,118.70 505.64,118.50" stroke="#CD9600"/>
<polyline points="413.31,147.12 417.04,125.79 421.18,123.79 425.32,122.64 429.46,121.49 433.60,120.42 437.74,120.07 446.02,119.46 454.30,119.31 462.58,119.15 470.86,119.00 479.14,118.85 487.42,118.69 495.70,118.54 505.64,118.35" stroke="#BD9D00"/>
<polyline points="413.31,145.07 417.04,125.27 421.18,123.46 425.32,122.38 429.46,121.30 433.60,120.30 437.74,119.95 446.02,119.35 454.30,119.21 462.58,119.06 470.86,118.92 479.14,118.78 487.42,118.64 495.70,118.49 505.64,118.32" stroke="#ABA300"/>
<polyline points="413.31,143.02 417.04,124.75 421.18,123.13 425.32,122.12 429.46,121.11 433.60,120.17 437.74,119.83 446.02,119.24 454.30,119.11 462.58,118.97 470.86,118.84 479.14,118.71 487.42,118.58 495.70,118.45 505.64,118.29" stroke="#96A900"/>
<polyline points="413.31,157.65 417.04,128.62 421.18,125.11 425.32,123.74 429.46,122.52 433.60,121.43 437.74,121.13 446.02,120.57 454.30,120.27 462.58,119.98 470.86,119.72 479.14,119.52 487.42,119.32 495.70,119.12 505.64,118.88" stroke="#00C0B0"/>
<polyline points="413.31,157.66 417.04,128.62 421.18,125.11 425.32,123.74 429.46,122.52 433.60,121.43 437.74,121.13 446.02,120.57 454.30,120.27 462.58,119.98 470.86,119.72 479.14,119.52 487.42,119.32 495.70,119.12 505.64,118.88" stroke="#00C19A"/>
<polyline points="413.31,157.67 417.04,128.62 421.18,125.11 425.32,123.74 429.46,122.52 433.60,121.43 437.74,121.13 446.02,120.57 454.30,120.27 462.58,119.98 470.86,119.72 479.14,119.52 487.42,119.32 495.70,119.12 505.64,118.88" stroke="#00C082"/>
<polyline points="413.31,157.69 417.04,128.62 421.18,125.11 425.32,123.74 429.46,122.52 433.60,121.43 437.74,121.13 446.02,120.57 454.30,120.27 462.58,119.98 470.86,119.72 479.14,119.52 487.42,119.32 495.70,119.12 505.64,118.88" stroke="#00BE67"/>
<polyline points="413.31,157.72 417.04,128.62 421.18,125.11 425.32,123.74 429.46,122.52 433.60,121.43 437.74,121.13 446.02,120.57 454.30,120.27 462.58,119.98 470.86,119.72 479.14,119.52 487.42,119.32 495.70,119.12 505.64,118.88" stroke="#7CAE00"/>
<polyline points="413.31,157.75 417.04,128.62 421.18,125.11 425.32,123.74 429.46,122.52 433.60,121.43 437.74,121.13 446.02,120.57 454.30,120.27 462.58,119.98 470.86,119.72 479.14,119.52 487.42,119.32 495.70,119.12 505.64,118.88" stroke="#59B300"/>
<polyline points="413.31,157.80 417.04,128.62 421.18,125.11 425.32,123.74 429.46,122.52 433.60,121.43 437.74,121.13 446.02,120.57 454.30,120.27 462.58,119.98 470.86,119.72 479.14,119.52 487.42,119.32 495.70,119.12 505.64,118.88" stroke="#00BB46"/>
<polyline points="413.31,157.85 417.04,128.62 421.18,125.11 425.32,123.74 429.46,122.52 433.60,121.43 437.74,121.13 446.02,120.57 454.30,120.27 462.58,119.98 470.86,119.72 479.14,119.52 487.42,119.32 495.70,119.12 505.64,118.88" stroke="#0CB702"/>
<polyline points="413.31,151.85 417.04,128.33 421.18,124.98 425.32,123.63 429.46,122.41 433.60,121.33 437.74,121.03 446.02,120.46 454.30,120.18 462.58,119.90 470.86,119.65 479.14,119.45 487.42,119.26 495.70,119.06 505.64,118.83" stroke="#00BFC4"/>
<polyline points="413.31,149.75 417.04,127.20 421.18,124.45 425.32,123.19 429.46,122.00 433.60,120.93 437.74,120.60 446.02,120.02 454.30,119.79 462.58,119.57 470.86,119.36 479.14,119.18 487.42,119.01 495.70,118.83 505.64,118.62" stroke="#00BCD7"/>
<polyline points="413.31,148.17 417.04,126.35 421.18,124.06 425.32,122.86 429.46,121.70 433.60,120.62 437.74,120.29 446.02,119.68 454.30,119.50 462.58,119.32 470.86,119.14 479.14,118.98 487.42,118.82 495.70,118.66 505.64,118.46" stroke="#8494FF"/>
<polyline points="413.31,147.43 417.04,125.96 421.18,123.87 425.32,122.71 429.46,121.55 433.60,120.48 437.74,120.14 446.02,119.53 454.30,119.37 462.58,119.20 470.86,119.04 479.14,118.89 487.42,118.73 495.70,118.57 505.64,118.39" stroke="#AA88FF"/>
<polyline points="413.31,153.95 417.04,129.46 421.18,125.51 425.32,124.07 429.46,122.82 433.60,121.74 437.74,121.45 446.02,120.91 454.30,120.56 462.58,120.22 470.86,119.93 479.14,119.72 487.42,119.51 495.70,119.29 505.64,119.04" stroke="#00B8E7"/>
<polyline points="413.31,151.32 417.04,128.05 421.18,124.85 425.32,123.52 429.46,122.31 433.60,121.23 437.74,120.92 446.02,120.35 454.30,120.08 462.58,119.81 470.86,119.58 479.14,119.38 487.42,119.19 495.70,119.00 505.64,118.77" stroke="#49A0FF"/>
<polyline points="413.31,155.00 417.04,130.03 421.18,125.77 425.32,124.28 429.46,123.03 433.60,121.94 437.74,121.66 446.02,121.13 454.30,120.76 462.58,120.39 470.86,120.08 479.14,119.86 487.42,119.63 495.70,119.41 505.64,119.14" stroke="#00B1F4"/>
<polyline points="413.31,156.78 417.04,130.99 421.18,126.22 425.32,124.66 429.46,123.38 433.60,122.29 437.74,122.02 446.02,121.50 454.30,121.09 462.58,120.67 470.86,120.32 479.14,120.08 487.42,119.85 495.70,119.61 505.64,119.32" stroke="#00A9FF"/>
<polyline points="413.31,147.12 417.04,125.79 421.18,123.79 425.32,122.64 429.46,121.49 433.60,120.42 437.74,120.07 446.02,119.46 454.30,119.31 462.58,119.15 470.86,119.00 479.14,118.85 487.42,118.69 495.70,118.54 505.64,118.35" stroke="#C77CFF"/>
<polyline points="413.31,145.03 417.04,125.26 421.18,123.46 425.32,122.38 429.46,121.30 433.60,120.29 437.74,119.95 446.02,119.35 454.30,119.21 462.58,119.06 470.86,118.92 479.14,118.78 487.42,118.63 495.70,118.49 505.64,118.32" stroke="#DD71FA"/>
<polyline points="413.31,142.94 417.04,124.73 421.18,123.12 425.32,122.11 429.46,121.11 433.60,120.17 437.74,119.83 446.02,119.23 454.30,119.10 462.58,118.97 470.86,118.84 479.14,118.71 487.42,118.58 495.70,118.44 505.64,118.29" stroke="#ED68ED"/>
<polyline points="413.31,140.85 417.04,124.20 421.18,122.78 425.32,121.85 429.46,120.92 433.60,120.04 437.74,119.71 446.02,119.12 454.30,119.00 462.58,118.88 470.86,118.76 479.14,118.64 487.42,118.52 495.70,118.40 505.64,118.25" stroke="#F862DE"/>
<polyline points="413.31,138.76 417.04,123.67 421.18,122.45 425.32,121.59 429.46,120.72 433.60,119.91 437.74,119.58 446.02,119.01 454.30,118.90 462.58,118.79 470.86,118.68 479.14,118.57 487.42,118.46 495.70,118.35 505.64,118.22" stroke="#FF61CC"/>
<polyline points="413.31,136.67 417.04,123.14 421.18,122.11 425.32,121.32 429.46,120.53 433.60,119.79 437.74,119.46 446.02,118.89 454.30,118.79 462.58,118.70 470.86,118.60 479.14,118.50 487.42,118.40 495.70,118.30 505.64,118.18" stroke="#FF63B8"/>
<polyline points="413.31,134.58 417.04,122.61 421.18,121.78 425.32,121.06 429.46,120.34 433.60,119.66 437.74,119.34 446.02,118.78 454.30,118.69 462.58,118.60 470.86,118.52 479.14,118.43 487.42,118.34 495.70,118.25 505.64,118.15" stroke="#FF68A1"/>
<polyline points="413.31,132.49 417.04,122.08 421.18,121.44 425.32,120.79 429.46,120.15 433.60,119.53 437.74,119.22 446.02,118.67 454.30,118.59 462.58,118.51 470.86,118.44 479.14,118.36 487.42,118.28 495.70,118.20 505.64,118.11" stroke="#FE6E88"/>
</g>
<line x1="433.60" y1="115.70" x2="433.60" y2="120.30" stroke="#8A8A8A" stroke-width="1.0"/>
<line x1="433.60" y1="125.50" x2="433.60" y2="135.30" stroke="#8A8A8A" stroke-width="1.0"/>
<line x1="433.60" y1="140.90" x2="433.60" y2="150.30" stroke="#8A8A8A" stroke-width="1.0"/>
<line x1="433.60" y1="155.90" x2="433.60" y2="160.70" stroke="#8A8A8A" stroke-width="1.0"/>
<text x="437.20" y="140.87" font-size="6.6" fill="#595959">Suggested</text>
<text x="437.20" y="148.72" font-size="6.6" fill="#595959">sequencing</text>
<text x="437.20" y="156.57" font-size="6.6" fill="#595959">depth: 5M</text>
<rect x="409.60" y="115.70" width="100.80" height="45.00" fill="none" stroke="#333333" stroke-width="1.0"/>
<line x1="407.80" y1="116.90" x2="409.60" y2="116.90" stroke="#333333" stroke-width="0.8"/>
<text x="407.40" y="119.23" text-anchor="end" font-size="6.5">1.00</text>
<line x1="407.80" y1="124.98" x2="409.60" y2="124.98" stroke="#333333" stroke-width="0.8"/>
<text x="407.40" y="127.31" text-anchor="end" font-size="6.5">0.90</text>
<line x1="407.80" y1="133.06" x2="409.60" y2="133.06" stroke="#333333" stroke-width="0.8"/>
<text x="407.40" y="135.39" text-anchor="end" font-size="6.5">0.80</text>
<line x1="407.80" y1="141.14" x2="409.60" y2="141.14" stroke="#333333" stroke-width="0.8"/>
<text x="407.40" y="143.47" text-anchor="end" font-size="6.5">0.70</text>
<line x1="407.80" y1="149.22" x2="409.60" y2="149.22" stroke="#333333" stroke-width="0.8"/>
<text x="407.40" y="151.55" text-anchor="end" font-size="6.5">0.60</text>
<line x1="407.80" y1="157.30" x2="409.60" y2="157.30" stroke="#333333" stroke-width="0.8"/>
<text x="407.40" y="159.63" text-anchor="end" font-size="6.5">0.50</text>
<line x1="412.90" y1="160.70" x2="412.90" y2="162.50" stroke="#333333" stroke-width="0.8"/>
<text x="412.90" y="168.03" text-anchor="middle" font-size="6.5">0</text>
<line x1="433.60" y1="160.70" x2="433.60" y2="162.50" stroke="#333333" stroke-width="0.8"/>
<text x="433.60" y="168.03" text-anchor="middle" font-size="6.5">5</text>
<line x1="454.30" y1="160.70" x2="454.30" y2="162.50" stroke="#333333" stroke-width="0.8"/>
<text x="454.30" y="168.03" text-anchor="middle" font-size="6.5">10</text>
<line x1="475.00" y1="160.70" x2="475.00" y2="162.50" stroke="#333333" stroke-width="0.8"/>
<text x="475.00" y="168.03" text-anchor="middle" font-size="6.5">15</text>
<line x1="495.70" y1="160.70" x2="495.70" y2="162.50" stroke="#333333" stroke-width="0.8"/>
<text x="495.70" y="168.03" text-anchor="middle" font-size="6.5">20</text>
<line x1="387.8" y1="111.00" x2="392.0" y2="115.00" stroke="#E41A1C" stroke-width="1.1"/>
<path d="M393.4 116.40 L390.6 115.40 L392.4 113.60 Z" fill="#E41A1C"/>
<text x="0" y="0" text-anchor="middle" fill="#1A1A1A" transform="translate(354.50,222.80) rotate(-90)" dominant-baseline="central">Weighted UniFrac distance</text>
<g class="cv" fill="none" stroke-width="2.0" stroke-linejoin="round" stroke-linecap="butt">
<polyline points="382.55,243.89 383.05,198.59 383.60,193.60 384.15,192.53 384.69,192.00 385.24,191.63 385.79,191.26 386.89,190.94 387.99,190.74 389.08,190.53 390.18,190.32 391.28,190.11 392.37,189.90 393.47,189.69 394.79,189.44" stroke="#F8766D"/>
<polyline points="382.55,239.17 383.05,196.75 383.60,192.70 384.15,191.78 384.69,191.35 385.24,191.06 385.79,190.76 386.89,190.50 387.99,190.33 389.08,190.15 390.18,189.98 391.28,189.81 392.37,189.63 393.47,189.46 394.79,189.25" stroke="#F07E4C"/>
<polyline points="382.55,234.44 383.05,194.91 383.60,191.80 384.15,191.03 384.69,190.71 385.24,190.48 385.79,190.25 386.89,190.05 387.99,189.92 389.08,189.78 390.18,189.64 391.28,189.50 392.37,189.37 393.47,189.23 394.79,189.07" stroke="#E68613"/>
<polyline points="382.55,229.72 383.05,193.06 383.60,190.89 384.15,190.29 384.69,190.07 385.24,189.91 385.79,189.75 386.89,189.61 387.99,189.51 389.08,189.40 390.18,189.30 391.28,189.20 392.37,189.10 393.47,189.00 394.79,188.88" stroke="#DA8E00"/>
<polyline points="382.55,224.99 383.05,191.22 383.60,189.99 384.15,189.54 384.69,189.42 385.24,189.34 385.79,189.25 386.89,189.16 387.99,189.10 389.08,189.03 390.18,188.96 391.28,188.90 392.37,188.83 393.47,188.77 394.79,188.69" stroke="#CD9600"/>
<polyline points="382.55,220.27 383.05,189.38 383.60,189.09 384.15,188.79 384.69,188.78 385.24,188.76 385.79,188.75 386.89,188.72 387.99,188.69 389.08,188.66 390.18,188.63 391.28,188.60 392.37,188.57 393.47,188.54 394.79,188.50" stroke="#BD9D00"/>
<polyline points="382.55,218.30 383.05,189.34 383.60,189.08 384.15,188.83 384.69,188.81 385.24,188.79 385.79,188.78 386.89,188.74 387.99,188.71 389.08,188.67 390.18,188.64 391.28,188.61 392.37,188.57 393.47,188.54 394.79,188.50" stroke="#ABA300"/>
<polyline points="382.55,216.33 383.05,189.30 383.60,189.08 384.15,188.86 384.69,188.84 385.24,188.82 385.79,188.80 386.89,188.77 387.99,188.73 389.08,188.69 390.18,188.66 391.28,188.62 392.37,188.58 393.47,188.54 394.79,188.50" stroke="#96A900"/>
<polyline points="382.55,254.10 383.05,195.96 383.60,192.31 384.15,191.46 384.69,191.08 385.24,190.81 385.79,190.54 386.89,190.31 387.99,190.15 389.08,189.99 390.18,189.83 391.28,189.68 392.37,189.52 393.47,189.36 394.79,189.17" stroke="#00C0B0"/>
<polyline points="382.55,254.14 383.05,195.96 383.60,192.31 384.15,191.46 384.69,191.08 385.24,190.81 385.79,190.54 386.89,190.31 387.99,190.15 389.08,189.99 390.18,189.83 391.28,189.68 392.37,189.52 393.47,189.36 394.79,189.17" stroke="#00C19A"/>
<polyline points="382.55,254.18 383.05,195.96 383.60,192.31 384.15,191.46 384.69,191.08 385.24,190.81 385.79,190.54 386.89,190.31 387.99,190.15 389.08,189.99 390.18,189.83 391.28,189.68 392.37,189.52 393.47,189.36 394.79,189.17" stroke="#00C082"/>
<polyline points="382.55,254.22 383.05,195.96 383.60,192.31 384.15,191.46 384.69,191.08 385.24,190.81 385.79,190.54 386.89,190.31 387.99,190.15 389.08,189.99 390.18,189.83 391.28,189.68 392.37,189.52 393.47,189.36 394.79,189.17" stroke="#00BE67"/>
<polyline points="382.55,254.34 383.05,195.96 383.60,192.31 384.15,191.46 384.69,191.08 385.24,190.81 385.79,190.54 386.89,190.31 387.99,190.15 389.08,189.99 390.18,189.83 391.28,189.68 392.37,189.52 393.47,189.36 394.79,189.17" stroke="#7CAE00"/>
<polyline points="382.55,254.43 383.05,195.96 383.60,192.31 384.15,191.46 384.69,191.08 385.24,190.81 385.79,190.54 386.89,190.31 387.99,190.15 389.08,189.99 390.18,189.83 391.28,189.68 392.37,189.52 393.47,189.36 394.79,189.17" stroke="#59B300"/>
<polyline points="382.55,254.59 383.05,195.96 383.60,192.31 384.15,191.46 384.69,191.08 385.24,190.81 385.79,190.54 386.89,190.31 387.99,190.15 389.08,189.99 390.18,189.83 391.28,189.68 392.37,189.52 393.47,189.36 394.79,189.17" stroke="#00BB46"/>
<polyline points="382.55,254.75 383.05,195.96 383.60,192.31 384.15,191.46 384.69,191.08 385.24,190.81 385.79,190.54 386.89,190.31 387.99,190.15 389.08,189.99 390.18,189.83 391.28,189.68 392.37,189.52 393.47,189.36 394.79,189.17" stroke="#0CB702"/>
<polyline points="382.55,235.46 383.05,195.30 383.60,191.99 384.15,191.20 384.69,190.85 385.24,190.61 385.79,190.36 386.89,190.15 387.99,190.00 389.08,189.86 390.18,189.71 391.28,189.57 392.37,189.42 393.47,189.28 394.79,189.11" stroke="#00BFC4"/>
<polyline points="382.55,228.70 383.05,192.67 383.60,190.70 384.15,190.13 384.69,189.93 385.24,189.79 385.79,189.64 386.89,189.51 387.99,189.42 389.08,189.32 390.18,189.23 391.28,189.14 392.37,189.04 393.47,188.95 394.79,188.84" stroke="#00BCD7"/>
<polyline points="382.55,223.64 383.05,190.69 383.60,189.73 384.15,189.33 384.69,189.24 385.24,189.17 385.79,189.11 386.89,189.04 387.99,188.98 389.08,188.92 390.18,188.87 391.28,188.81 392.37,188.76 393.47,188.70 394.79,188.63" stroke="#8494FF"/>
<polyline points="382.55,221.28 383.05,189.77 383.60,189.28 384.15,188.95 384.69,188.92 385.24,188.89 385.79,188.85 386.89,188.81 387.99,188.77 389.08,188.74 390.18,188.70 391.28,188.66 392.37,188.62 393.47,188.59 394.79,188.54" stroke="#AA88FF"/>
<polyline points="382.55,242.21 383.05,197.93 383.60,193.28 384.15,192.26 384.69,191.77 385.24,191.42 385.79,191.08 386.89,190.79 387.99,190.59 389.08,190.39 390.18,190.20 391.28,190.00 392.37,189.81 393.47,189.61 394.79,189.37" stroke="#00B8E7"/>
<polyline points="382.55,233.77 383.05,194.64 383.60,191.67 384.15,190.93 384.69,190.62 385.24,190.40 385.79,190.18 386.89,189.99 387.99,189.86 389.08,189.73 390.18,189.59 391.28,189.46 392.37,189.33 393.47,189.20 394.79,189.04" stroke="#49A0FF"/>
<polyline points="382.55,245.58 383.05,199.25 383.60,193.93 384.15,192.80 384.69,192.23 385.24,191.83 385.79,191.44 386.89,191.10 387.99,190.88 389.08,190.66 390.18,190.44 391.28,190.22 392.37,190.00 393.47,189.77 394.79,189.51" stroke="#00B1F4"/>
<polyline points="382.55,251.32 383.05,201.49 383.60,195.02 384.15,193.70 384.69,193.01 385.24,192.53 385.79,192.05 386.89,191.64 387.99,191.38 389.08,191.11 390.18,190.85 391.28,190.59 392.37,190.32 393.47,190.06 394.79,189.74" stroke="#00A9FF"/>
<polyline points="382.55,220.27 383.05,189.38 383.60,189.09 384.15,188.79 384.69,188.78 385.24,188.76 385.79,188.75 386.89,188.72 387.99,188.69 389.08,188.66 390.18,188.63 391.28,188.60 392.37,188.57 393.47,188.54 394.79,188.50" stroke="#C77CFF"/>
<polyline points="382.55,218.26 383.05,189.34 383.60,189.08 384.15,188.83 384.69,188.81 385.24,188.79 385.79,188.78 386.89,188.74 387.99,188.71 389.08,188.68 390.18,188.64 391.28,188.61 392.37,188.57 393.47,188.54 394.79,188.50" stroke="#DD71FA"/>
<polyline points="382.55,216.25 383.05,189.29 383.60,189.08 384.15,188.86 384.69,188.84 385.24,188.82 385.79,188.80 386.89,188.77 387.99,188.73 389.08,188.69 390.18,188.66 391.28,188.62 392.37,188.58 393.47,188.54 394.79,188.50" stroke="#ED68ED"/>
<polyline points="382.55,214.25 383.05,189.25 383.60,189.07 384.15,188.89 384.69,188.87 385.24,188.85 385.79,188.83 386.89,188.79 387.99,188.75 389.08,188.71 390.18,188.67 391.28,188.63 392.37,188.59 393.47,188.55 394.79,188.50" stroke="#F862DE"/>
<polyline points="382.55,212.24 383.05,189.21 383.60,189.07 384.15,188.93 384.69,188.91 385.24,188.88 385.79,188.86 386.89,188.82 387.99,188.77 389.08,188.73 390.18,188.69 391.28,188.64 392.37,188.60 393.47,188.55 394.79,188.50" stroke="#FF61CC"/>
<polyline points="382.55,210.24 383.05,189.17 383.60,189.07 384.15,188.96 384.69,188.94 385.24,188.91 385.79,188.89 386.89,188.84 387.99,188.80 389.08,188.75 390.18,188.70 391.28,188.65 392.37,188.60 393.47,188.56 394.79,188.50" stroke="#FF63B8"/>
<polyline points="382.55,208.23 383.05,189.13 383.60,189.06 384.15,189.00 384.69,188.97 385.24,188.95 385.79,188.92 386.89,188.87 387.99,188.82 389.08,188.77 390.18,188.71 391.28,188.66 392.37,188.61 393.47,188.56 394.79,188.50" stroke="#FF68A1"/>
<polyline points="382.55,206.23 383.05,189.09 383.60,189.06 384.15,189.03 384.69,189.00 385.24,188.98 385.79,188.95 386.89,188.89 387.99,188.84 389.08,188.78 390.18,188.73 391.28,188.67 392.37,188.62 393.47,188.57 394.79,188.50" stroke="#FE6E88"/>
</g>
<rect x="376.60" y="185.40" width="135.60" height="74.80" fill="none" stroke="#333333" stroke-width="1.1"/>
<line x1="382.50" y1="260.20" x2="382.50" y2="262.20" stroke="#333333" stroke-width="0.8"/>
<text x="382.50" y="270.28" text-anchor="middle" font-size="6.9">0</text>
<line x1="409.93" y1="260.20" x2="409.93" y2="262.20" stroke="#333333" stroke-width="0.8"/>
<text x="409.93" y="270.28" text-anchor="middle" font-size="6.9">50</text>
<line x1="437.36" y1="260.20" x2="437.36" y2="262.20" stroke="#333333" stroke-width="0.8"/>
<text x="437.36" y="270.28" text-anchor="middle" font-size="6.9">100</text>
<line x1="464.79" y1="260.20" x2="464.79" y2="262.20" stroke="#333333" stroke-width="0.8"/>
<text x="464.79" y="270.28" text-anchor="middle" font-size="6.9">150</text>
<line x1="492.22" y1="260.20" x2="492.22" y2="262.20" stroke="#333333" stroke-width="0.8"/>
<text x="492.22" y="270.28" text-anchor="middle" font-size="6.9">200</text>
<line x1="374.60" y1="188.50" x2="376.60" y2="188.50" stroke="#333333" stroke-width="0.8"/>
<text x="373.80" y="190.97" text-anchor="end" font-size="6.9">1.00</text>
<line x1="374.60" y1="203.12" x2="376.60" y2="203.12" stroke="#333333" stroke-width="0.8"/>
<text x="373.80" y="205.60" text-anchor="end" font-size="6.9">0.75</text>
<line x1="374.60" y1="217.75" x2="376.60" y2="217.75" stroke="#333333" stroke-width="0.8"/>
<text x="373.80" y="220.22" text-anchor="end" font-size="6.9">0.50</text>
<line x1="374.60" y1="232.38" x2="376.60" y2="232.38" stroke="#333333" stroke-width="0.8"/>
<text x="373.80" y="234.85" text-anchor="end" font-size="6.9">0.25</text>
<line x1="374.60" y1="247.00" x2="376.60" y2="247.00" stroke="#333333" stroke-width="0.8"/>
<text x="373.80" y="249.47" text-anchor="end" font-size="6.9">0.00</text>
<g class="cv" fill="none" stroke-width="2.3" stroke-linejoin="round" stroke-linecap="butt">
<polyline points="521.95,215.11 526.89,198.47 532.37,193.47 537.86,192.53 543.34,191.66 548.83,190.89 554.32,190.55 559.80,190.22 565.29,190.03 570.77,189.89 576.26,189.75 587.23,189.46 598.20,189.18 609.18,189.05 620.15,188.92 631.12,188.79 644.83,188.63" stroke="#F8766D"/>
<polyline points="521.95,228.19 526.89,203.23 532.37,195.84 537.86,194.38 543.34,193.03 548.83,191.84 554.32,191.33 559.80,190.82 565.29,190.55 570.77,190.35 576.26,190.15 587.23,189.74 598.20,189.34 609.18,189.18 620.15,189.02 631.12,188.86 644.83,188.67" stroke="#F07E4C"/>
<polyline points="521.95,224.14 526.89,201.33 532.37,194.89 537.86,193.64 543.34,192.48 548.83,191.46 554.32,191.02 559.80,190.58 565.29,190.34 570.77,190.17 576.26,189.99 587.23,189.63 598.20,189.27 609.18,189.13 620.15,188.98 631.12,188.83 644.83,188.65" stroke="#E68613"/>
<polyline points="521.95,213.54 526.89,197.52 532.37,193.00 537.86,192.16 543.34,191.39 548.83,190.70 554.32,190.40 559.80,190.10 565.29,189.93 570.77,189.80 576.26,189.67 587.23,189.40 598.20,189.14 609.18,189.02 620.15,188.90 631.12,188.77 644.83,188.62" stroke="#DA8E00"/>
<polyline points="521.95,220.90 526.89,200.38 532.37,194.42 537.86,193.27 543.34,192.21 548.83,191.27 554.32,190.86 559.80,190.46 565.29,190.24 570.77,190.07 576.26,189.91 587.23,189.57 598.20,189.24 609.18,189.10 620.15,188.96 631.12,188.82 644.83,188.64" stroke="#CD9600"/>
<polyline points="521.95,219.16 526.89,199.42 532.37,193.94 537.86,192.90 543.34,191.93 548.83,191.08 554.32,190.71 559.80,190.34 565.29,190.14 570.77,189.98 576.26,189.83 587.23,189.52 598.20,189.21 609.18,189.07 620.15,188.94 631.12,188.80 644.83,188.63" stroke="#BD9D00"/>
<polyline points="521.95,210.96 526.89,196.57 532.37,192.52 537.86,191.79 543.34,191.11 548.83,190.51 554.32,190.24 559.80,189.98 565.29,189.83 570.77,189.71 576.26,189.59 587.23,189.35 598.20,189.11 609.18,188.99 620.15,188.88 631.12,188.76 644.83,188.61" stroke="#ABA300"/>
<polyline points="521.95,226.13 526.89,202.28 532.37,195.37 537.86,194.01 543.34,192.75 548.83,191.65 554.32,191.17 559.80,190.70 565.29,190.45 570.77,190.26 576.26,190.07 587.23,189.68 598.20,189.31 609.18,189.15 620.15,189.00 631.12,188.85 644.83,188.66" stroke="#96A900"/>
<polyline points="521.95,231.09 526.89,204.60 532.37,196.52 537.86,194.91 543.34,193.42 548.83,192.11 554.32,191.55 559.80,190.99 565.29,190.70 570.77,190.48 576.26,190.26 587.23,189.82 598.20,189.38 609.18,189.22 620.15,189.05 631.12,188.89 644.83,188.68" stroke="#00C0B0"/>
<polyline points="521.95,231.09 526.89,204.56 532.37,196.51 537.86,194.90 543.34,193.41 548.83,192.10 554.32,191.54 559.80,190.98 565.29,190.70 570.77,190.48 576.26,190.26 587.23,189.82 598.20,189.38 609.18,189.22 620.15,189.05 631.12,188.89 644.83,188.68" stroke="#00C19A"/>
<polyline points="521.95,231.09 526.89,204.53 532.37,196.49 537.86,194.89 543.34,193.40 548.83,192.09 554.32,191.54 559.80,190.98 565.29,190.69 570.77,190.47 576.26,190.25 587.23,189.82 598.20,189.38 609.18,189.22 620.15,189.05 631.12,188.88 644.83,188.68" stroke="#00C082"/>
<polyline points="521.95,230.59 526.89,204.49 532.37,196.47 537.86,194.87 543.34,193.39 548.83,192.09 554.32,191.53 559.80,190.98 565.29,190.69 570.77,190.47 576.26,190.25 587.23,189.81 598.20,189.38 609.18,189.22 620.15,189.05 631.12,188.88 644.83,188.68" stroke="#00BE67"/>
<polyline points="521.95,230.75 526.89,204.42 532.37,196.44 537.86,194.85 543.34,193.37 548.83,192.07 554.32,191.52 559.80,190.97 565.29,190.68 570.77,190.46 576.26,190.25 587.23,189.81 598.20,189.38 609.18,189.21 620.15,189.05 631.12,188.88 644.83,188.68" stroke="#7CAE00"/>
<polyline points="521.95,230.34 526.89,204.46 532.37,196.45 537.86,194.86 543.34,193.38 548.83,192.08 554.32,191.53 559.80,190.97 565.29,190.69 570.77,190.47 576.26,190.25 587.23,189.81 598.20,189.38 609.18,189.21 620.15,189.05 631.12,188.88 644.83,188.68" stroke="#59B300"/>
<polyline points="521.95,231.09 526.89,204.67 532.37,196.56 537.86,194.94 543.34,193.44 548.83,192.12 554.32,191.56 559.80,191.00 565.29,190.71 570.77,190.49 576.26,190.27 587.23,189.82 598.20,189.39 609.18,189.22 620.15,189.05 631.12,188.89 644.83,188.68" stroke="#00BB46"/>
<polyline points="521.95,231.09 526.89,204.70 532.37,196.58 537.86,194.95 543.34,193.45 548.83,192.13 554.32,191.57 559.80,191.00 565.29,190.71 570.77,190.49 576.26,190.27 587.23,189.83 598.20,189.39 609.18,189.22 620.15,189.05 631.12,188.89 644.83,188.68" stroke="#0CB702"/>
<polyline points="521.95,224.43 526.89,201.83 532.37,195.14 537.86,193.84 543.34,192.62 548.83,191.56 554.32,191.10 559.80,190.64 565.29,190.40 570.77,190.21 576.26,190.03 587.23,189.66 598.20,189.29 609.18,189.14 620.15,188.99 631.12,188.84 644.83,188.66" stroke="#00BFC4"/>
<polyline points="521.95,199.12 526.89,192.01 532.37,190.25 537.86,190.02 543.34,189.80 548.83,189.61 554.32,189.50 559.80,189.40 565.29,189.33 570.77,189.27 576.26,189.20 587.23,189.08 598.20,188.96 609.18,188.87 620.15,188.78 631.12,188.69 644.83,188.57" stroke="#00BCD7"/>
<polyline points="521.95,219.08 526.89,200.08 532.37,194.27 537.86,193.15 543.34,192.12 548.83,191.21 554.32,190.81 559.80,190.42 565.29,190.21 570.77,190.04 576.26,189.88 587.23,189.55 598.20,189.23 609.18,189.09 620.15,188.95 631.12,188.81 644.83,188.64" stroke="#00B8E7"/>
<polyline points="521.95,202.32 526.89,193.76 532.37,191.12 537.86,190.70 543.34,190.31 548.83,189.95 554.32,189.79 559.80,189.62 565.29,189.52 570.77,189.44 576.26,189.35 587.23,189.18 598.20,189.02 609.18,188.92 620.15,188.82 631.12,188.71 644.83,188.59" stroke="#00B1F4"/>
<polyline points="521.95,211.94 526.89,196.57 532.37,192.52 537.86,191.79 543.34,191.11 548.83,190.51 554.32,190.24 559.80,189.98 565.29,189.83 570.77,189.71 576.26,189.59 587.23,189.35 598.20,189.11 609.18,188.99 620.15,188.88 631.12,188.76 644.83,188.61" stroke="#00A9FF"/>
<polyline points="521.95,216.39 526.89,199.02 532.37,193.75 537.86,192.75 543.34,191.82 548.83,191.00 554.32,190.64 559.80,190.29 565.29,190.09 570.77,189.94 576.26,189.79 587.23,189.49 598.20,189.20 609.18,189.06 620.15,188.93 631.12,188.80 644.83,188.63" stroke="#49A0FF"/>
<polyline points="521.95,213.64 526.89,197.62 532.37,193.05 537.86,192.20 543.34,191.41 548.83,190.72 554.32,190.41 559.80,190.11 565.29,189.94 570.77,189.81 576.26,189.68 587.23,189.41 598.20,189.15 609.18,189.02 620.15,188.90 631.12,188.78 644.83,188.62" stroke="#8494FF"/>
<polyline points="521.95,207.67 526.89,195.52 532.37,192.00 537.86,191.38 543.34,190.81 548.83,190.30 554.32,190.07 559.80,189.84 565.29,189.71 570.77,189.61 576.26,189.50 587.23,189.29 598.20,189.08 609.18,188.97 620.15,188.85 631.12,188.74 644.83,188.60" stroke="#AA88FF"/>
<polyline points="521.95,229.92 526.89,203.93 532.37,196.19 537.86,194.65 543.34,193.23 548.83,191.98 554.32,191.44 559.80,190.91 565.29,190.63 570.77,190.42 576.26,190.20 587.23,189.78 598.20,189.36 609.18,189.20 620.15,189.04 631.12,188.88 644.83,188.67" stroke="#C77CFF"/>
<polyline points="521.95,227.82 526.89,203.23 532.37,195.84 537.86,194.38 543.34,193.03 548.83,191.84 554.32,191.33 559.80,190.82 565.29,190.55 570.77,190.35 576.26,190.15 587.23,189.74 598.20,189.34 609.18,189.18 620.15,189.02 631.12,188.86 644.83,188.67" stroke="#DD71FA"/>
<polyline points="521.95,220.80 526.89,200.78 532.37,194.62 537.86,193.43 543.34,192.32 548.83,191.35 554.32,190.93 559.80,190.51 565.29,190.28 570.77,190.11 576.26,189.94 587.23,189.60 598.20,189.26 609.18,189.11 620.15,188.97 631.12,188.83 644.83,188.65" stroke="#ED68ED"/>
<polyline points="521.95,216.10 526.89,198.32 532.37,193.40 537.86,192.47 543.34,191.62 548.83,190.86 554.32,190.53 559.80,190.20 565.29,190.02 570.77,189.88 576.26,189.73 587.23,189.45 598.20,189.17 609.18,189.04 620.15,188.91 631.12,188.79 644.83,188.63" stroke="#F862DE"/>
<polyline points="521.95,206.70 526.89,194.81 532.37,191.65 537.86,191.11 543.34,190.61 548.83,190.16 554.32,189.96 559.80,189.75 565.29,189.63 570.77,189.54 576.26,189.44 587.23,189.25 598.20,189.05 609.18,188.95 620.15,188.84 631.12,188.73 644.83,188.60" stroke="#FF61CC"/>
<polyline points="521.95,200.09 526.89,192.36 532.37,190.43 537.86,190.16 543.34,189.90 548.83,189.68 554.32,189.56 559.80,189.44 565.29,189.37 570.77,189.30 576.26,189.23 587.23,189.10 598.20,188.97 609.18,188.88 620.15,188.78 631.12,188.69 644.83,188.58" stroke="#FF63B8"/>
<polyline points="521.95,196.41 526.89,190.96 532.37,189.73 537.86,189.61 543.34,189.50 548.83,189.40 554.32,189.33 559.80,189.27 565.29,189.21 570.77,189.17 576.26,189.12 587.23,189.02 598.20,188.92 609.18,188.84 620.15,188.75 631.12,188.67 644.83,188.56" stroke="#FF68A1"/>
<polyline points="521.95,193.58 526.89,190.25 532.37,189.38 537.86,189.34 543.34,189.30 548.83,189.26 554.32,189.22 559.80,189.18 565.29,189.14 570.77,189.10 576.26,189.06 587.23,188.98 598.20,188.90 609.18,188.82 620.15,188.74 631.12,188.66 644.83,188.56" stroke="#FE6E88"/>
</g>
<line x1="548.83" y1="185.50" x2="548.83" y2="192.80" stroke="#8A8A8A" stroke-width="1.0"/>
<line x1="548.83" y1="201.70" x2="548.83" y2="218.70" stroke="#8A8A8A" stroke-width="1.0"/>
<line x1="548.83" y1="226.70" x2="548.83" y2="243.60" stroke="#8A8A8A" stroke-width="1.0"/>
<line x1="548.83" y1="251.60" x2="548.83" y2="260.20" stroke="#8A8A8A" stroke-width="1.0"/>
<text x="556.73" y="240.40" font-size="6.7" fill="#595959">Suggested</text>
<text x="556.73" y="248.25" font-size="6.7" fill="#595959">sequencing</text>
<text x="556.73" y="256.10" font-size="6.7" fill="#595959">depth: 50M</text>
<rect x="515.50" y="185.40" width="135.60" height="74.80" fill="none" stroke="#333333" stroke-width="1.1"/>
<line x1="521.40" y1="260.20" x2="521.40" y2="262.20" stroke="#333333" stroke-width="0.8"/>
<text x="521.40" y="270.28" text-anchor="middle" font-size="6.9">0</text>
<line x1="548.83" y1="260.20" x2="548.83" y2="262.20" stroke="#333333" stroke-width="0.8"/>
<text x="548.83" y="270.28" text-anchor="middle" font-size="6.9">50</text>
<line x1="576.26" y1="260.20" x2="576.26" y2="262.20" stroke="#333333" stroke-width="0.8"/>
<text x="576.26" y="270.28" text-anchor="middle" font-size="6.9">100</text>
<line x1="603.69" y1="260.20" x2="603.69" y2="262.20" stroke="#333333" stroke-width="0.8"/>
<text x="603.69" y="270.28" text-anchor="middle" font-size="6.9">150</text>
<line x1="631.12" y1="260.20" x2="631.12" y2="262.20" stroke="#333333" stroke-width="0.8"/>
<text x="631.12" y="270.28" text-anchor="middle" font-size="6.9">200</text>
<rect x="409.60" y="205.40" width="100.80" height="44.80" fill="white" stroke="none" stroke-width="1"/>
<clipPath id="ic2"><rect x="409.6" y="205.4" width="100.79999999999995" height="44.79999999999998"/></clipPath>
<g class="cv" fill="none" stroke-width="2.6" stroke-linejoin="round" stroke-linecap="butt" clip-path="url(#ic2)">
<polyline points="413.31,240.93 417.04,213.59 421.18,210.58 425.32,209.93 429.46,209.61 433.60,209.39 437.74,209.16 446.02,208.97 454.30,208.85 462.58,208.72 470.86,208.60 479.14,208.47 487.42,208.35 495.70,208.22 505.64,208.07" stroke="#F8766D"/>
<polyline points="413.31,238.07 417.04,212.48 421.18,210.03 425.32,209.48 429.46,209.22 433.60,209.04 437.74,208.86 446.02,208.71 454.30,208.60 462.58,208.50 470.86,208.39 479.14,208.29 487.42,208.18 495.70,208.08 505.64,207.95" stroke="#F07E4C"/>
<polyline points="413.31,235.22 417.04,211.37 421.18,209.49 425.32,209.03 429.46,208.83 433.60,208.70 437.74,208.56 446.02,208.44 454.30,208.35 462.58,208.27 470.86,208.19 479.14,208.11 487.42,208.02 495.70,207.94 505.64,207.84" stroke="#E68613"/>
<polyline points="413.31,232.37 417.04,210.25 421.18,208.94 425.32,208.58 429.46,208.44 433.60,208.35 437.74,208.26 446.02,208.17 454.30,208.11 462.58,208.05 470.86,207.98 479.14,207.92 487.42,207.86 495.70,207.80 505.64,207.73" stroke="#DA8E00"/>
<polyline points="413.31,229.52 417.04,209.14 421.18,208.40 425.32,208.13 429.46,208.06 433.60,208.00 437.74,207.95 446.02,207.90 454.30,207.86 462.58,207.82 470.86,207.78 479.14,207.74 487.42,207.70 495.70,207.66 505.64,207.61" stroke="#CD9600"/>
<polyline points="413.31,226.67 417.04,208.03 421.18,207.85 425.32,207.68 429.46,207.67 433.60,207.66 437.74,207.65 446.02,207.63 454.30,207.61 462.58,207.59 470.86,207.58 479.14,207.56 487.42,207.54 495.70,207.52 505.64,207.50" stroke="#BD9D00"/>
<polyline points="413.31,225.48 417.04,208.00 421.18,207.85 425.32,207.70 429.46,207.69 433.60,207.68 437.74,207.67 446.02,207.65 454.30,207.63 462.58,207.61 470.86,207.59 479.14,207.56 487.42,207.54 495.70,207.52 505.64,207.50" stroke="#ABA300"/>
<polyline points="413.31,224.30 417.04,207.98 421.18,207.85 425.32,207.72 429.46,207.71 433.60,207.69 437.74,207.68 446.02,207.66 454.30,207.64 462.58,207.62 470.86,207.59 479.14,207.57 487.42,207.55 495.70,207.53 505.64,207.50" stroke="#96A900"/>
<polyline points="413.31,247.08 417.04,212.00 421.18,209.80 425.32,209.29 429.46,209.06 433.60,208.89 437.74,208.73 446.02,208.59 454.30,208.50 462.58,208.40 470.86,208.31 479.14,208.21 487.42,208.12 495.70,208.02 505.64,207.91" stroke="#00C0B0"/>
<polyline points="413.31,247.11 417.04,212.00 421.18,209.80 425.32,209.29 429.46,209.06 433.60,208.89 437.74,208.73 446.02,208.59 454.30,208.50 462.58,208.40 470.86,208.31 479.14,208.21 487.42,208.12 495.70,208.02 505.64,207.91" stroke="#00C19A"/>
<polyline points="413.31,247.13 417.04,212.00 421.18,209.80 425.32,209.29 429.46,209.06 433.60,208.89 437.74,208.73 446.02,208.59 454.30,208.50 462.58,208.40 470.86,208.31 479.14,208.21 487.42,208.12 495.70,208.02 505.64,207.91" stroke="#00C082"/>
<polyline points="413.31,247.16 417.04,212.00 421.18,209.80 425.32,209.29 429.46,209.06 433.60,208.89 437.74,208.73 446.02,208.59 454.30,208.50 462.58,208.40 470.86,208.31 479.14,208.21 487.42,208.12 495.70,208.02 505.64,207.91" stroke="#00BE67"/>
<polyline points="413.31,247.23 417.04,212.00 421.18,209.80 425.32,209.29 429.46,209.06 433.60,208.89 437.74,208.73 446.02,208.59 454.30,208.50 462.58,208.40 470.86,208.31 479.14,208.21 487.42,208.12 495.70,208.02 505.64,207.91" stroke="#7CAE00"/>
<polyline points="413.31,247.28 417.04,212.00 421.18,209.80 425.32,209.29 429.46,209.06 433.60,208.89 437.74,208.73 446.02,208.59 454.30,208.50 462.58,208.40 470.86,208.31 479.14,208.21 487.42,208.12 495.70,208.02 505.64,207.91" stroke="#59B300"/>
<polyline points="413.31,247.38 417.04,212.00 421.18,209.80 425.32,209.29 429.46,209.06 433.60,208.89 437.74,208.73 446.02,208.59 454.30,208.50 462.58,208.40 470.86,208.31 479.14,208.21 487.42,208.12 495.70,208.02 505.64,207.91" stroke="#00BB46"/>
<polyline points="413.31,247.48 417.04,212.00 421.18,209.80 425.32,209.29 429.46,209.06 433.60,208.89 437.74,208.73 446.02,208.59 454.30,208.50 462.58,208.40 470.86,208.31 479.14,208.21 487.42,208.12 495.70,208.02 505.64,207.91" stroke="#0CB702"/>
<polyline points="413.31,235.83 417.04,211.60 421.18,209.61 425.32,209.13 429.46,208.92 433.60,208.77 437.74,208.62 446.02,208.49 454.30,208.41 462.58,208.32 470.86,208.23 479.14,208.15 487.42,208.06 495.70,207.97 505.64,207.87" stroke="#00BFC4"/>
<polyline points="413.31,231.76 417.04,210.02 421.18,208.83 425.32,208.48 429.46,208.36 433.60,208.28 437.74,208.19 446.02,208.11 454.30,208.05 462.58,208.00 470.86,207.94 479.14,207.88 487.42,207.83 495.70,207.77 505.64,207.70" stroke="#00BCD7"/>
<polyline points="413.31,228.70 417.04,208.82 421.18,208.24 425.32,208.00 429.46,207.95 433.60,207.91 437.74,207.87 446.02,207.82 454.30,207.79 462.58,207.76 470.86,207.72 479.14,207.69 487.42,207.66 495.70,207.62 505.64,207.58" stroke="#8494FF"/>
<polyline points="413.31,227.28 417.04,208.27 421.18,207.97 425.32,207.77 429.46,207.75 433.60,207.73 437.74,207.71 446.02,207.69 454.30,207.67 462.58,207.64 470.86,207.62 479.14,207.60 487.42,207.57 495.70,207.55 505.64,207.52" stroke="#AA88FF"/>
<polyline points="413.31,239.91 417.04,213.19 421.18,210.39 425.32,209.77 429.46,209.47 433.60,209.26 437.74,209.06 446.02,208.88 454.30,208.76 462.58,208.64 470.86,208.52 479.14,208.41 487.42,208.29 495.70,208.17 505.64,208.03" stroke="#00B8E7"/>
<polyline points="413.31,234.82 417.04,211.21 421.18,209.41 425.32,208.97 429.46,208.78 433.60,208.65 437.74,208.52 446.02,208.40 454.30,208.32 462.58,208.24 470.86,208.16 479.14,208.08 487.42,208.00 495.70,207.92 505.64,207.82" stroke="#49A0FF"/>
<polyline points="413.31,241.94 417.04,213.99 421.18,210.77 425.32,210.09 429.46,209.75 433.60,209.51 437.74,209.27 446.02,209.07 454.30,208.94 462.58,208.80 470.86,208.67 479.14,208.54 487.42,208.40 495.70,208.27 505.64,208.11" stroke="#00B1F4"/>
<polyline points="413.31,245.41 417.04,215.34 421.18,211.44 425.32,210.64 429.46,210.22 433.60,209.93 437.74,209.64 446.02,209.40 454.30,209.24 462.58,209.08 470.86,208.92 479.14,208.76 487.42,208.60 495.70,208.44 505.64,208.25" stroke="#00A9FF"/>
<polyline points="413.31,226.67 417.04,208.03 421.18,207.85 425.32,207.68 429.46,207.67 433.60,207.66 437.74,207.65 446.02,207.63 454.30,207.61 462.58,207.59 470.86,207.58 479.14,207.56 487.42,207.54 495.70,207.52 505.64,207.50" stroke="#C77CFF"/>
<polyline points="413.31,225.46 417.04,208.00 421.18,207.85 425.32,207.70 429.46,207.69 433.60,207.68 437.74,207.67 446.02,207.65 454.30,207.63 462.58,207.61 470.86,207.59 479.14,207.56 487.42,207.54 495.70,207.52 505.64,207.50" stroke="#DD71FA"/>
<polyline points="413.31,224.25 417.04,207.98 421.18,207.85 425.32,207.72 429.46,207.71 433.60,207.70 437.74,207.68 446.02,207.66 454.30,207.64 462.58,207.62 470.86,207.59 479.14,207.57 487.42,207.55 495.70,207.53 505.64,207.50" stroke="#ED68ED"/>
<polyline points="413.31,223.04 417.04,207.95 421.18,207.85 425.32,207.74 429.46,207.73 433.60,207.71 437.74,207.70 446.02,207.68 454.30,207.65 462.58,207.63 470.86,207.60 479.14,207.58 487.42,207.55 495.70,207.53 505.64,207.50" stroke="#F862DE"/>
<polyline points="413.31,221.83 417.04,207.93 421.18,207.84 425.32,207.76 429.46,207.75 433.60,207.73 437.74,207.72 446.02,207.69 454.30,207.67 462.58,207.64 470.86,207.61 479.14,207.59 487.42,207.56 495.70,207.53 505.64,207.50" stroke="#FF61CC"/>
<polyline points="413.31,220.62 417.04,207.90 421.18,207.84 425.32,207.78 429.46,207.76 433.60,207.75 437.74,207.74 446.02,207.71 454.30,207.68 462.58,207.65 470.86,207.62 479.14,207.59 487.42,207.56 495.70,207.53 505.64,207.50" stroke="#FF63B8"/>
<polyline points="413.31,219.41 417.04,207.88 421.18,207.84 425.32,207.80 429.46,207.78 433.60,207.77 437.74,207.75 446.02,207.72 454.30,207.69 462.58,207.66 470.86,207.63 479.14,207.60 487.42,207.57 495.70,207.54 505.64,207.50" stroke="#FF68A1"/>
<polyline points="413.31,218.20 417.04,207.85 421.18,207.84 425.32,207.82 429.46,207.80 433.60,207.79 437.74,207.77 446.02,207.74 454.30,207.70 462.58,207.67 470.86,207.64 479.14,207.61 487.42,207.57 495.70,207.54 505.64,207.50" stroke="#FE6E88"/>
</g>
<line x1="433.60" y1="205.40" x2="433.60" y2="210.20" stroke="#8A8A8A" stroke-width="1.0"/>
<line x1="433.60" y1="215.40" x2="433.60" y2="225.20" stroke="#8A8A8A" stroke-width="1.0"/>
<line x1="433.60" y1="230.60" x2="433.60" y2="240.00" stroke="#8A8A8A" stroke-width="1.0"/>
<line x1="433.60" y1="245.00" x2="433.60" y2="249.80" stroke="#8A8A8A" stroke-width="1.0"/>
<text x="437.20" y="230.57" font-size="6.6" fill="#595959">Suggested</text>
<text x="437.20" y="238.42" font-size="6.6" fill="#595959">sequencing</text>
<text x="437.20" y="246.27" font-size="6.6" fill="#595959">depth: 5M</text>
<rect x="409.60" y="205.40" width="100.80" height="44.80" fill="none" stroke="#333333" stroke-width="1.0"/>
<line x1="407.80" y1="207.50" x2="409.60" y2="207.50" stroke="#333333" stroke-width="0.8"/>
<text x="407.40" y="209.83" text-anchor="end" font-size="6.5">1.00</text>
<line x1="407.80" y1="216.32" x2="409.60" y2="216.32" stroke="#333333" stroke-width="0.8"/>
<text x="407.40" y="218.65" text-anchor="end" font-size="6.5">0.75</text>
<line x1="407.80" y1="225.15" x2="409.60" y2="225.15" stroke="#333333" stroke-width="0.8"/>
<text x="407.40" y="227.48" text-anchor="end" font-size="6.5">0.50</text>
<line x1="407.80" y1="233.98" x2="409.60" y2="233.98" stroke="#333333" stroke-width="0.8"/>
<text x="407.40" y="236.30" text-anchor="end" font-size="6.5">0.25</text>
<line x1="407.80" y1="242.80" x2="409.60" y2="242.80" stroke="#333333" stroke-width="0.8"/>
<text x="407.40" y="245.13" text-anchor="end" font-size="6.5">0.00</text>
<line x1="412.90" y1="250.20" x2="412.90" y2="252.00" stroke="#333333" stroke-width="0.8"/>
<text x="412.90" y="258.03" text-anchor="middle" font-size="6.5">0</text>
<line x1="433.60" y1="250.20" x2="433.60" y2="252.00" stroke="#333333" stroke-width="0.8"/>
<text x="433.60" y="258.03" text-anchor="middle" font-size="6.5">5</text>
<line x1="454.30" y1="250.20" x2="454.30" y2="252.00" stroke="#333333" stroke-width="0.8"/>
<text x="454.30" y="258.03" text-anchor="middle" font-size="6.5">10</text>
<line x1="475.00" y1="250.20" x2="475.00" y2="252.00" stroke="#333333" stroke-width="0.8"/>
<text x="475.00" y="258.03" text-anchor="middle" font-size="6.5">15</text>
<line x1="495.70" y1="250.20" x2="495.70" y2="252.00" stroke="#333333" stroke-width="0.8"/>
<text x="495.70" y="258.03" text-anchor="middle" font-size="6.5">20</text>
<line x1="387.8" y1="199.70" x2="392.0" y2="203.70" stroke="#E41A1C" stroke-width="1.1"/>
<path d="M393.4 205.10 L390.6 204.10 L392.4 202.30 Z" fill="#E41A1C"/>
<text x="514.00" y="276.92" text-anchor="middle" fill="#1A1A1A">Subsampling depth (million reads)</text>
<text x="654.10" y="13.85" font-size="6.9" fill="#1A1A1A">sample_id</text>
<line x1="654.90" y1="20.90" x2="661.10" y2="20.90" stroke="#F8766D" stroke-width="2.4" class="cv"/>
<text x="664.00" y="22.98" font-size="5.8" fill="#262626">s11_1</text>
<line x1="654.90" y1="28.57" x2="661.10" y2="28.57" stroke="#F07E4C" stroke-width="2.4" class="cv"/>
<text x="664.00" y="30.65" font-size="5.8" fill="#262626">s11_11</text>
<line x1="654.90" y1="36.25" x2="661.10" y2="36.25" stroke="#E68613" stroke-width="2.4" class="cv"/>
<text x="664.00" y="38.33" font-size="5.8" fill="#262626">s11_12</text>
<line x1="654.90" y1="43.92" x2="661.10" y2="43.92" stroke="#DA8E00" stroke-width="2.4" class="cv"/>
<text x="664.00" y="46.00" font-size="5.8" fill="#262626">s11_14</text>
<line x1="654.90" y1="51.60" x2="661.10" y2="51.60" stroke="#CD9600" stroke-width="2.4" class="cv"/>
<text x="664.00" y="53.68" font-size="5.8" fill="#262626">s11_2</text>
<line x1="654.90" y1="59.27" x2="661.10" y2="59.27" stroke="#BD9D00" stroke-width="2.4" class="cv"/>
<text x="664.00" y="61.35" font-size="5.8" fill="#262626">s11_6</text>
<line x1="654.90" y1="66.95" x2="661.10" y2="66.95" stroke="#ABA300" stroke-width="2.4" class="cv"/>
<text x="664.00" y="69.03" font-size="5.8" fill="#262626">s11_7</text>
<line x1="654.90" y1="74.62" x2="661.10" y2="74.62" stroke="#96A900" stroke-width="2.4" class="cv"/>
<text x="664.00" y="76.70" font-size="5.8" fill="#262626">s11_9</text>
<line x1="654.90" y1="82.30" x2="661.10" y2="82.30" stroke="#7CAE00" stroke-width="2.4" class="cv"/>
<text x="664.00" y="84.38" font-size="5.8" fill="#262626">s13_1</text>
<line x1="654.90" y1="89.97" x2="661.10" y2="89.97" stroke="#59B300" stroke-width="2.4" class="cv"/>
<text x="664.00" y="92.05" font-size="5.8" fill="#262626">s13_11</text>
<line x1="654.90" y1="97.65" x2="661.10" y2="97.65" stroke="#0CB702" stroke-width="2.4" class="cv"/>
<text x="664.00" y="99.73" font-size="5.8" fill="#262626">s13_12</text>
<line x1="654.90" y1="105.32" x2="661.10" y2="105.32" stroke="#00BB46" stroke-width="2.4" class="cv"/>
<text x="664.00" y="107.40" font-size="5.8" fill="#262626">s13_14</text>
<line x1="654.90" y1="113.00" x2="661.10" y2="113.00" stroke="#00BE67" stroke-width="2.4" class="cv"/>
<text x="664.00" y="115.08" font-size="5.8" fill="#262626">s13_2</text>
<line x1="654.90" y1="120.67" x2="661.10" y2="120.67" stroke="#00C082" stroke-width="2.4" class="cv"/>
<text x="664.00" y="122.75" font-size="5.8" fill="#262626">s13_6</text>
<line x1="654.90" y1="128.35" x2="661.10" y2="128.35" stroke="#00C19A" stroke-width="2.4" class="cv"/>
<text x="664.00" y="130.43" font-size="5.8" fill="#262626">s13_7</text>
<line x1="654.90" y1="136.03" x2="661.10" y2="136.03" stroke="#00C0B0" stroke-width="2.4" class="cv"/>
<text x="664.00" y="138.10" font-size="5.8" fill="#262626">s13_9</text>
<line x1="654.90" y1="143.70" x2="661.10" y2="143.70" stroke="#00BFC4" stroke-width="2.4" class="cv"/>
<text x="664.00" y="145.78" font-size="5.8" fill="#262626">s17_1</text>
<line x1="654.90" y1="151.38" x2="661.10" y2="151.38" stroke="#00BCD7" stroke-width="2.4" class="cv"/>
<text x="664.00" y="153.45" font-size="5.8" fill="#262626">s17_11</text>
<line x1="654.90" y1="159.05" x2="661.10" y2="159.05" stroke="#00B8E7" stroke-width="2.4" class="cv"/>
<text x="664.00" y="161.13" font-size="5.8" fill="#262626">s17_12</text>
<line x1="654.90" y1="166.72" x2="661.10" y2="166.72" stroke="#00B1F4" stroke-width="2.4" class="cv"/>
<text x="664.00" y="168.80" font-size="5.8" fill="#262626">s17_14</text>
<line x1="654.90" y1="174.40" x2="661.10" y2="174.40" stroke="#00A9FF" stroke-width="2.4" class="cv"/>
<text x="664.00" y="176.48" font-size="5.8" fill="#262626">s17_2</text>
<line x1="654.90" y1="182.07" x2="661.10" y2="182.07" stroke="#49A0FF" stroke-width="2.4" class="cv"/>
<text x="664.00" y="184.15" font-size="5.8" fill="#262626">s17_6</text>
<line x1="654.90" y1="189.75" x2="661.10" y2="189.75" stroke="#8494FF" stroke-width="2.4" class="cv"/>
<text x="664.00" y="191.83" font-size="5.8" fill="#262626">s17_7</text>
<line x1="654.90" y1="197.43" x2="661.10" y2="197.43" stroke="#AA88FF" stroke-width="2.4" class="cv"/>
<text x="664.00" y="199.50" font-size="5.8" fill="#262626">s17_9</text>
<line x1="654.90" y1="205.10" x2="661.10" y2="205.10" stroke="#C77CFF" stroke-width="2.4" class="cv"/>
<text x="664.00" y="207.18" font-size="5.8" fill="#262626">s9_1</text>
<line x1="654.90" y1="212.78" x2="661.10" y2="212.78" stroke="#DD71FA" stroke-width="2.4" class="cv"/>
<text x="664.00" y="214.85" font-size="5.8" fill="#262626">s9_11</text>
<line x1="654.90" y1="220.45" x2="661.10" y2="220.45" stroke="#ED68ED" stroke-width="2.4" class="cv"/>
<text x="664.00" y="222.53" font-size="5.8" fill="#262626">s9_12</text>
<line x1="654.90" y1="228.12" x2="661.10" y2="228.12" stroke="#F862DE" stroke-width="2.4" class="cv"/>
<text x="664.00" y="230.20" font-size="5.8" fill="#262626">s9_14</text>
<line x1="654.90" y1="235.80" x2="661.10" y2="235.80" stroke="#FF61CC" stroke-width="2.4" class="cv"/>
<text x="664.00" y="237.88" font-size="5.8" fill="#262626">s9_2</text>
<line x1="654.90" y1="243.47" x2="661.10" y2="243.47" stroke="#FF63B8" stroke-width="2.4" class="cv"/>
<text x="664.00" y="245.55" font-size="5.8" fill="#262626">s9_6</text>
<line x1="654.90" y1="251.15" x2="661.10" y2="251.15" stroke="#FF68A1" stroke-width="2.4" class="cv"/>
<text x="664.00" y="253.23" font-size="5.8" fill="#262626">s9_7</text>
<line x1="654.90" y1="258.82" x2="661.10" y2="258.82" stroke="#FE6E88" stroke-width="2.4" class="cv"/>
<text x="664.00" y="260.90" font-size="5.8" fill="#262626">s9_9</text>
</svg></body></html>
